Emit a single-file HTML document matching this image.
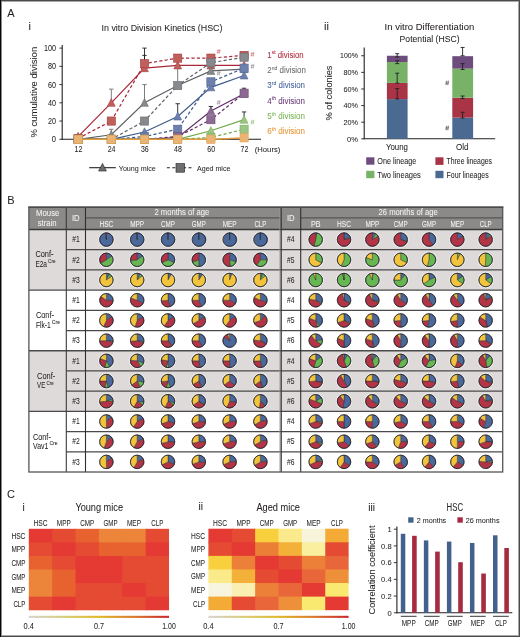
<!DOCTYPE html>
<html><head><meta charset="utf-8"><style>
html,body{margin:0;padding:0;background:#fff;overflow:hidden;width:520px;height:637px;}
svg{display:block;will-change:transform;}
text{font-family:"Liberation Sans", sans-serif;}
</style></head><body>
<svg width="520" height="637" viewBox="0 0 520 637">
<rect x="0" y="0" width="520" height="637" fill="#fff"/>
<text x="7.20" y="17.00" font-size="11" fill="#231f20" stroke="#231f20" stroke-width="0.05" >A</text>
<text x="28.60" y="29.80" font-size="11" fill="#231f20" stroke="#231f20" stroke-width="0.05" >i</text>
<text x="101.50" y="30.60" font-size="9.7" fill="#231f20" stroke="#231f20" stroke-width="0.05" textLength="121.00" lengthAdjust="spacingAndGlyphs" >In vitro Division Kinetics (HSC)</text>
<line x1="62.20" y1="45.00" x2="62.20" y2="139.80" stroke="#231f20" stroke-width="1.1" />
<line x1="61.70" y1="139.30" x2="261.00" y2="139.30" stroke="#231f20" stroke-width="1.1" />
<line x1="59.40" y1="139.30" x2="62.20" y2="139.30" stroke="#231f20" stroke-width="0.9" />
<text x="56.00" y="142.30" font-size="8.6" fill="#231f20" stroke="#231f20" stroke-width="0.05" text-anchor="end" textLength="4.20" lengthAdjust="spacingAndGlyphs" >0</text>
<line x1="59.40" y1="121.06" x2="62.20" y2="121.06" stroke="#231f20" stroke-width="0.9" />
<text x="56.00" y="124.06" font-size="8.6" fill="#231f20" stroke="#231f20" stroke-width="0.05" text-anchor="end" textLength="8.00" lengthAdjust="spacingAndGlyphs" >20</text>
<line x1="59.40" y1="102.82" x2="62.20" y2="102.82" stroke="#231f20" stroke-width="0.9" />
<text x="56.00" y="105.82" font-size="8.6" fill="#231f20" stroke="#231f20" stroke-width="0.05" text-anchor="end" textLength="8.00" lengthAdjust="spacingAndGlyphs" >40</text>
<line x1="59.40" y1="84.58" x2="62.20" y2="84.58" stroke="#231f20" stroke-width="0.9" />
<text x="56.00" y="87.58" font-size="8.6" fill="#231f20" stroke="#231f20" stroke-width="0.05" text-anchor="end" textLength="8.00" lengthAdjust="spacingAndGlyphs" >60</text>
<line x1="59.40" y1="66.34" x2="62.20" y2="66.34" stroke="#231f20" stroke-width="0.9" />
<text x="56.00" y="69.34" font-size="8.6" fill="#231f20" stroke="#231f20" stroke-width="0.05" text-anchor="end" textLength="8.00" lengthAdjust="spacingAndGlyphs" >80</text>
<line x1="59.40" y1="48.10" x2="62.20" y2="48.10" stroke="#231f20" stroke-width="0.9" />
<text x="56.00" y="51.10" font-size="8.6" fill="#231f20" stroke="#231f20" stroke-width="0.05" text-anchor="end" textLength="12.00" lengthAdjust="spacingAndGlyphs" >100</text>
<text x="78.40" y="152.40" font-size="8.6" fill="#231f20" stroke="#231f20" stroke-width="0.05" text-anchor="middle" textLength="7.80" lengthAdjust="spacingAndGlyphs" >12</text>
<text x="111.60" y="152.40" font-size="8.6" fill="#231f20" stroke="#231f20" stroke-width="0.05" text-anchor="middle" textLength="7.80" lengthAdjust="spacingAndGlyphs" >24</text>
<text x="144.80" y="152.40" font-size="8.6" fill="#231f20" stroke="#231f20" stroke-width="0.05" text-anchor="middle" textLength="7.80" lengthAdjust="spacingAndGlyphs" >36</text>
<text x="178.00" y="152.40" font-size="8.6" fill="#231f20" stroke="#231f20" stroke-width="0.05" text-anchor="middle" textLength="7.80" lengthAdjust="spacingAndGlyphs" >48</text>
<text x="211.20" y="152.40" font-size="8.6" fill="#231f20" stroke="#231f20" stroke-width="0.05" text-anchor="middle" textLength="7.80" lengthAdjust="spacingAndGlyphs" >60</text>
<text x="244.40" y="152.40" font-size="8.6" fill="#231f20" stroke="#231f20" stroke-width="0.05" text-anchor="middle" textLength="7.80" lengthAdjust="spacingAndGlyphs" >72</text>
<text x="254.80" y="152.00" font-size="8" fill="#231f20" stroke="#231f20" stroke-width="0.05" textLength="25.50" lengthAdjust="spacingAndGlyphs" >(Hours)</text>
<text x="37.50" y="92.20" font-size="8.6" fill="#231f20" stroke="#231f20" stroke-width="0.05" text-anchor="middle" textLength="90.70" lengthAdjust="spacingAndGlyphs" transform="rotate(-90 37.50 92.20)" >% cumulative division</text>
<line x1="111.30" y1="89.14" x2="111.30" y2="102.82" stroke="#6d6e71" stroke-width="0.9" />
<line x1="109.10" y1="89.14" x2="113.50" y2="89.14" stroke="#6d6e71" stroke-width="0.9" />
<line x1="111.30" y1="129.27" x2="111.30" y2="134.74" stroke="#6d6e71" stroke-width="0.9" />
<line x1="109.10" y1="129.27" x2="113.50" y2="129.27" stroke="#6d6e71" stroke-width="0.9" />
<line x1="144.50" y1="48.10" x2="144.50" y2="63.60" stroke="#231f20" stroke-width="0.9" />
<line x1="142.30" y1="48.10" x2="146.70" y2="48.10" stroke="#231f20" stroke-width="0.9" />
<line x1="144.50" y1="84.58" x2="144.50" y2="102.82" stroke="#6d6e71" stroke-width="0.9" />
<line x1="142.30" y1="84.58" x2="146.70" y2="84.58" stroke="#6d6e71" stroke-width="0.9" />
<line x1="144.50" y1="55.40" x2="144.50" y2="63.60" stroke="#231f20" stroke-width="0.9" />
<line x1="142.30" y1="55.40" x2="146.70" y2="55.40" stroke="#231f20" stroke-width="0.9" />
<line x1="177.70" y1="55.85" x2="177.70" y2="58.13" stroke="#231f20" stroke-width="0.9" />
<line x1="175.50" y1="55.85" x2="179.90" y2="55.85" stroke="#231f20" stroke-width="0.9" />
<line x1="177.70" y1="103.73" x2="177.70" y2="116.50" stroke="#231f20" stroke-width="0.9" />
<line x1="175.50" y1="103.73" x2="179.90" y2="103.73" stroke="#231f20" stroke-width="0.9" />
<line x1="177.70" y1="65.43" x2="177.70" y2="85.49" stroke="#6d6e71" stroke-width="0.9" />
<line x1="175.50" y1="65.43" x2="179.90" y2="65.43" stroke="#6d6e71" stroke-width="0.9" />
<line x1="210.90" y1="106.47" x2="210.90" y2="111.03" stroke="#231f20" stroke-width="0.9" />
<line x1="208.70" y1="106.47" x2="213.10" y2="106.47" stroke="#231f20" stroke-width="0.9" />
<line x1="244.10" y1="88.23" x2="244.10" y2="93.24" stroke="#231f20" stroke-width="0.9" />
<line x1="241.90" y1="88.23" x2="246.30" y2="88.23" stroke="#231f20" stroke-width="0.9" />
<line x1="244.10" y1="111.94" x2="244.10" y2="119.69" stroke="#231f20" stroke-width="0.9" />
<line x1="241.90" y1="111.94" x2="246.30" y2="111.94" stroke="#231f20" stroke-width="0.9" />
<line x1="244.10" y1="127.90" x2="244.10" y2="129.27" stroke="#231f20" stroke-width="0.9" />
<line x1="241.90" y1="127.90" x2="246.30" y2="127.90" stroke="#231f20" stroke-width="0.9" />
<polyline points="78.10,138.39 111.30,121.06 144.50,63.60 177.70,58.13 210.90,58.13 244.10,55.40" fill="none" stroke="#a8283a" stroke-width="1.2" stroke-dasharray="3.2,2.2"/>
<polyline points="78.10,136.56 111.30,102.82 144.50,68.16 177.70,65.43 210.90,65.43 244.10,65.43" fill="none" stroke="#a8283a" stroke-width="1.2"/>
<path d="M78.10,132.36 L82.00,140.06 L74.20,140.06 Z" fill="#c0605a" stroke="#a83a40" stroke-width="0.6"/>
<path d="M111.30,98.62 L115.20,106.32 L107.40,106.32 Z" fill="#c0605a" stroke="#a83a40" stroke-width="0.6"/>
<path d="M144.50,63.96 L148.40,71.66 L140.60,71.66 Z" fill="#c0605a" stroke="#a83a40" stroke-width="0.6"/>
<path d="M177.70,61.23 L181.60,68.93 L173.80,68.93 Z" fill="#c0605a" stroke="#a83a40" stroke-width="0.6"/>
<path d="M210.90,61.23 L214.80,68.93 L207.00,68.93 Z" fill="#c0605a" stroke="#a83a40" stroke-width="0.6"/>
<path d="M244.10,61.23 L248.00,68.93 L240.20,68.93 Z" fill="#c0605a" stroke="#a83a40" stroke-width="0.6"/>
<rect x="74.00" y="134.29" width="8.2" height="8.2" fill="#c0605a" stroke="#a83a40" stroke-width="0.6"/>
<rect x="107.20" y="116.96" width="8.2" height="8.2" fill="#c0605a" stroke="#a83a40" stroke-width="0.6"/>
<rect x="140.40" y="59.50" width="8.2" height="8.2" fill="#c0605a" stroke="#a83a40" stroke-width="0.6"/>
<rect x="173.60" y="54.03" width="8.2" height="8.2" fill="#c0605a" stroke="#a83a40" stroke-width="0.6"/>
<rect x="206.80" y="54.03" width="8.2" height="8.2" fill="#c0605a" stroke="#a83a40" stroke-width="0.6"/>
<rect x="240.00" y="51.30" width="8.2" height="8.2" fill="#c0605a" stroke="#a83a40" stroke-width="0.6"/>
<polyline points="78.10,139.30 111.30,139.30 144.50,121.06 177.70,85.49 210.90,62.69 244.10,57.22" fill="none" stroke="#5f6165" stroke-width="1.2" stroke-dasharray="3.2,2.2"/>
<polyline points="78.10,139.30 111.30,134.74 144.50,102.82 177.70,85.49 210.90,70.90 244.10,69.08" fill="none" stroke="#5f6165" stroke-width="1.2"/>
<path d="M78.10,135.10 L82.00,142.80 L74.20,142.80 Z" fill="#88898d" stroke="#6a6b6f" stroke-width="0.6"/>
<path d="M111.30,130.54 L115.20,138.24 L107.40,138.24 Z" fill="#88898d" stroke="#6a6b6f" stroke-width="0.6"/>
<path d="M144.50,98.62 L148.40,106.32 L140.60,106.32 Z" fill="#88898d" stroke="#6a6b6f" stroke-width="0.6"/>
<path d="M177.70,81.29 L181.60,88.99 L173.80,88.99 Z" fill="#88898d" stroke="#6a6b6f" stroke-width="0.6"/>
<path d="M210.90,66.70 L214.80,74.40 L207.00,74.40 Z" fill="#88898d" stroke="#6a6b6f" stroke-width="0.6"/>
<path d="M244.10,64.88 L248.00,72.58 L240.20,72.58 Z" fill="#88898d" stroke="#6a6b6f" stroke-width="0.6"/>
<rect x="74.00" y="135.20" width="8.2" height="8.2" fill="#88898d" stroke="#6a6b6f" stroke-width="0.6"/>
<rect x="107.20" y="135.20" width="8.2" height="8.2" fill="#88898d" stroke="#6a6b6f" stroke-width="0.6"/>
<rect x="140.40" y="116.96" width="8.2" height="8.2" fill="#88898d" stroke="#6a6b6f" stroke-width="0.6"/>
<rect x="173.60" y="81.39" width="8.2" height="8.2" fill="#88898d" stroke="#6a6b6f" stroke-width="0.6"/>
<rect x="206.80" y="58.59" width="8.2" height="8.2" fill="#88898d" stroke="#6a6b6f" stroke-width="0.6"/>
<rect x="240.00" y="53.12" width="8.2" height="8.2" fill="#88898d" stroke="#6a6b6f" stroke-width="0.6"/>
<polyline points="78.10,139.30 111.30,139.30 144.50,136.56 177.70,129.27 210.90,81.84 244.10,68.16" fill="none" stroke="#3d5a8a" stroke-width="1.2" stroke-dasharray="3.2,2.2"/>
<polyline points="78.10,139.30 111.30,139.30 144.50,132.00 177.70,116.50 210.90,87.32 244.10,75.46" fill="none" stroke="#3d5a8a" stroke-width="1.2"/>
<path d="M78.10,135.10 L82.00,142.80 L74.20,142.80 Z" fill="#6e80ad" stroke="#4f6797" stroke-width="0.6"/>
<path d="M111.30,135.10 L115.20,142.80 L107.40,142.80 Z" fill="#6e80ad" stroke="#4f6797" stroke-width="0.6"/>
<path d="M144.50,127.80 L148.40,135.50 L140.60,135.50 Z" fill="#6e80ad" stroke="#4f6797" stroke-width="0.6"/>
<path d="M177.70,112.30 L181.60,120.00 L173.80,120.00 Z" fill="#6e80ad" stroke="#4f6797" stroke-width="0.6"/>
<path d="M210.90,83.12 L214.80,90.82 L207.00,90.82 Z" fill="#6e80ad" stroke="#4f6797" stroke-width="0.6"/>
<path d="M244.10,71.26 L248.00,78.96 L240.20,78.96 Z" fill="#6e80ad" stroke="#4f6797" stroke-width="0.6"/>
<rect x="74.00" y="135.20" width="8.2" height="8.2" fill="#6e80ad" stroke="#4f6797" stroke-width="0.6"/>
<rect x="107.20" y="135.20" width="8.2" height="8.2" fill="#6e80ad" stroke="#4f6797" stroke-width="0.6"/>
<rect x="140.40" y="132.46" width="8.2" height="8.2" fill="#6e80ad" stroke="#4f6797" stroke-width="0.6"/>
<rect x="173.60" y="125.17" width="8.2" height="8.2" fill="#6e80ad" stroke="#4f6797" stroke-width="0.6"/>
<rect x="206.80" y="77.74" width="8.2" height="8.2" fill="#6e80ad" stroke="#4f6797" stroke-width="0.6"/>
<rect x="240.00" y="64.06" width="8.2" height="8.2" fill="#6e80ad" stroke="#4f6797" stroke-width="0.6"/>
<polyline points="78.10,139.30 111.30,139.30 144.50,139.30 177.70,136.56 210.90,119.69 244.10,93.24" fill="none" stroke="#5e2f66" stroke-width="1.2" stroke-dasharray="3.2,2.2"/>
<polyline points="78.10,139.30 111.30,139.30 144.50,139.30 177.70,137.48 210.90,111.03 244.10,93.70" fill="none" stroke="#5e2f66" stroke-width="1.2"/>
<path d="M78.10,135.10 L82.00,142.80 L74.20,142.80 Z" fill="#8d6a93" stroke="#6d4a75" stroke-width="0.6"/>
<path d="M111.30,135.10 L115.20,142.80 L107.40,142.80 Z" fill="#8d6a93" stroke="#6d4a75" stroke-width="0.6"/>
<path d="M144.50,135.10 L148.40,142.80 L140.60,142.80 Z" fill="#8d6a93" stroke="#6d4a75" stroke-width="0.6"/>
<path d="M177.70,133.28 L181.60,140.98 L173.80,140.98 Z" fill="#8d6a93" stroke="#6d4a75" stroke-width="0.6"/>
<path d="M210.90,106.83 L214.80,114.53 L207.00,114.53 Z" fill="#8d6a93" stroke="#6d4a75" stroke-width="0.6"/>
<path d="M244.10,89.50 L248.00,97.20 L240.20,97.20 Z" fill="#8d6a93" stroke="#6d4a75" stroke-width="0.6"/>
<rect x="74.00" y="135.20" width="8.2" height="8.2" fill="#8d6a93" stroke="#6d4a75" stroke-width="0.6"/>
<rect x="107.20" y="135.20" width="8.2" height="8.2" fill="#8d6a93" stroke="#6d4a75" stroke-width="0.6"/>
<rect x="140.40" y="135.20" width="8.2" height="8.2" fill="#8d6a93" stroke="#6d4a75" stroke-width="0.6"/>
<rect x="173.60" y="132.46" width="8.2" height="8.2" fill="#8d6a93" stroke="#6d4a75" stroke-width="0.6"/>
<rect x="206.80" y="115.59" width="8.2" height="8.2" fill="#8d6a93" stroke="#6d4a75" stroke-width="0.6"/>
<rect x="240.00" y="89.14" width="8.2" height="8.2" fill="#8d6a93" stroke="#6d4a75" stroke-width="0.6"/>
<polyline points="78.10,139.30 111.30,139.30 144.50,139.30 177.70,139.30 210.90,137.48 244.10,129.27" fill="none" stroke="#6fa94a" stroke-width="1.2" stroke-dasharray="3.2,2.2"/>
<polyline points="78.10,139.30 111.30,139.30 144.50,139.30 177.70,139.30 210.90,130.73 244.10,119.69" fill="none" stroke="#6fa94a" stroke-width="1.2"/>
<path d="M78.10,135.10 L82.00,142.80 L74.20,142.80 Z" fill="#9cc585" stroke="#7cae5e" stroke-width="0.6"/>
<path d="M111.30,135.10 L115.20,142.80 L107.40,142.80 Z" fill="#9cc585" stroke="#7cae5e" stroke-width="0.6"/>
<path d="M144.50,135.10 L148.40,142.80 L140.60,142.80 Z" fill="#9cc585" stroke="#7cae5e" stroke-width="0.6"/>
<path d="M177.70,135.10 L181.60,142.80 L173.80,142.80 Z" fill="#9cc585" stroke="#7cae5e" stroke-width="0.6"/>
<path d="M210.90,126.53 L214.80,134.23 L207.00,134.23 Z" fill="#9cc585" stroke="#7cae5e" stroke-width="0.6"/>
<path d="M244.10,115.49 L248.00,123.19 L240.20,123.19 Z" fill="#9cc585" stroke="#7cae5e" stroke-width="0.6"/>
<rect x="74.00" y="135.20" width="8.2" height="8.2" fill="#9cc585" stroke="#7cae5e" stroke-width="0.6"/>
<rect x="107.20" y="135.20" width="8.2" height="8.2" fill="#9cc585" stroke="#7cae5e" stroke-width="0.6"/>
<rect x="140.40" y="135.20" width="8.2" height="8.2" fill="#9cc585" stroke="#7cae5e" stroke-width="0.6"/>
<rect x="173.60" y="135.20" width="8.2" height="8.2" fill="#9cc585" stroke="#7cae5e" stroke-width="0.6"/>
<rect x="206.80" y="133.38" width="8.2" height="8.2" fill="#9cc585" stroke="#7cae5e" stroke-width="0.6"/>
<rect x="240.00" y="125.17" width="8.2" height="8.2" fill="#9cc585" stroke="#7cae5e" stroke-width="0.6"/>
<polyline points="78.10,139.30 111.30,139.30 144.50,139.30 177.70,139.30 210.90,139.30 244.10,137.84" fill="none" stroke="#e59a3a" stroke-width="1.2" stroke-dasharray="3.2,2.2"/>
<polyline points="78.10,139.30 111.30,139.30 144.50,139.30 177.70,139.30 210.90,139.30 244.10,137.93" fill="none" stroke="#e59a3a" stroke-width="1.2"/>
<path d="M78.10,135.10 L82.00,142.80 L74.20,142.80 Z" fill="#ebb474" stroke="#e6a455" stroke-width="0.6"/>
<path d="M111.30,135.10 L115.20,142.80 L107.40,142.80 Z" fill="#ebb474" stroke="#e6a455" stroke-width="0.6"/>
<path d="M144.50,135.10 L148.40,142.80 L140.60,142.80 Z" fill="#ebb474" stroke="#e6a455" stroke-width="0.6"/>
<path d="M177.70,135.10 L181.60,142.80 L173.80,142.80 Z" fill="#ebb474" stroke="#e6a455" stroke-width="0.6"/>
<path d="M210.90,135.10 L214.80,142.80 L207.00,142.80 Z" fill="#ebb474" stroke="#e6a455" stroke-width="0.6"/>
<path d="M244.10,133.73 L248.00,141.43 L240.20,141.43 Z" fill="#ebb474" stroke="#e6a455" stroke-width="0.6"/>
<rect x="74.00" y="135.20" width="8.2" height="8.2" fill="#ebb474" stroke="#e6a455" stroke-width="0.6"/>
<rect x="107.20" y="135.20" width="8.2" height="8.2" fill="#ebb474" stroke="#e6a455" stroke-width="0.6"/>
<rect x="140.40" y="135.20" width="8.2" height="8.2" fill="#ebb474" stroke="#e6a455" stroke-width="0.6"/>
<rect x="173.60" y="135.20" width="8.2" height="8.2" fill="#ebb474" stroke="#e6a455" stroke-width="0.6"/>
<rect x="206.80" y="135.20" width="8.2" height="8.2" fill="#ebb474" stroke="#e6a455" stroke-width="0.6"/>
<rect x="240.00" y="133.74" width="8.2" height="8.2" fill="#ebb474" stroke="#e6a455" stroke-width="0.6"/>
<path d="M217.50,53.70 L218.30,49.10 M219.20,53.70 L220.00,49.10 M217.00,50.60 L220.50,50.60 M216.70,52.30 L220.20,52.30" stroke="#c0504d" stroke-width="0.55" fill="none" stroke-opacity="0.85"/>
<path d="M217.50,75.40 L218.30,70.80 M219.20,75.40 L220.00,70.80 M217.00,72.30 L220.50,72.30 M216.70,74.00 L220.20,74.00" stroke="#77787b" stroke-width="0.55" fill="none" stroke-opacity="0.85"/>
<path d="M217.50,104.70 L218.30,100.10 M219.20,104.70 L220.00,100.10 M217.00,101.60 L220.50,101.60 M216.70,103.30 L220.20,103.30" stroke="#8d6a93" stroke-width="0.55" fill="none" stroke-opacity="0.85"/>
<path d="M251.30,56.50 L252.10,51.90 M253.00,56.50 L253.80,51.90 M250.80,53.40 L254.30,53.40 M250.50,55.10 L254.00,55.10" stroke="#c0504d" stroke-width="0.55" fill="none" stroke-opacity="0.85"/>
<path d="M251.30,68.60 L252.10,64.00 M253.00,68.60 L253.80,64.00 M250.80,65.50 L254.30,65.50 M250.50,67.20 L254.00,67.20" stroke="#77787b" stroke-width="0.55" fill="none" stroke-opacity="0.85"/>
<path d="M251.30,124.30 L252.10,119.70 M253.00,124.30 L253.80,119.70 M250.80,121.20 L254.30,121.20 M250.50,122.90 L254.00,122.90" stroke="#7cae5e" stroke-width="0.55" fill="none" stroke-opacity="0.85"/>
<text x="267.3" y="57.80" font-size="9" fill="#b03040" stroke="#b03040" stroke-width="0.08" textLength="36.4" lengthAdjust="spacingAndGlyphs">1<tspan font-size="5.8" dy="-3.4">st</tspan><tspan dy="3.4"> division</tspan></text>
<text x="267.3" y="73.10" font-size="9" fill="#6d6e71" stroke="#6d6e71" stroke-width="0.08" textLength="38.6" lengthAdjust="spacingAndGlyphs">2<tspan font-size="5.8" dy="-3.4">nd</tspan><tspan dy="3.4"> division</tspan></text>
<text x="267.3" y="88.40" font-size="9" fill="#4a6aa0" stroke="#4a6aa0" stroke-width="0.08" textLength="37.7" lengthAdjust="spacingAndGlyphs">3<tspan font-size="5.8" dy="-3.4">rd</tspan><tspan dy="3.4"> division</tspan></text>
<text x="267.3" y="103.70" font-size="9" fill="#6b3f7a" stroke="#6b3f7a" stroke-width="0.08" textLength="37.7" lengthAdjust="spacingAndGlyphs">4<tspan font-size="5.8" dy="-3.4">th</tspan><tspan dy="3.4"> division</tspan></text>
<text x="267.3" y="119.00" font-size="9" fill="#7cb85a" stroke="#7cb85a" stroke-width="0.08" textLength="37.7" lengthAdjust="spacingAndGlyphs">5<tspan font-size="5.8" dy="-3.4">th</tspan><tspan dy="3.4"> division</tspan></text>
<text x="267.3" y="134.30" font-size="9" fill="#e8983a" stroke="#e8983a" stroke-width="0.08" textLength="37.7" lengthAdjust="spacingAndGlyphs">6<tspan font-size="5.8" dy="-3.4">th</tspan><tspan dy="3.4"> division</tspan></text>
<line x1="89.20" y1="167.70" x2="115.80" y2="167.70" stroke="#231f20" stroke-width="1.1" />
<path d="M102.5,163.4 L106.4,171 L98.6,171 Z" fill="#6d6e71" stroke="#231f20" stroke-width="0.6"/>
<text x="118.80" y="170.60" font-size="8" fill="#231f20" stroke="#231f20" stroke-width="0.05" textLength="37.00" lengthAdjust="spacingAndGlyphs" >Young mice</text>
<line x1="166.90" y1="167.70" x2="192.30" y2="167.70" stroke="#231f20" stroke-width="1.1" stroke-dasharray="3,2.4"/>
<rect x="176.00" y="163.60" width="8.60" height="8.60" fill="#6d6e71" stroke="#231f20" stroke-width="0.6"/>
<text x="197.00" y="170.60" font-size="8" fill="#231f20" stroke="#231f20" stroke-width="0.05" textLength="33.40" lengthAdjust="spacingAndGlyphs" >Aged mice</text>
<text x="324.00" y="29.60" font-size="11" fill="#231f20" stroke="#231f20" stroke-width="0.05" >ii</text>
<text x="429.40" y="30.40" font-size="9.7" fill="#231f20" stroke="#231f20" stroke-width="0.05" text-anchor="middle" textLength="89.60" lengthAdjust="spacingAndGlyphs" >In vitro Differentiation</text>
<text x="429.60" y="41.50" font-size="9.7" fill="#231f20" stroke="#231f20" stroke-width="0.05" text-anchor="middle" textLength="60.00" lengthAdjust="spacingAndGlyphs" >Potential (HSC)</text>
<line x1="364.20" y1="47.50" x2="364.20" y2="139.30" stroke="#231f20" stroke-width="1.1" />
<line x1="363.70" y1="138.80" x2="495.20" y2="138.80" stroke="#231f20" stroke-width="1.1" />
<line x1="361.20" y1="138.80" x2="364.20" y2="138.80" stroke="#231f20" stroke-width="0.9" />
<text x="358.00" y="141.50" font-size="7.6" fill="#231f20" stroke="#231f20" stroke-width="0.05" text-anchor="end" textLength="11.00" lengthAdjust="spacingAndGlyphs" >0%</text>
<line x1="361.20" y1="122.19" x2="364.20" y2="122.19" stroke="#231f20" stroke-width="0.9" />
<text x="358.00" y="124.89" font-size="7.6" fill="#231f20" stroke="#231f20" stroke-width="0.05" text-anchor="end" textLength="14.60" lengthAdjust="spacingAndGlyphs" >20%</text>
<line x1="361.20" y1="105.58" x2="364.20" y2="105.58" stroke="#231f20" stroke-width="0.9" />
<text x="358.00" y="108.28" font-size="7.6" fill="#231f20" stroke="#231f20" stroke-width="0.05" text-anchor="end" textLength="14.60" lengthAdjust="spacingAndGlyphs" >40%</text>
<line x1="361.20" y1="88.97" x2="364.20" y2="88.97" stroke="#231f20" stroke-width="0.9" />
<text x="358.00" y="91.67" font-size="7.6" fill="#231f20" stroke="#231f20" stroke-width="0.05" text-anchor="end" textLength="14.60" lengthAdjust="spacingAndGlyphs" >60%</text>
<line x1="361.20" y1="72.36" x2="364.20" y2="72.36" stroke="#231f20" stroke-width="0.9" />
<text x="358.00" y="75.06" font-size="7.6" fill="#231f20" stroke="#231f20" stroke-width="0.05" text-anchor="end" textLength="14.60" lengthAdjust="spacingAndGlyphs" >80%</text>
<line x1="361.20" y1="55.75" x2="364.20" y2="55.75" stroke="#231f20" stroke-width="0.9" />
<text x="358.00" y="58.45" font-size="7.6" fill="#231f20" stroke="#231f20" stroke-width="0.05" text-anchor="end" textLength="18.00" lengthAdjust="spacingAndGlyphs" >100%</text>
<text x="332.00" y="93.00" font-size="8.6" fill="#231f20" stroke="#231f20" stroke-width="0.05" text-anchor="middle" textLength="55.00" lengthAdjust="spacingAndGlyphs" transform="rotate(-90 332.00 93.00)" >% of colonies</text>
<rect x="386.90" y="99.10" width="20.70" height="39.70" fill="#4b6a92" />
<rect x="386.90" y="82.91" width="20.70" height="16.19" fill="#a93445" />
<rect x="386.90" y="62.06" width="20.70" height="20.85" fill="#77b266" />
<rect x="386.90" y="55.75" width="20.70" height="6.31" fill="#6e4d7e" />
<rect x="452.30" y="117.62" width="20.80" height="21.18" fill="#4b6a92" />
<rect x="452.30" y="97.69" width="20.80" height="19.93" fill="#a93445" />
<rect x="452.30" y="68.62" width="20.80" height="29.07" fill="#77b266" />
<rect x="452.30" y="56.17" width="20.80" height="12.46" fill="#6e4d7e" />
<line x1="397.20" y1="63.64" x2="397.20" y2="60.73" stroke="#231f20" stroke-width="0.9" />
<line x1="395.20" y1="63.64" x2="399.20" y2="63.64" stroke="#231f20" stroke-width="0.9" />
<line x1="395.20" y1="60.73" x2="399.20" y2="60.73" stroke="#231f20" stroke-width="0.9" />
<line x1="397.20" y1="57.00" x2="397.20" y2="53.67" stroke="#231f20" stroke-width="0.9" />
<line x1="395.20" y1="57.00" x2="399.20" y2="57.00" stroke="#231f20" stroke-width="0.9" />
<line x1="395.20" y1="53.67" x2="399.20" y2="53.67" stroke="#231f20" stroke-width="0.9" />
<line x1="397.20" y1="83.16" x2="397.20" y2="73.19" stroke="#231f20" stroke-width="0.9" />
<line x1="395.20" y1="83.16" x2="399.20" y2="83.16" stroke="#231f20" stroke-width="0.9" />
<line x1="395.20" y1="73.19" x2="399.20" y2="73.19" stroke="#231f20" stroke-width="0.9" />
<line x1="397.20" y1="98.94" x2="397.20" y2="88.55" stroke="#231f20" stroke-width="0.9" />
<line x1="395.20" y1="98.94" x2="399.20" y2="98.94" stroke="#231f20" stroke-width="0.9" />
<line x1="395.20" y1="88.55" x2="399.20" y2="88.55" stroke="#231f20" stroke-width="0.9" />
<line x1="462.60" y1="55.75" x2="462.60" y2="47.45" stroke="#231f20" stroke-width="0.9" />
<line x1="460.60" y1="55.75" x2="464.60" y2="55.75" stroke="#231f20" stroke-width="0.9" />
<line x1="460.60" y1="47.45" x2="464.60" y2="47.45" stroke="#231f20" stroke-width="0.9" />
<line x1="462.60" y1="69.45" x2="462.60" y2="63.64" stroke="#231f20" stroke-width="0.9" />
<line x1="460.60" y1="69.45" x2="464.60" y2="69.45" stroke="#231f20" stroke-width="0.9" />
<line x1="460.60" y1="63.64" x2="464.60" y2="63.64" stroke="#231f20" stroke-width="0.9" />
<line x1="462.60" y1="98.52" x2="462.60" y2="96.03" stroke="#231f20" stroke-width="0.9" />
<line x1="460.60" y1="98.52" x2="464.60" y2="98.52" stroke="#231f20" stroke-width="0.9" />
<line x1="460.60" y1="96.03" x2="464.60" y2="96.03" stroke="#231f20" stroke-width="0.9" />
<line x1="462.60" y1="118.04" x2="462.60" y2="112.22" stroke="#231f20" stroke-width="0.9" />
<line x1="460.60" y1="118.04" x2="464.60" y2="118.04" stroke="#231f20" stroke-width="0.9" />
<line x1="460.60" y1="112.22" x2="464.60" y2="112.22" stroke="#231f20" stroke-width="0.9" />
<path d="M446.00,85.20 L446.80,80.60 M447.70,85.20 L448.50,80.60 M445.50,82.10 L449.00,82.10 M445.20,83.80 L448.70,83.80" stroke="#231f20" stroke-width="0.55" fill="none" stroke-opacity="0.85"/>
<path d="M446.00,130.30 L446.80,125.70 M447.70,130.30 L448.50,125.70 M445.50,127.20 L449.00,127.20 M445.20,128.90 L448.70,128.90" stroke="#231f20" stroke-width="0.55" fill="none" stroke-opacity="0.85"/>
<text x="396.90" y="149.60" font-size="8.4" fill="#231f20" stroke="#231f20" stroke-width="0.05" text-anchor="middle" textLength="22.00" lengthAdjust="spacingAndGlyphs" >Young</text>
<text x="462.30" y="149.60" font-size="8.4" fill="#231f20" stroke="#231f20" stroke-width="0.05" text-anchor="middle" textLength="12.50" lengthAdjust="spacingAndGlyphs" >Old</text>
<rect x="366.20" y="157.30" width="8.20" height="7.40" fill="#6e4d7e" />
<text x="377.30" y="164.20" font-size="8.2" fill="#231f20" stroke="#231f20" stroke-width="0.05" textLength="39.00" lengthAdjust="spacingAndGlyphs" >One lineage</text>
<rect x="366.20" y="170.80" width="8.20" height="7.40" fill="#77b266" />
<text x="377.30" y="177.50" font-size="8.2" fill="#231f20" stroke="#231f20" stroke-width="0.05" textLength="43.50" lengthAdjust="spacingAndGlyphs" >Two lineages</text>
<rect x="435.40" y="157.30" width="8.10" height="7.60" fill="#a93445" />
<text x="446.50" y="164.20" font-size="8.2" fill="#231f20" stroke="#231f20" stroke-width="0.05" textLength="45.50" lengthAdjust="spacingAndGlyphs" >Three lineages</text>
<rect x="435.40" y="170.80" width="8.10" height="7.40" fill="#4b6a92" />
<text x="446.50" y="177.50" font-size="8.2" fill="#231f20" stroke="#231f20" stroke-width="0.05" textLength="42.20" lengthAdjust="spacingAndGlyphs" >Four lineages</text>
<text x="7.30" y="204.00" font-size="11" fill="#231f20" stroke="#231f20" stroke-width="0.05" >B</text>
<rect x="28.90" y="207.00" width="473.80" height="22.50" fill="#8b8a88" />
<rect x="28.90" y="229.50" width="473.80" height="60.62" fill="#dddad9" />
<rect x="28.90" y="290.12" width="473.80" height="60.62" fill="#ffffff" />
<rect x="28.90" y="350.75" width="473.80" height="60.62" fill="#dddad9" />
<rect x="28.90" y="411.38" width="473.80" height="60.62" fill="#ffffff" />
<line x1="85.50" y1="217.80" x2="279.90" y2="217.80" stroke="#555555" stroke-width="1.2" />
<line x1="300.70" y1="217.80" x2="502.70" y2="217.80" stroke="#555555" stroke-width="1.2" />
<line x1="66.30" y1="249.71" x2="502.70" y2="249.71" stroke="#4a4a4a" stroke-width="1.2" />
<line x1="66.30" y1="269.92" x2="502.70" y2="269.92" stroke="#4a4a4a" stroke-width="1.2" />
<line x1="28.90" y1="290.12" x2="502.70" y2="290.12" stroke="#4a4a4a" stroke-width="1.4" />
<line x1="66.30" y1="310.33" x2="502.70" y2="310.33" stroke="#4a4a4a" stroke-width="1.2" />
<line x1="66.30" y1="330.54" x2="502.70" y2="330.54" stroke="#4a4a4a" stroke-width="1.2" />
<line x1="28.90" y1="350.75" x2="502.70" y2="350.75" stroke="#4a4a4a" stroke-width="1.4" />
<line x1="66.30" y1="370.96" x2="502.70" y2="370.96" stroke="#4a4a4a" stroke-width="1.2" />
<line x1="66.30" y1="391.17" x2="502.70" y2="391.17" stroke="#4a4a4a" stroke-width="1.2" />
<line x1="28.90" y1="411.38" x2="502.70" y2="411.38" stroke="#4a4a4a" stroke-width="1.4" />
<line x1="66.30" y1="431.58" x2="502.70" y2="431.58" stroke="#4a4a4a" stroke-width="1.2" />
<line x1="66.30" y1="451.79" x2="502.70" y2="451.79" stroke="#4a4a4a" stroke-width="1.2" />
<line x1="28.90" y1="229.50" x2="502.70" y2="229.50" stroke="#3a3a3a" stroke-width="1.4" />
<line x1="66.30" y1="207.00" x2="66.30" y2="472.00" stroke="#3a3a3a" stroke-width="1.1" />
<line x1="85.50" y1="207.00" x2="85.50" y2="472.00" stroke="#2f2f2f" stroke-width="1.1" />
<line x1="279.90" y1="207.00" x2="279.90" y2="472.00" stroke="#9a9a9a" stroke-width="0.8" />
<line x1="281.20" y1="207.00" x2="281.20" y2="472.00" stroke="#3a3a3a" stroke-width="1.3" />
<line x1="300.70" y1="207.00" x2="300.70" y2="472.00" stroke="#2f2f2f" stroke-width="1.1" />
<rect x="28.90" y="207.00" width="473.80" height="265.00" fill="none" stroke="#555" stroke-width="1.3"/>
<line x1="28.30" y1="207.40" x2="503.30" y2="207.40" stroke="#4c4c4c" stroke-width="1.1" />
<text x="47.70" y="216.20" font-size="8.8" fill="#f4f4f4" stroke="#f4f4f4" stroke-width="0.05" text-anchor="middle" textLength="23.40" lengthAdjust="spacingAndGlyphs" >Mouse</text>
<text x="47.10" y="225.90" font-size="8.8" fill="#f4f4f4" stroke="#f4f4f4" stroke-width="0.05" text-anchor="middle" textLength="18.80" lengthAdjust="spacingAndGlyphs" >strain</text>
<text x="75.80" y="221.20" font-size="8.6" fill="#f4f4f4" stroke="#f4f4f4" stroke-width="0.05" text-anchor="middle" textLength="7.70" lengthAdjust="spacingAndGlyphs" >ID</text>
<text x="290.80" y="221.20" font-size="8.6" fill="#f4f4f4" stroke="#f4f4f4" stroke-width="0.05" text-anchor="middle" textLength="7.70" lengthAdjust="spacingAndGlyphs" >ID</text>
<text x="181.80" y="215.30" font-size="8.6" fill="#f4f4f4" stroke="#f4f4f4" stroke-width="0.05" text-anchor="middle" textLength="54.80" lengthAdjust="spacingAndGlyphs" >2 months of age</text>
<text x="408.10" y="215.30" font-size="8.6" fill="#f4f4f4" stroke="#f4f4f4" stroke-width="0.05" text-anchor="middle" textLength="59.20" lengthAdjust="spacingAndGlyphs" >26 months of age</text>
<text x="106.40" y="226.80" font-size="8.6" fill="#f4f4f4" stroke="#f4f4f4" stroke-width="0.05" text-anchor="middle" textLength="13.90" lengthAdjust="spacingAndGlyphs" >HSC</text>
<text x="137.20" y="226.80" font-size="8.6" fill="#f4f4f4" stroke="#f4f4f4" stroke-width="0.05" text-anchor="middle" textLength="13.90" lengthAdjust="spacingAndGlyphs" >MPP</text>
<text x="168.00" y="226.80" font-size="8.6" fill="#f4f4f4" stroke="#f4f4f4" stroke-width="0.05" text-anchor="middle" textLength="13.90" lengthAdjust="spacingAndGlyphs" >CMP</text>
<text x="198.80" y="226.80" font-size="8.6" fill="#f4f4f4" stroke="#f4f4f4" stroke-width="0.05" text-anchor="middle" textLength="13.90" lengthAdjust="spacingAndGlyphs" >GMP</text>
<text x="229.60" y="226.80" font-size="8.6" fill="#f4f4f4" stroke="#f4f4f4" stroke-width="0.05" text-anchor="middle" textLength="13.90" lengthAdjust="spacingAndGlyphs" >MEP</text>
<text x="260.40" y="226.80" font-size="8.6" fill="#f4f4f4" stroke="#f4f4f4" stroke-width="0.05" text-anchor="middle" textLength="12.00" lengthAdjust="spacingAndGlyphs" >CLP</text>
<text x="315.70" y="226.80" font-size="8.6" fill="#f4f4f4" stroke="#f4f4f4" stroke-width="0.05" text-anchor="middle" textLength="9.50" lengthAdjust="spacingAndGlyphs" >PB</text>
<text x="344.03" y="226.80" font-size="8.6" fill="#f4f4f4" stroke="#f4f4f4" stroke-width="0.05" text-anchor="middle" textLength="13.90" lengthAdjust="spacingAndGlyphs" >HSC</text>
<text x="372.36" y="226.80" font-size="8.6" fill="#f4f4f4" stroke="#f4f4f4" stroke-width="0.05" text-anchor="middle" textLength="13.90" lengthAdjust="spacingAndGlyphs" >MPP</text>
<text x="400.69" y="226.80" font-size="8.6" fill="#f4f4f4" stroke="#f4f4f4" stroke-width="0.05" text-anchor="middle" textLength="13.90" lengthAdjust="spacingAndGlyphs" >CMP</text>
<text x="429.02" y="226.80" font-size="8.6" fill="#f4f4f4" stroke="#f4f4f4" stroke-width="0.05" text-anchor="middle" textLength="13.90" lengthAdjust="spacingAndGlyphs" >GMP</text>
<text x="457.35" y="226.80" font-size="8.6" fill="#f4f4f4" stroke="#f4f4f4" stroke-width="0.05" text-anchor="middle" textLength="13.90" lengthAdjust="spacingAndGlyphs" >MEP</text>
<text x="485.68" y="226.80" font-size="8.6" fill="#f4f4f4" stroke="#f4f4f4" stroke-width="0.05" text-anchor="middle" textLength="12.00" lengthAdjust="spacingAndGlyphs" >CLP</text>
<text x="35.40" y="256.81" font-size="8.6" fill="#231f20" stroke="#231f20" stroke-width="0.05" textLength="18.10" lengthAdjust="spacingAndGlyphs" >Conf-</text>
<text x="35.40" y="266.51" font-size="8.6" fill="#231f20" stroke="#231f20" stroke-width="0.05" textLength="11.60" lengthAdjust="spacingAndGlyphs" >E2a</text>
<text x="48.10" y="262.81" font-size="5.9" fill="#231f20" stroke="#231f20" stroke-width="0.05" textLength="7.50" lengthAdjust="spacingAndGlyphs" >Cre</text>
<text x="35.90" y="318.24" font-size="8.6" fill="#231f20" stroke="#231f20" stroke-width="0.05" textLength="18.00" lengthAdjust="spacingAndGlyphs" >Conf-</text>
<text x="35.90" y="327.54" font-size="8.6" fill="#231f20" stroke="#231f20" stroke-width="0.05" textLength="14.90" lengthAdjust="spacingAndGlyphs" >Flk-1</text>
<text x="51.80" y="323.84" font-size="5.9" fill="#231f20" stroke="#231f20" stroke-width="0.05" textLength="8.30" lengthAdjust="spacingAndGlyphs" >Cre</text>
<text x="37.10" y="379.06" font-size="8.6" fill="#231f20" stroke="#231f20" stroke-width="0.05" textLength="18.20" lengthAdjust="spacingAndGlyphs" >Conf-</text>
<text x="37.10" y="388.36" font-size="8.6" fill="#231f20" stroke="#231f20" stroke-width="0.05" textLength="8.20" lengthAdjust="spacingAndGlyphs" >VE</text>
<text x="46.50" y="384.66" font-size="5.9" fill="#231f20" stroke="#231f20" stroke-width="0.05" textLength="7.30" lengthAdjust="spacingAndGlyphs" >Cre</text>
<text x="33.10" y="439.79" font-size="8.6" fill="#231f20" stroke="#231f20" stroke-width="0.05" textLength="17.70" lengthAdjust="spacingAndGlyphs" >Conf-</text>
<text x="33.10" y="449.19" font-size="8.6" fill="#231f20" stroke="#231f20" stroke-width="0.05" textLength="15.30" lengthAdjust="spacingAndGlyphs" >Vav1</text>
<text x="49.40" y="445.49" font-size="5.9" fill="#231f20" stroke="#231f20" stroke-width="0.05" textLength="8.30" lengthAdjust="spacingAndGlyphs" >Cre</text>
<text x="75.90" y="242.30" font-size="8.8" fill="#231f20" stroke="#231f20" stroke-width="0.05" text-anchor="middle" textLength="7.50" lengthAdjust="spacingAndGlyphs" >#1</text>
<text x="290.80" y="242.30" font-size="8.8" fill="#231f20" stroke="#231f20" stroke-width="0.05" text-anchor="middle" textLength="7.50" lengthAdjust="spacingAndGlyphs" >#4</text>
<circle cx="106.40" cy="239.60" r="7.75" fill="none" stroke="#ffffff" stroke-width="0.9" stroke-opacity="0.55"/>
<path d="M106.40,239.60 L106.40,232.85 A6.75,6.75 0 1 1 105.46,232.92 Z" fill="#4b689b" stroke="#2a2a33" stroke-width="0.45" stroke-linejoin="round"/>
<path d="M106.40,239.60 L105.46,232.92 A6.75,6.75 0 0 1 106.40,232.85 Z" fill="#b33545" stroke="#2a2a33" stroke-width="0.45" stroke-linejoin="round"/>
<circle cx="106.40" cy="239.60" r="6.75" fill="none" stroke="#222228" stroke-width="0.8"/>
<circle cx="137.20" cy="239.60" r="7.75" fill="none" stroke="#ffffff" stroke-width="0.9" stroke-opacity="0.55"/>
<path d="M137.20,239.60 L137.20,232.85 A6.75,6.75 0 1 1 136.85,232.86 Z" fill="#4b689b" stroke="#2a2a33" stroke-width="0.45" stroke-linejoin="round"/>
<path d="M137.20,239.60 L136.85,232.86 A6.75,6.75 0 0 1 137.20,232.85 Z" fill="#b33545" stroke="#2a2a33" stroke-width="0.45" stroke-linejoin="round"/>
<circle cx="137.20" cy="239.60" r="6.75" fill="none" stroke="#222228" stroke-width="0.8"/>
<circle cx="168.00" cy="239.60" r="7.75" fill="none" stroke="#ffffff" stroke-width="0.9" stroke-opacity="0.55"/>
<path d="M168.00,239.60 L168.00,232.85 A6.75,6.75 0 1 1 167.76,232.86 Z" fill="#4b689b" stroke="#2a2a33" stroke-width="0.45" stroke-linejoin="round"/>
<path d="M168.00,239.60 L167.76,232.86 A6.75,6.75 0 0 1 168.00,232.85 Z" fill="#b33545" stroke="#2a2a33" stroke-width="0.45" stroke-linejoin="round"/>
<circle cx="168.00" cy="239.60" r="6.75" fill="none" stroke="#222228" stroke-width="0.8"/>
<circle cx="198.80" cy="239.60" r="7.75" fill="none" stroke="#ffffff" stroke-width="0.9" stroke-opacity="0.55"/>
<path d="M198.80,239.60 L198.80,232.85 A6.75,6.75 0 1 1 198.68,232.86 Z" fill="#4b689b" stroke="#2a2a33" stroke-width="0.45" stroke-linejoin="round"/>
<path d="M198.80,239.60 L198.68,232.86 A6.75,6.75 0 0 1 198.80,232.85 Z" fill="#b33545" stroke="#2a2a33" stroke-width="0.45" stroke-linejoin="round"/>
<circle cx="198.80" cy="239.60" r="6.75" fill="none" stroke="#222228" stroke-width="0.8"/>
<circle cx="229.60" cy="239.60" r="7.75" fill="none" stroke="#ffffff" stroke-width="0.9" stroke-opacity="0.55"/>
<path d="M229.60,239.60 L229.60,232.85 A6.75,6.75 0 1 1 229.48,232.86 Z" fill="#4b689b" stroke="#2a2a33" stroke-width="0.45" stroke-linejoin="round"/>
<path d="M229.60,239.60 L229.48,232.86 A6.75,6.75 0 0 1 229.60,232.85 Z" fill="#b33545" stroke="#2a2a33" stroke-width="0.45" stroke-linejoin="round"/>
<circle cx="229.60" cy="239.60" r="6.75" fill="none" stroke="#222228" stroke-width="0.8"/>
<circle cx="260.40" cy="239.60" r="7.75" fill="none" stroke="#ffffff" stroke-width="0.9" stroke-opacity="0.55"/>
<path d="M260.40,239.60 L260.40,232.85 A6.75,6.75 0 1 1 260.28,232.86 Z" fill="#4b689b" stroke="#2a2a33" stroke-width="0.45" stroke-linejoin="round"/>
<path d="M260.40,239.60 L260.28,232.86 A6.75,6.75 0 0 1 260.40,232.85 Z" fill="#b33545" stroke="#2a2a33" stroke-width="0.45" stroke-linejoin="round"/>
<circle cx="260.40" cy="239.60" r="6.75" fill="none" stroke="#222228" stroke-width="0.8"/>
<circle cx="315.70" cy="239.60" r="7.75" fill="none" stroke="#ffffff" stroke-width="0.9" stroke-opacity="0.55"/>
<path d="M315.70,239.60 L315.70,232.85 A6.75,6.75 0 0 1 316.87,232.96 Z" fill="#4b689b" stroke="#2a2a33" stroke-width="0.45" stroke-linejoin="round"/>
<path d="M315.70,239.60 L316.87,232.96 A6.75,6.75 0 1 1 313.95,246.12 Z" fill="#66b752" stroke="#2a2a33" stroke-width="0.45" stroke-linejoin="round"/>
<path d="M315.70,239.60 L313.95,246.12 A6.75,6.75 0 0 1 315.70,232.85 Z" fill="#b33545" stroke="#2a2a33" stroke-width="0.45" stroke-linejoin="round"/>
<circle cx="315.70" cy="239.60" r="6.75" fill="none" stroke="#222228" stroke-width="0.8"/>
<circle cx="344.03" cy="239.60" r="7.75" fill="none" stroke="#ffffff" stroke-width="0.9" stroke-opacity="0.55"/>
<path d="M344.03,239.60 L344.03,232.85 A6.75,6.75 0 0 1 350.29,237.08 Z" fill="#4b689b" stroke="#2a2a33" stroke-width="0.45" stroke-linejoin="round"/>
<path d="M344.03,239.60 L350.29,237.08 A6.75,6.75 0 0 1 350.63,238.20 Z" fill="#66b752" stroke="#2a2a33" stroke-width="0.45" stroke-linejoin="round"/>
<path d="M344.03,239.60 L350.63,238.20 A6.75,6.75 0 1 1 344.03,232.85 Z" fill="#b33545" stroke="#2a2a33" stroke-width="0.45" stroke-linejoin="round"/>
<circle cx="344.03" cy="239.60" r="6.75" fill="none" stroke="#222228" stroke-width="0.8"/>
<circle cx="372.36" cy="239.60" r="7.75" fill="none" stroke="#ffffff" stroke-width="0.9" stroke-opacity="0.55"/>
<path d="M372.36,239.60 L372.36,232.85 A6.75,6.75 0 0 1 375.74,233.76 Z" fill="#4b689b" stroke="#2a2a33" stroke-width="0.45" stroke-linejoin="round"/>
<path d="M372.36,239.60 L375.74,233.76 A6.75,6.75 0 0 1 378.21,236.23 Z" fill="#66b752" stroke="#2a2a33" stroke-width="0.45" stroke-linejoin="round"/>
<path d="M372.36,239.60 L378.21,236.23 A6.75,6.75 0 1 1 372.36,232.85 Z" fill="#b33545" stroke="#2a2a33" stroke-width="0.45" stroke-linejoin="round"/>
<circle cx="372.36" cy="239.60" r="6.75" fill="none" stroke="#222228" stroke-width="0.8"/>
<circle cx="400.69" cy="239.60" r="7.75" fill="none" stroke="#ffffff" stroke-width="0.9" stroke-opacity="0.55"/>
<path d="M400.69,239.60 L400.69,232.85 A6.75,6.75 0 0 1 407.21,241.35 Z" fill="#4b689b" stroke="#2a2a33" stroke-width="0.45" stroke-linejoin="round"/>
<path d="M400.69,239.60 L407.21,241.35 A6.75,6.75 0 0 1 407.03,241.91 Z" fill="#66b752" stroke="#2a2a33" stroke-width="0.45" stroke-linejoin="round"/>
<path d="M400.69,239.60 L407.03,241.91 A6.75,6.75 0 1 1 400.69,232.85 Z" fill="#b33545" stroke="#2a2a33" stroke-width="0.45" stroke-linejoin="round"/>
<circle cx="400.69" cy="239.60" r="6.75" fill="none" stroke="#222228" stroke-width="0.8"/>
<circle cx="429.02" cy="239.60" r="7.75" fill="none" stroke="#ffffff" stroke-width="0.9" stroke-opacity="0.55"/>
<path d="M429.02,239.60 L429.02,232.85 A6.75,6.75 0 0 1 432.89,245.13 Z" fill="#4b689b" stroke="#2a2a33" stroke-width="0.45" stroke-linejoin="round"/>
<path d="M429.02,239.60 L432.89,245.13 A6.75,6.75 0 1 1 429.02,232.85 Z" fill="#b33545" stroke="#2a2a33" stroke-width="0.45" stroke-linejoin="round"/>
<circle cx="429.02" cy="239.60" r="6.75" fill="none" stroke="#222228" stroke-width="0.8"/>
<circle cx="457.35" cy="239.60" r="7.75" fill="none" stroke="#ffffff" stroke-width="0.9" stroke-opacity="0.55"/>
<path d="M457.35,239.60 L457.35,232.85 A6.75,6.75 0 0 1 463.20,236.23 Z" fill="#4b689b" stroke="#2a2a33" stroke-width="0.45" stroke-linejoin="round"/>
<path d="M457.35,239.60 L463.20,236.23 A6.75,6.75 0 1 1 457.35,232.85 Z" fill="#b33545" stroke="#2a2a33" stroke-width="0.45" stroke-linejoin="round"/>
<circle cx="457.35" cy="239.60" r="6.75" fill="none" stroke="#222228" stroke-width="0.8"/>
<circle cx="485.68" cy="239.60" r="7.75" fill="none" stroke="#ffffff" stroke-width="0.9" stroke-opacity="0.55"/>
<path d="M485.68,239.60 L485.68,232.85 A6.75,6.75 0 0 1 490.02,234.43 Z" fill="#4b689b" stroke="#2a2a33" stroke-width="0.45" stroke-linejoin="round"/>
<path d="M485.68,239.60 L490.02,234.43 A6.75,6.75 0 0 1 491.21,235.73 Z" fill="#66b752" stroke="#2a2a33" stroke-width="0.45" stroke-linejoin="round"/>
<path d="M485.68,239.60 L491.21,235.73 A6.75,6.75 0 1 1 485.68,232.85 Z" fill="#b33545" stroke="#2a2a33" stroke-width="0.45" stroke-linejoin="round"/>
<circle cx="485.68" cy="239.60" r="6.75" fill="none" stroke="#222228" stroke-width="0.8"/>
<text x="75.90" y="262.51" font-size="8.8" fill="#231f20" stroke="#231f20" stroke-width="0.05" text-anchor="middle" textLength="7.50" lengthAdjust="spacingAndGlyphs" >#2</text>
<text x="290.80" y="262.51" font-size="8.8" fill="#231f20" stroke="#231f20" stroke-width="0.05" text-anchor="middle" textLength="7.50" lengthAdjust="spacingAndGlyphs" >#5</text>
<circle cx="106.40" cy="259.81" r="7.75" fill="none" stroke="#ffffff" stroke-width="0.9" stroke-opacity="0.55"/>
<path d="M106.40,259.81 L106.40,253.06 A6.75,6.75 0 0 1 111.93,255.94 Z" fill="#4b689b" stroke="#2a2a33" stroke-width="0.45" stroke-linejoin="round"/>
<path d="M106.40,259.81 L111.93,255.94 A6.75,6.75 0 1 1 100.55,263.19 Z" fill="#66b752" stroke="#2a2a33" stroke-width="0.45" stroke-linejoin="round"/>
<path d="M106.40,259.81 L100.55,263.19 A6.75,6.75 0 0 1 106.40,253.06 Z" fill="#b33545" stroke="#2a2a33" stroke-width="0.45" stroke-linejoin="round"/>
<circle cx="106.40" cy="259.81" r="6.75" fill="none" stroke="#222228" stroke-width="0.8"/>
<circle cx="137.20" cy="259.81" r="7.75" fill="none" stroke="#ffffff" stroke-width="0.9" stroke-opacity="0.55"/>
<path d="M137.20,259.81 L137.20,253.06 A6.75,6.75 0 0 1 142.73,255.94 Z" fill="#4b689b" stroke="#2a2a33" stroke-width="0.45" stroke-linejoin="round"/>
<path d="M137.20,259.81 L142.73,255.94 A6.75,6.75 0 1 1 130.48,260.40 Z" fill="#66b752" stroke="#2a2a33" stroke-width="0.45" stroke-linejoin="round"/>
<path d="M137.20,259.81 L130.48,260.40 A6.75,6.75 0 0 1 137.20,253.06 Z" fill="#b33545" stroke="#2a2a33" stroke-width="0.45" stroke-linejoin="round"/>
<circle cx="137.20" cy="259.81" r="6.75" fill="none" stroke="#222228" stroke-width="0.8"/>
<circle cx="168.00" cy="259.81" r="7.75" fill="none" stroke="#ffffff" stroke-width="0.9" stroke-opacity="0.55"/>
<path d="M168.00,259.81 L168.00,253.06 A6.75,6.75 0 0 1 174.12,262.67 Z" fill="#4b689b" stroke="#2a2a33" stroke-width="0.45" stroke-linejoin="round"/>
<path d="M168.00,259.81 L174.12,262.67 A6.75,6.75 0 0 1 161.88,262.67 Z" fill="#66b752" stroke="#2a2a33" stroke-width="0.45" stroke-linejoin="round"/>
<path d="M168.00,259.81 L161.88,262.67 A6.75,6.75 0 0 1 168.00,253.06 Z" fill="#b33545" stroke="#2a2a33" stroke-width="0.45" stroke-linejoin="round"/>
<circle cx="168.00" cy="259.81" r="6.75" fill="none" stroke="#222228" stroke-width="0.8"/>
<circle cx="198.80" cy="259.81" r="7.75" fill="none" stroke="#ffffff" stroke-width="0.9" stroke-opacity="0.55"/>
<path d="M198.80,259.81 L198.80,253.06 A6.75,6.75 0 0 1 198.80,266.56 Z" fill="#4b689b" stroke="#2a2a33" stroke-width="0.45" stroke-linejoin="round"/>
<path d="M198.80,259.81 L198.80,266.56 A6.75,6.75 0 0 1 192.46,262.12 Z" fill="#66b752" stroke="#2a2a33" stroke-width="0.45" stroke-linejoin="round"/>
<path d="M198.80,259.81 L192.46,262.12 A6.75,6.75 0 0 1 198.80,253.06 Z" fill="#b33545" stroke="#2a2a33" stroke-width="0.45" stroke-linejoin="round"/>
<circle cx="198.80" cy="259.81" r="6.75" fill="none" stroke="#222228" stroke-width="0.8"/>
<circle cx="229.60" cy="259.81" r="7.75" fill="none" stroke="#ffffff" stroke-width="0.9" stroke-opacity="0.55"/>
<path d="M229.60,259.81 L229.60,253.06 A6.75,6.75 0 0 1 235.94,262.12 Z" fill="#4b689b" stroke="#2a2a33" stroke-width="0.45" stroke-linejoin="round"/>
<path d="M229.60,259.81 L235.94,262.12 A6.75,6.75 0 0 1 230.19,266.54 Z" fill="#66b752" stroke="#2a2a33" stroke-width="0.45" stroke-linejoin="round"/>
<path d="M229.60,259.81 L230.19,266.54 A6.75,6.75 0 1 1 229.60,253.06 Z" fill="#b33545" stroke="#2a2a33" stroke-width="0.45" stroke-linejoin="round"/>
<circle cx="229.60" cy="259.81" r="6.75" fill="none" stroke="#222228" stroke-width="0.8"/>
<circle cx="260.40" cy="259.81" r="7.75" fill="none" stroke="#ffffff" stroke-width="0.9" stroke-opacity="0.55"/>
<path d="M260.40,259.81 L260.40,253.06 A6.75,6.75 0 0 1 267.15,259.81 Z" fill="#4b689b" stroke="#2a2a33" stroke-width="0.45" stroke-linejoin="round"/>
<path d="M260.40,259.81 L267.15,259.81 A6.75,6.75 0 0 1 256.53,265.34 Z" fill="#66b752" stroke="#2a2a33" stroke-width="0.45" stroke-linejoin="round"/>
<path d="M260.40,259.81 L256.53,265.34 A6.75,6.75 0 0 1 260.40,253.06 Z" fill="#b33545" stroke="#2a2a33" stroke-width="0.45" stroke-linejoin="round"/>
<circle cx="260.40" cy="259.81" r="6.75" fill="none" stroke="#222228" stroke-width="0.8"/>
<circle cx="315.70" cy="259.81" r="7.75" fill="none" stroke="#ffffff" stroke-width="0.9" stroke-opacity="0.55"/>
<path d="M315.70,259.81 L315.70,253.06 A6.75,6.75 0 0 1 321.55,263.19 Z" fill="#66b752" stroke="#2a2a33" stroke-width="0.45" stroke-linejoin="round"/>
<path d="M315.70,259.81 L321.55,263.19 A6.75,6.75 0 1 1 315.70,253.06 Z" fill="#f2c43c" stroke="#2a2a33" stroke-width="0.45" stroke-linejoin="round"/>
<circle cx="315.70" cy="259.81" r="6.75" fill="none" stroke="#222228" stroke-width="0.8"/>
<circle cx="344.03" cy="259.81" r="7.75" fill="none" stroke="#ffffff" stroke-width="0.9" stroke-opacity="0.55"/>
<path d="M344.03,259.81 L344.03,253.06 A6.75,6.75 0 1 1 341.18,265.93 Z" fill="#66b752" stroke="#2a2a33" stroke-width="0.45" stroke-linejoin="round"/>
<path d="M344.03,259.81 L341.18,265.93 A6.75,6.75 0 0 1 344.03,253.06 Z" fill="#f2c43c" stroke="#2a2a33" stroke-width="0.45" stroke-linejoin="round"/>
<circle cx="344.03" cy="259.81" r="6.75" fill="none" stroke="#222228" stroke-width="0.8"/>
<circle cx="372.36" cy="259.81" r="7.75" fill="none" stroke="#ffffff" stroke-width="0.9" stroke-opacity="0.55"/>
<path d="M372.36,259.81 L372.36,253.06 A6.75,6.75 0 1 1 366.02,257.50 Z" fill="#66b752" stroke="#2a2a33" stroke-width="0.45" stroke-linejoin="round"/>
<path d="M372.36,259.81 L366.02,257.50 A6.75,6.75 0 0 1 372.36,253.06 Z" fill="#f2c43c" stroke="#2a2a33" stroke-width="0.45" stroke-linejoin="round"/>
<circle cx="372.36" cy="259.81" r="6.75" fill="none" stroke="#222228" stroke-width="0.8"/>
<circle cx="400.69" cy="259.81" r="7.75" fill="none" stroke="#ffffff" stroke-width="0.9" stroke-opacity="0.55"/>
<path d="M400.69,259.81 L400.69,253.06 A6.75,6.75 0 0 1 406.81,262.67 Z" fill="#66b752" stroke="#2a2a33" stroke-width="0.45" stroke-linejoin="round"/>
<path d="M400.69,259.81 L406.81,262.67 A6.75,6.75 0 1 1 400.69,253.06 Z" fill="#f2c43c" stroke="#2a2a33" stroke-width="0.45" stroke-linejoin="round"/>
<circle cx="400.69" cy="259.81" r="6.75" fill="none" stroke="#222228" stroke-width="0.8"/>
<circle cx="429.02" cy="259.81" r="7.75" fill="none" stroke="#ffffff" stroke-width="0.9" stroke-opacity="0.55"/>
<path d="M429.02,259.81 L429.02,253.06 A6.75,6.75 0 1 1 427.27,266.33 Z" fill="#66b752" stroke="#2a2a33" stroke-width="0.45" stroke-linejoin="round"/>
<path d="M429.02,259.81 L427.27,266.33 A6.75,6.75 0 0 1 429.02,253.06 Z" fill="#f2c43c" stroke="#2a2a33" stroke-width="0.45" stroke-linejoin="round"/>
<circle cx="429.02" cy="259.81" r="6.75" fill="none" stroke="#222228" stroke-width="0.8"/>
<circle cx="457.35" cy="259.81" r="7.75" fill="none" stroke="#ffffff" stroke-width="0.9" stroke-opacity="0.55"/>
<path d="M457.35,259.81 L457.35,253.06 A6.75,6.75 0 0 1 460.20,253.69 Z" fill="#66b752" stroke="#2a2a33" stroke-width="0.45" stroke-linejoin="round"/>
<path d="M457.35,259.81 L460.20,253.69 A6.75,6.75 0 1 1 457.35,253.06 Z" fill="#f2c43c" stroke="#2a2a33" stroke-width="0.45" stroke-linejoin="round"/>
<circle cx="457.35" cy="259.81" r="6.75" fill="none" stroke="#222228" stroke-width="0.8"/>
<circle cx="485.68" cy="259.81" r="7.75" fill="none" stroke="#ffffff" stroke-width="0.9" stroke-opacity="0.55"/>
<path d="M485.68,259.81 L485.68,253.06 A6.75,6.75 0 1 1 485.09,266.54 Z" fill="#66b752" stroke="#2a2a33" stroke-width="0.45" stroke-linejoin="round"/>
<path d="M485.68,259.81 L485.09,266.54 A6.75,6.75 0 0 1 485.68,253.06 Z" fill="#f2c43c" stroke="#2a2a33" stroke-width="0.45" stroke-linejoin="round"/>
<circle cx="485.68" cy="259.81" r="6.75" fill="none" stroke="#222228" stroke-width="0.8"/>
<text x="75.90" y="282.72" font-size="8.8" fill="#231f20" stroke="#231f20" stroke-width="0.05" text-anchor="middle" textLength="7.50" lengthAdjust="spacingAndGlyphs" >#3</text>
<text x="290.80" y="282.72" font-size="8.8" fill="#231f20" stroke="#231f20" stroke-width="0.05" text-anchor="middle" textLength="7.50" lengthAdjust="spacingAndGlyphs" >#6</text>
<circle cx="106.40" cy="280.02" r="7.75" fill="none" stroke="#ffffff" stroke-width="0.9" stroke-opacity="0.55"/>
<path d="M106.40,280.02 L106.40,273.27 A6.75,6.75 0 0 1 109.25,273.90 Z" fill="#4b689b" stroke="#2a2a33" stroke-width="0.45" stroke-linejoin="round"/>
<path d="M106.40,280.02 L109.25,273.90 A6.75,6.75 0 0 1 111.93,276.15 Z" fill="#66b752" stroke="#2a2a33" stroke-width="0.45" stroke-linejoin="round"/>
<path d="M106.40,280.02 L111.93,276.15 A6.75,6.75 0 1 1 106.40,273.27 Z" fill="#f2c43c" stroke="#2a2a33" stroke-width="0.45" stroke-linejoin="round"/>
<circle cx="106.40" cy="280.02" r="6.75" fill="none" stroke="#222228" stroke-width="0.8"/>
<circle cx="137.20" cy="280.02" r="7.75" fill="none" stroke="#ffffff" stroke-width="0.9" stroke-opacity="0.55"/>
<path d="M137.20,280.02 L137.20,273.27 A6.75,6.75 0 0 1 140.05,273.90 Z" fill="#4b689b" stroke="#2a2a33" stroke-width="0.45" stroke-linejoin="round"/>
<path d="M137.20,280.02 L140.05,273.90 A6.75,6.75 0 0 1 142.37,275.68 Z" fill="#66b752" stroke="#2a2a33" stroke-width="0.45" stroke-linejoin="round"/>
<path d="M137.20,280.02 L142.37,275.68 A6.75,6.75 0 1 1 137.20,273.27 Z" fill="#f2c43c" stroke="#2a2a33" stroke-width="0.45" stroke-linejoin="round"/>
<circle cx="137.20" cy="280.02" r="6.75" fill="none" stroke="#222228" stroke-width="0.8"/>
<circle cx="168.00" cy="280.02" r="7.75" fill="none" stroke="#ffffff" stroke-width="0.9" stroke-opacity="0.55"/>
<path d="M168.00,280.02 L168.00,273.27 A6.75,6.75 0 0 1 171.38,274.18 Z" fill="#4b689b" stroke="#2a2a33" stroke-width="0.45" stroke-linejoin="round"/>
<path d="M168.00,280.02 L171.38,274.18 A6.75,6.75 0 1 1 168.00,273.27 Z" fill="#f2c43c" stroke="#2a2a33" stroke-width="0.45" stroke-linejoin="round"/>
<circle cx="168.00" cy="280.02" r="6.75" fill="none" stroke="#222228" stroke-width="0.8"/>
<circle cx="198.80" cy="280.02" r="7.75" fill="none" stroke="#ffffff" stroke-width="0.9" stroke-opacity="0.55"/>
<path d="M198.80,280.02 L198.80,273.27 A6.75,6.75 0 0 1 202.67,274.49 Z" fill="#4b689b" stroke="#2a2a33" stroke-width="0.45" stroke-linejoin="round"/>
<path d="M198.80,280.02 L202.67,274.49 A6.75,6.75 0 1 1 198.80,273.27 Z" fill="#f2c43c" stroke="#2a2a33" stroke-width="0.45" stroke-linejoin="round"/>
<circle cx="198.80" cy="280.02" r="6.75" fill="none" stroke="#222228" stroke-width="0.8"/>
<circle cx="229.60" cy="280.02" r="7.75" fill="none" stroke="#ffffff" stroke-width="0.9" stroke-opacity="0.55"/>
<path d="M229.60,280.02 L229.60,273.27 A6.75,6.75 0 0 1 231.91,273.68 Z" fill="#4b689b" stroke="#2a2a33" stroke-width="0.45" stroke-linejoin="round"/>
<path d="M229.60,280.02 L231.91,273.68 A6.75,6.75 0 1 1 229.60,273.27 Z" fill="#f2c43c" stroke="#2a2a33" stroke-width="0.45" stroke-linejoin="round"/>
<circle cx="229.60" cy="280.02" r="6.75" fill="none" stroke="#222228" stroke-width="0.8"/>
<circle cx="260.40" cy="280.02" r="7.75" fill="none" stroke="#ffffff" stroke-width="0.9" stroke-opacity="0.55"/>
<path d="M260.40,280.02 L260.40,273.27 A6.75,6.75 0 0 1 262.71,273.68 Z" fill="#4b689b" stroke="#2a2a33" stroke-width="0.45" stroke-linejoin="round"/>
<path d="M260.40,280.02 L262.71,273.68 A6.75,6.75 0 0 1 265.57,275.68 Z" fill="#66b752" stroke="#2a2a33" stroke-width="0.45" stroke-linejoin="round"/>
<path d="M260.40,280.02 L265.57,275.68 A6.75,6.75 0 1 1 260.40,273.27 Z" fill="#f2c43c" stroke="#2a2a33" stroke-width="0.45" stroke-linejoin="round"/>
<circle cx="260.40" cy="280.02" r="6.75" fill="none" stroke="#222228" stroke-width="0.8"/>
<circle cx="315.70" cy="280.02" r="7.75" fill="none" stroke="#ffffff" stroke-width="0.9" stroke-opacity="0.55"/>
<path d="M315.70,280.02 L315.70,273.27 A6.75,6.75 0 1 1 313.39,273.68 Z" fill="#66b752" stroke="#2a2a33" stroke-width="0.45" stroke-linejoin="round"/>
<path d="M315.70,280.02 L313.39,273.68 A6.75,6.75 0 0 1 315.70,273.27 Z" fill="#f2c43c" stroke="#2a2a33" stroke-width="0.45" stroke-linejoin="round"/>
<circle cx="315.70" cy="280.02" r="6.75" fill="none" stroke="#222228" stroke-width="0.8"/>
<circle cx="344.03" cy="280.02" r="7.75" fill="none" stroke="#ffffff" stroke-width="0.9" stroke-opacity="0.55"/>
<path d="M344.03,280.02 L344.03,273.27 A6.75,6.75 0 1 1 342.63,273.42 Z" fill="#66b752" stroke="#2a2a33" stroke-width="0.45" stroke-linejoin="round"/>
<path d="M344.03,280.02 L342.63,273.42 A6.75,6.75 0 0 1 343.09,273.34 Z" fill="#b33545" stroke="#2a2a33" stroke-width="0.45" stroke-linejoin="round"/>
<path d="M344.03,280.02 L343.09,273.34 A6.75,6.75 0 0 1 344.03,273.27 Z" fill="#f2c43c" stroke="#2a2a33" stroke-width="0.45" stroke-linejoin="round"/>
<circle cx="344.03" cy="280.02" r="6.75" fill="none" stroke="#222228" stroke-width="0.8"/>
<circle cx="372.36" cy="280.02" r="7.75" fill="none" stroke="#ffffff" stroke-width="0.9" stroke-opacity="0.55"/>
<path d="M372.36,280.02 L372.36,273.27 A6.75,6.75 0 0 1 373.30,273.34 Z" fill="#4b689b" stroke="#2a2a33" stroke-width="0.45" stroke-linejoin="round"/>
<path d="M372.36,280.02 L373.30,273.34 A6.75,6.75 0 1 1 369.51,273.90 Z" fill="#66b752" stroke="#2a2a33" stroke-width="0.45" stroke-linejoin="round"/>
<path d="M372.36,280.02 L369.51,273.90 A6.75,6.75 0 0 1 372.36,273.27 Z" fill="#f2c43c" stroke="#2a2a33" stroke-width="0.45" stroke-linejoin="round"/>
<circle cx="372.36" cy="280.02" r="6.75" fill="none" stroke="#222228" stroke-width="0.8"/>
<circle cx="400.69" cy="280.02" r="7.75" fill="none" stroke="#ffffff" stroke-width="0.9" stroke-opacity="0.55"/>
<path d="M400.69,280.02 L400.69,273.27 A6.75,6.75 0 0 1 405.03,274.85 Z" fill="#4b689b" stroke="#2a2a33" stroke-width="0.45" stroke-linejoin="round"/>
<path d="M400.69,280.02 L405.03,274.85 A6.75,6.75 0 1 1 393.94,280.02 Z" fill="#66b752" stroke="#2a2a33" stroke-width="0.45" stroke-linejoin="round"/>
<path d="M400.69,280.02 L393.94,280.02 A6.75,6.75 0 0 1 400.69,273.27 Z" fill="#f2c43c" stroke="#2a2a33" stroke-width="0.45" stroke-linejoin="round"/>
<circle cx="400.69" cy="280.02" r="6.75" fill="none" stroke="#222228" stroke-width="0.8"/>
<circle cx="429.02" cy="280.02" r="7.75" fill="none" stroke="#ffffff" stroke-width="0.9" stroke-opacity="0.55"/>
<path d="M429.02,280.02 L429.02,273.27 A6.75,6.75 0 0 1 435.14,277.17 Z" fill="#4b689b" stroke="#2a2a33" stroke-width="0.45" stroke-linejoin="round"/>
<path d="M429.02,280.02 L435.14,277.17 A6.75,6.75 0 0 1 423.49,283.89 Z" fill="#66b752" stroke="#2a2a33" stroke-width="0.45" stroke-linejoin="round"/>
<path d="M429.02,280.02 L423.49,283.89 A6.75,6.75 0 0 1 429.02,273.27 Z" fill="#f2c43c" stroke="#2a2a33" stroke-width="0.45" stroke-linejoin="round"/>
<circle cx="429.02" cy="280.02" r="6.75" fill="none" stroke="#222228" stroke-width="0.8"/>
<circle cx="457.35" cy="280.02" r="7.75" fill="none" stroke="#ffffff" stroke-width="0.9" stroke-opacity="0.55"/>
<path d="M457.35,280.02 L457.35,273.27 A6.75,6.75 0 0 1 462.88,276.15 Z" fill="#4b689b" stroke="#2a2a33" stroke-width="0.45" stroke-linejoin="round"/>
<path d="M457.35,280.02 L462.88,276.15 A6.75,6.75 0 0 1 462.88,283.89 Z" fill="#66b752" stroke="#2a2a33" stroke-width="0.45" stroke-linejoin="round"/>
<path d="M457.35,280.02 L462.88,283.89 A6.75,6.75 0 1 1 457.35,273.27 Z" fill="#f2c43c" stroke="#2a2a33" stroke-width="0.45" stroke-linejoin="round"/>
<circle cx="457.35" cy="280.02" r="6.75" fill="none" stroke="#222228" stroke-width="0.8"/>
<circle cx="485.68" cy="280.02" r="7.75" fill="none" stroke="#ffffff" stroke-width="0.9" stroke-opacity="0.55"/>
<path d="M485.68,280.02 L485.68,273.27 A6.75,6.75 0 0 1 491.53,276.65 Z" fill="#4b689b" stroke="#2a2a33" stroke-width="0.45" stroke-linejoin="round"/>
<path d="M485.68,280.02 L491.53,276.65 A6.75,6.75 0 0 1 491.21,283.89 Z" fill="#66b752" stroke="#2a2a33" stroke-width="0.45" stroke-linejoin="round"/>
<path d="M485.68,280.02 L491.21,283.89 A6.75,6.75 0 1 1 485.68,273.27 Z" fill="#f2c43c" stroke="#2a2a33" stroke-width="0.45" stroke-linejoin="round"/>
<circle cx="485.68" cy="280.02" r="6.75" fill="none" stroke="#222228" stroke-width="0.8"/>
<text x="75.90" y="302.93" font-size="8.8" fill="#231f20" stroke="#231f20" stroke-width="0.05" text-anchor="middle" textLength="7.50" lengthAdjust="spacingAndGlyphs" >#1</text>
<text x="290.80" y="302.93" font-size="8.8" fill="#231f20" stroke="#231f20" stroke-width="0.05" text-anchor="middle" textLength="7.50" lengthAdjust="spacingAndGlyphs" >#4</text>
<circle cx="106.40" cy="300.23" r="7.75" fill="none" stroke="#ffffff" stroke-width="0.9" stroke-opacity="0.55"/>
<path d="M106.40,300.23 L106.40,293.48 A6.75,6.75 0 0 1 113.12,300.82 Z" fill="#4b689b" stroke="#2a2a33" stroke-width="0.45" stroke-linejoin="round"/>
<path d="M106.40,300.23 L113.12,300.82 A6.75,6.75 0 1 1 100.87,296.36 Z" fill="#b33545" stroke="#2a2a33" stroke-width="0.45" stroke-linejoin="round"/>
<path d="M106.40,300.23 L100.87,296.36 A6.75,6.75 0 0 1 106.40,293.48 Z" fill="#f2c43c" stroke="#2a2a33" stroke-width="0.45" stroke-linejoin="round"/>
<circle cx="106.40" cy="300.23" r="6.75" fill="none" stroke="#222228" stroke-width="0.8"/>
<circle cx="137.20" cy="300.23" r="7.75" fill="none" stroke="#ffffff" stroke-width="0.9" stroke-opacity="0.55"/>
<path d="M137.20,300.23 L137.20,293.48 A6.75,6.75 0 0 1 143.05,303.60 Z" fill="#4b689b" stroke="#2a2a33" stroke-width="0.45" stroke-linejoin="round"/>
<path d="M137.20,300.23 L143.05,303.60 A6.75,6.75 0 0 1 130.86,297.92 Z" fill="#b33545" stroke="#2a2a33" stroke-width="0.45" stroke-linejoin="round"/>
<path d="M137.20,300.23 L130.86,297.92 A6.75,6.75 0 0 1 137.20,293.48 Z" fill="#f2c43c" stroke="#2a2a33" stroke-width="0.45" stroke-linejoin="round"/>
<circle cx="137.20" cy="300.23" r="6.75" fill="none" stroke="#222228" stroke-width="0.8"/>
<circle cx="168.00" cy="300.23" r="7.75" fill="none" stroke="#ffffff" stroke-width="0.9" stroke-opacity="0.55"/>
<path d="M168.00,300.23 L168.00,293.48 A6.75,6.75 0 0 1 170.31,306.57 Z" fill="#4b689b" stroke="#2a2a33" stroke-width="0.45" stroke-linejoin="round"/>
<path d="M168.00,300.23 L170.31,306.57 A6.75,6.75 0 0 1 161.28,300.82 Z" fill="#b33545" stroke="#2a2a33" stroke-width="0.45" stroke-linejoin="round"/>
<path d="M168.00,300.23 L161.28,300.82 A6.75,6.75 0 0 1 168.00,293.48 Z" fill="#f2c43c" stroke="#2a2a33" stroke-width="0.45" stroke-linejoin="round"/>
<circle cx="168.00" cy="300.23" r="6.75" fill="none" stroke="#222228" stroke-width="0.8"/>
<circle cx="198.80" cy="300.23" r="7.75" fill="none" stroke="#ffffff" stroke-width="0.9" stroke-opacity="0.55"/>
<path d="M198.80,300.23 L198.80,293.48 A6.75,6.75 0 0 1 201.11,306.57 Z" fill="#4b689b" stroke="#2a2a33" stroke-width="0.45" stroke-linejoin="round"/>
<path d="M198.80,300.23 L201.11,306.57 A6.75,6.75 0 0 1 192.05,300.23 Z" fill="#b33545" stroke="#2a2a33" stroke-width="0.45" stroke-linejoin="round"/>
<path d="M198.80,300.23 L192.05,300.23 A6.75,6.75 0 0 1 198.80,293.48 Z" fill="#f2c43c" stroke="#2a2a33" stroke-width="0.45" stroke-linejoin="round"/>
<circle cx="198.80" cy="300.23" r="6.75" fill="none" stroke="#222228" stroke-width="0.8"/>
<circle cx="229.60" cy="300.23" r="7.75" fill="none" stroke="#ffffff" stroke-width="0.9" stroke-opacity="0.55"/>
<path d="M229.60,300.23 L229.60,293.48 A6.75,6.75 0 0 1 235.45,303.60 Z" fill="#4b689b" stroke="#2a2a33" stroke-width="0.45" stroke-linejoin="round"/>
<path d="M229.60,300.23 L235.45,303.60 A6.75,6.75 0 0 1 222.85,300.23 Z" fill="#b33545" stroke="#2a2a33" stroke-width="0.45" stroke-linejoin="round"/>
<path d="M229.60,300.23 L222.85,300.23 A6.75,6.75 0 0 1 229.60,293.48 Z" fill="#f2c43c" stroke="#2a2a33" stroke-width="0.45" stroke-linejoin="round"/>
<circle cx="229.60" cy="300.23" r="6.75" fill="none" stroke="#222228" stroke-width="0.8"/>
<circle cx="260.40" cy="300.23" r="7.75" fill="none" stroke="#ffffff" stroke-width="0.9" stroke-opacity="0.55"/>
<path d="M260.40,300.23 L260.40,293.48 A6.75,6.75 0 0 1 266.74,302.54 Z" fill="#4b689b" stroke="#2a2a33" stroke-width="0.45" stroke-linejoin="round"/>
<path d="M260.40,300.23 L266.74,302.54 A6.75,6.75 0 1 1 254.28,297.38 Z" fill="#b33545" stroke="#2a2a33" stroke-width="0.45" stroke-linejoin="round"/>
<path d="M260.40,300.23 L254.28,297.38 A6.75,6.75 0 0 1 260.40,293.48 Z" fill="#f2c43c" stroke="#2a2a33" stroke-width="0.45" stroke-linejoin="round"/>
<circle cx="260.40" cy="300.23" r="6.75" fill="none" stroke="#222228" stroke-width="0.8"/>
<circle cx="315.70" cy="300.23" r="7.75" fill="none" stroke="#ffffff" stroke-width="0.9" stroke-opacity="0.55"/>
<path d="M315.70,300.23 L315.70,293.48 A6.75,6.75 0 0 1 321.82,303.08 Z" fill="#4b689b" stroke="#2a2a33" stroke-width="0.45" stroke-linejoin="round"/>
<path d="M315.70,300.23 L321.82,303.08 A6.75,6.75 0 0 1 321.23,304.10 Z" fill="#66b752" stroke="#2a2a33" stroke-width="0.45" stroke-linejoin="round"/>
<path d="M315.70,300.23 L321.23,304.10 A6.75,6.75 0 0 1 309.05,299.06 Z" fill="#b33545" stroke="#2a2a33" stroke-width="0.45" stroke-linejoin="round"/>
<path d="M315.70,300.23 L309.05,299.06 A6.75,6.75 0 0 1 315.70,293.48 Z" fill="#f2c43c" stroke="#2a2a33" stroke-width="0.45" stroke-linejoin="round"/>
<circle cx="315.70" cy="300.23" r="6.75" fill="none" stroke="#222228" stroke-width="0.8"/>
<circle cx="344.03" cy="300.23" r="7.75" fill="none" stroke="#ffffff" stroke-width="0.9" stroke-opacity="0.55"/>
<path d="M344.03,300.23 L344.03,293.48 A6.75,6.75 0 0 1 350.15,303.08 Z" fill="#4b689b" stroke="#2a2a33" stroke-width="0.45" stroke-linejoin="round"/>
<path d="M344.03,300.23 L350.15,303.08 A6.75,6.75 0 0 1 349.88,303.60 Z" fill="#66b752" stroke="#2a2a33" stroke-width="0.45" stroke-linejoin="round"/>
<path d="M344.03,300.23 L349.88,303.60 A6.75,6.75 0 1 1 342.28,293.71 Z" fill="#b33545" stroke="#2a2a33" stroke-width="0.45" stroke-linejoin="round"/>
<path d="M344.03,300.23 L342.28,293.71 A6.75,6.75 0 0 1 344.03,293.48 Z" fill="#f2c43c" stroke="#2a2a33" stroke-width="0.45" stroke-linejoin="round"/>
<circle cx="344.03" cy="300.23" r="6.75" fill="none" stroke="#222228" stroke-width="0.8"/>
<circle cx="372.36" cy="300.23" r="7.75" fill="none" stroke="#ffffff" stroke-width="0.9" stroke-opacity="0.55"/>
<path d="M372.36,300.23 L372.36,293.48 A6.75,6.75 0 0 1 379.01,301.40 Z" fill="#4b689b" stroke="#2a2a33" stroke-width="0.45" stroke-linejoin="round"/>
<path d="M372.36,300.23 L379.01,301.40 A6.75,6.75 0 0 1 378.70,302.54 Z" fill="#66b752" stroke="#2a2a33" stroke-width="0.45" stroke-linejoin="round"/>
<path d="M372.36,300.23 L378.70,302.54 A6.75,6.75 0 1 1 369.51,294.11 Z" fill="#b33545" stroke="#2a2a33" stroke-width="0.45" stroke-linejoin="round"/>
<path d="M372.36,300.23 L369.51,294.11 A6.75,6.75 0 0 1 372.36,293.48 Z" fill="#f2c43c" stroke="#2a2a33" stroke-width="0.45" stroke-linejoin="round"/>
<circle cx="372.36" cy="300.23" r="6.75" fill="none" stroke="#222228" stroke-width="0.8"/>
<circle cx="400.69" cy="300.23" r="7.75" fill="none" stroke="#ffffff" stroke-width="0.9" stroke-opacity="0.55"/>
<path d="M400.69,300.23 L400.69,293.48 A6.75,6.75 0 0 1 406.54,303.60 Z" fill="#4b689b" stroke="#2a2a33" stroke-width="0.45" stroke-linejoin="round"/>
<path d="M400.69,300.23 L406.54,303.60 A6.75,6.75 0 1 1 397.31,294.38 Z" fill="#b33545" stroke="#2a2a33" stroke-width="0.45" stroke-linejoin="round"/>
<path d="M400.69,300.23 L397.31,294.38 A6.75,6.75 0 0 1 400.69,293.48 Z" fill="#f2c43c" stroke="#2a2a33" stroke-width="0.45" stroke-linejoin="round"/>
<circle cx="400.69" cy="300.23" r="6.75" fill="none" stroke="#222228" stroke-width="0.8"/>
<circle cx="429.02" cy="300.23" r="7.75" fill="none" stroke="#ffffff" stroke-width="0.9" stroke-opacity="0.55"/>
<path d="M429.02,300.23 L429.02,293.48 A6.75,6.75 0 0 1 432.89,305.76 Z" fill="#4b689b" stroke="#2a2a33" stroke-width="0.45" stroke-linejoin="round"/>
<path d="M429.02,300.23 L432.89,305.76 A6.75,6.75 0 1 1 425.64,294.38 Z" fill="#b33545" stroke="#2a2a33" stroke-width="0.45" stroke-linejoin="round"/>
<path d="M429.02,300.23 L425.64,294.38 A6.75,6.75 0 0 1 429.02,293.48 Z" fill="#f2c43c" stroke="#2a2a33" stroke-width="0.45" stroke-linejoin="round"/>
<circle cx="429.02" cy="300.23" r="6.75" fill="none" stroke="#222228" stroke-width="0.8"/>
<circle cx="457.35" cy="300.23" r="7.75" fill="none" stroke="#ffffff" stroke-width="0.9" stroke-opacity="0.55"/>
<path d="M457.35,300.23 L457.35,293.48 A6.75,6.75 0 0 1 461.69,305.40 Z" fill="#4b689b" stroke="#2a2a33" stroke-width="0.45" stroke-linejoin="round"/>
<path d="M457.35,300.23 L461.69,305.40 A6.75,6.75 0 1 1 453.48,294.70 Z" fill="#b33545" stroke="#2a2a33" stroke-width="0.45" stroke-linejoin="round"/>
<path d="M457.35,300.23 L453.48,294.70 A6.75,6.75 0 0 1 457.35,293.48 Z" fill="#f2c43c" stroke="#2a2a33" stroke-width="0.45" stroke-linejoin="round"/>
<circle cx="457.35" cy="300.23" r="6.75" fill="none" stroke="#222228" stroke-width="0.8"/>
<circle cx="485.68" cy="300.23" r="7.75" fill="none" stroke="#ffffff" stroke-width="0.9" stroke-opacity="0.55"/>
<path d="M485.68,300.23 L485.68,293.48 A6.75,6.75 0 0 1 491.53,296.85 Z" fill="#4b689b" stroke="#2a2a33" stroke-width="0.45" stroke-linejoin="round"/>
<path d="M485.68,300.23 L491.53,296.85 A6.75,6.75 0 0 1 491.80,297.38 Z" fill="#66b752" stroke="#2a2a33" stroke-width="0.45" stroke-linejoin="round"/>
<path d="M485.68,300.23 L491.80,297.38 A6.75,6.75 0 1 1 483.93,293.71 Z" fill="#b33545" stroke="#2a2a33" stroke-width="0.45" stroke-linejoin="round"/>
<path d="M485.68,300.23 L483.93,293.71 A6.75,6.75 0 0 1 485.68,293.48 Z" fill="#f2c43c" stroke="#2a2a33" stroke-width="0.45" stroke-linejoin="round"/>
<circle cx="485.68" cy="300.23" r="6.75" fill="none" stroke="#222228" stroke-width="0.8"/>
<text x="75.90" y="323.14" font-size="8.8" fill="#231f20" stroke="#231f20" stroke-width="0.05" text-anchor="middle" textLength="7.50" lengthAdjust="spacingAndGlyphs" >#2</text>
<text x="290.80" y="323.14" font-size="8.8" fill="#231f20" stroke="#231f20" stroke-width="0.05" text-anchor="middle" textLength="7.50" lengthAdjust="spacingAndGlyphs" >#5</text>
<circle cx="106.40" cy="320.44" r="7.75" fill="none" stroke="#ffffff" stroke-width="0.9" stroke-opacity="0.55"/>
<path d="M106.40,320.44 L106.40,313.69 A6.75,6.75 0 0 1 111.93,316.57 Z" fill="#4b689b" stroke="#2a2a33" stroke-width="0.45" stroke-linejoin="round"/>
<path d="M106.40,320.44 L111.93,316.57 A6.75,6.75 0 0 1 103.55,326.56 Z" fill="#b33545" stroke="#2a2a33" stroke-width="0.45" stroke-linejoin="round"/>
<path d="M106.40,320.44 L103.55,326.56 A6.75,6.75 0 0 1 106.40,313.69 Z" fill="#f2c43c" stroke="#2a2a33" stroke-width="0.45" stroke-linejoin="round"/>
<circle cx="106.40" cy="320.44" r="6.75" fill="none" stroke="#222228" stroke-width="0.8"/>
<circle cx="137.20" cy="320.44" r="7.75" fill="none" stroke="#ffffff" stroke-width="0.9" stroke-opacity="0.55"/>
<path d="M137.20,320.44 L137.20,313.69 A6.75,6.75 0 0 1 143.05,317.06 Z" fill="#4b689b" stroke="#2a2a33" stroke-width="0.45" stroke-linejoin="round"/>
<path d="M137.20,320.44 L143.05,317.06 A6.75,6.75 0 0 1 134.89,326.78 Z" fill="#b33545" stroke="#2a2a33" stroke-width="0.45" stroke-linejoin="round"/>
<path d="M137.20,320.44 L134.89,326.78 A6.75,6.75 0 0 1 137.20,313.69 Z" fill="#f2c43c" stroke="#2a2a33" stroke-width="0.45" stroke-linejoin="round"/>
<circle cx="137.20" cy="320.44" r="6.75" fill="none" stroke="#222228" stroke-width="0.8"/>
<circle cx="168.00" cy="320.44" r="7.75" fill="none" stroke="#ffffff" stroke-width="0.9" stroke-opacity="0.55"/>
<path d="M168.00,320.44 L168.00,313.69 A6.75,6.75 0 0 1 173.85,317.06 Z" fill="#4b689b" stroke="#2a2a33" stroke-width="0.45" stroke-linejoin="round"/>
<path d="M168.00,320.44 L173.85,317.06 A6.75,6.75 0 0 1 164.13,325.97 Z" fill="#b33545" stroke="#2a2a33" stroke-width="0.45" stroke-linejoin="round"/>
<path d="M168.00,320.44 L164.13,325.97 A6.75,6.75 0 0 1 168.00,313.69 Z" fill="#f2c43c" stroke="#2a2a33" stroke-width="0.45" stroke-linejoin="round"/>
<circle cx="168.00" cy="320.44" r="6.75" fill="none" stroke="#222228" stroke-width="0.8"/>
<circle cx="198.80" cy="320.44" r="7.75" fill="none" stroke="#ffffff" stroke-width="0.9" stroke-opacity="0.55"/>
<path d="M198.80,320.44 L198.80,313.69 A6.75,6.75 0 0 1 204.65,317.06 Z" fill="#4b689b" stroke="#2a2a33" stroke-width="0.45" stroke-linejoin="round"/>
<path d="M198.80,320.44 L204.65,317.06 A6.75,6.75 0 0 1 192.95,323.81 Z" fill="#b33545" stroke="#2a2a33" stroke-width="0.45" stroke-linejoin="round"/>
<path d="M198.80,320.44 L192.95,323.81 A6.75,6.75 0 0 1 198.80,313.69 Z" fill="#f2c43c" stroke="#2a2a33" stroke-width="0.45" stroke-linejoin="round"/>
<circle cx="198.80" cy="320.44" r="6.75" fill="none" stroke="#222228" stroke-width="0.8"/>
<circle cx="229.60" cy="320.44" r="7.75" fill="none" stroke="#ffffff" stroke-width="0.9" stroke-opacity="0.55"/>
<path d="M229.60,320.44 L229.60,313.69 A6.75,6.75 0 0 1 235.13,316.57 Z" fill="#4b689b" stroke="#2a2a33" stroke-width="0.45" stroke-linejoin="round"/>
<path d="M229.60,320.44 L235.13,316.57 A6.75,6.75 0 0 1 225.73,325.97 Z" fill="#b33545" stroke="#2a2a33" stroke-width="0.45" stroke-linejoin="round"/>
<path d="M229.60,320.44 L225.73,325.97 A6.75,6.75 0 0 1 229.60,313.69 Z" fill="#f2c43c" stroke="#2a2a33" stroke-width="0.45" stroke-linejoin="round"/>
<circle cx="229.60" cy="320.44" r="6.75" fill="none" stroke="#222228" stroke-width="0.8"/>
<circle cx="260.40" cy="320.44" r="7.75" fill="none" stroke="#ffffff" stroke-width="0.9" stroke-opacity="0.55"/>
<path d="M260.40,320.44 L260.40,313.69 A6.75,6.75 0 0 1 265.17,315.66 Z" fill="#4b689b" stroke="#2a2a33" stroke-width="0.45" stroke-linejoin="round"/>
<path d="M260.40,320.44 L265.17,315.66 A6.75,6.75 0 1 1 254.06,322.75 Z" fill="#b33545" stroke="#2a2a33" stroke-width="0.45" stroke-linejoin="round"/>
<path d="M260.40,320.44 L254.06,322.75 A6.75,6.75 0 0 1 260.40,313.69 Z" fill="#f2c43c" stroke="#2a2a33" stroke-width="0.45" stroke-linejoin="round"/>
<circle cx="260.40" cy="320.44" r="6.75" fill="none" stroke="#222228" stroke-width="0.8"/>
<circle cx="315.70" cy="320.44" r="7.75" fill="none" stroke="#ffffff" stroke-width="0.9" stroke-opacity="0.55"/>
<path d="M315.70,320.44 L315.70,313.69 A6.75,6.75 0 0 1 319.57,325.97 Z" fill="#4b689b" stroke="#2a2a33" stroke-width="0.45" stroke-linejoin="round"/>
<path d="M315.70,320.44 L319.57,325.97 A6.75,6.75 0 0 1 317.45,326.96 Z" fill="#66b752" stroke="#2a2a33" stroke-width="0.45" stroke-linejoin="round"/>
<path d="M315.70,320.44 L317.45,326.96 A6.75,6.75 0 0 1 309.36,318.13 Z" fill="#b33545" stroke="#2a2a33" stroke-width="0.45" stroke-linejoin="round"/>
<path d="M315.70,320.44 L309.36,318.13 A6.75,6.75 0 0 1 315.70,313.69 Z" fill="#f2c43c" stroke="#2a2a33" stroke-width="0.45" stroke-linejoin="round"/>
<circle cx="315.70" cy="320.44" r="6.75" fill="none" stroke="#222228" stroke-width="0.8"/>
<circle cx="344.03" cy="320.44" r="7.75" fill="none" stroke="#ffffff" stroke-width="0.9" stroke-opacity="0.55"/>
<path d="M344.03,320.44 L344.03,313.69 A6.75,6.75 0 0 1 350.37,322.75 Z" fill="#4b689b" stroke="#2a2a33" stroke-width="0.45" stroke-linejoin="round"/>
<path d="M344.03,320.44 L350.37,322.75 A6.75,6.75 0 0 1 349.88,323.81 Z" fill="#66b752" stroke="#2a2a33" stroke-width="0.45" stroke-linejoin="round"/>
<path d="M344.03,320.44 L349.88,323.81 A6.75,6.75 0 0 1 337.69,322.75 Z" fill="#b33545" stroke="#2a2a33" stroke-width="0.45" stroke-linejoin="round"/>
<path d="M344.03,320.44 L337.69,322.75 A6.75,6.75 0 0 1 344.03,313.69 Z" fill="#f2c43c" stroke="#2a2a33" stroke-width="0.45" stroke-linejoin="round"/>
<circle cx="344.03" cy="320.44" r="6.75" fill="none" stroke="#222228" stroke-width="0.8"/>
<circle cx="372.36" cy="320.44" r="7.75" fill="none" stroke="#ffffff" stroke-width="0.9" stroke-opacity="0.55"/>
<path d="M372.36,320.44 L372.36,313.69 A6.75,6.75 0 0 1 375.21,326.56 Z" fill="#4b689b" stroke="#2a2a33" stroke-width="0.45" stroke-linejoin="round"/>
<path d="M372.36,320.44 L375.21,326.56 A6.75,6.75 0 0 1 374.11,326.96 Z" fill="#66b752" stroke="#2a2a33" stroke-width="0.45" stroke-linejoin="round"/>
<path d="M372.36,320.44 L374.11,326.96 A6.75,6.75 0 0 1 365.84,318.69 Z" fill="#b33545" stroke="#2a2a33" stroke-width="0.45" stroke-linejoin="round"/>
<path d="M372.36,320.44 L365.84,318.69 A6.75,6.75 0 0 1 372.36,313.69 Z" fill="#f2c43c" stroke="#2a2a33" stroke-width="0.45" stroke-linejoin="round"/>
<circle cx="372.36" cy="320.44" r="6.75" fill="none" stroke="#222228" stroke-width="0.8"/>
<circle cx="400.69" cy="320.44" r="7.75" fill="none" stroke="#ffffff" stroke-width="0.9" stroke-opacity="0.55"/>
<path d="M400.69,320.44 L400.69,313.69 A6.75,6.75 0 0 1 400.69,327.19 Z" fill="#4b689b" stroke="#2a2a33" stroke-width="0.45" stroke-linejoin="round"/>
<path d="M400.69,320.44 L400.69,327.19 A6.75,6.75 0 0 1 393.97,321.03 Z" fill="#b33545" stroke="#2a2a33" stroke-width="0.45" stroke-linejoin="round"/>
<path d="M400.69,320.44 L393.97,321.03 A6.75,6.75 0 0 1 400.69,313.69 Z" fill="#f2c43c" stroke="#2a2a33" stroke-width="0.45" stroke-linejoin="round"/>
<circle cx="400.69" cy="320.44" r="6.75" fill="none" stroke="#222228" stroke-width="0.8"/>
<circle cx="429.02" cy="320.44" r="7.75" fill="none" stroke="#ffffff" stroke-width="0.9" stroke-opacity="0.55"/>
<path d="M429.02,320.44 L429.02,313.69 A6.75,6.75 0 1 1 427.27,326.96 Z" fill="#4b689b" stroke="#2a2a33" stroke-width="0.45" stroke-linejoin="round"/>
<path d="M429.02,320.44 L427.27,326.96 A6.75,6.75 0 0 1 422.30,321.03 Z" fill="#b33545" stroke="#2a2a33" stroke-width="0.45" stroke-linejoin="round"/>
<path d="M429.02,320.44 L422.30,321.03 A6.75,6.75 0 0 1 429.02,313.69 Z" fill="#f2c43c" stroke="#2a2a33" stroke-width="0.45" stroke-linejoin="round"/>
<circle cx="429.02" cy="320.44" r="6.75" fill="none" stroke="#222228" stroke-width="0.8"/>
<circle cx="457.35" cy="320.44" r="7.75" fill="none" stroke="#ffffff" stroke-width="0.9" stroke-opacity="0.55"/>
<path d="M457.35,320.44 L457.35,313.69 A6.75,6.75 0 0 1 457.35,327.19 Z" fill="#4b689b" stroke="#2a2a33" stroke-width="0.45" stroke-linejoin="round"/>
<path d="M457.35,320.44 L457.35,327.19 A6.75,6.75 0 0 1 450.70,321.61 Z" fill="#b33545" stroke="#2a2a33" stroke-width="0.45" stroke-linejoin="round"/>
<path d="M457.35,320.44 L450.70,321.61 A6.75,6.75 0 0 1 457.35,313.69 Z" fill="#f2c43c" stroke="#2a2a33" stroke-width="0.45" stroke-linejoin="round"/>
<circle cx="457.35" cy="320.44" r="6.75" fill="none" stroke="#222228" stroke-width="0.8"/>
<circle cx="485.68" cy="320.44" r="7.75" fill="none" stroke="#ffffff" stroke-width="0.9" stroke-opacity="0.55"/>
<path d="M485.68,320.44 L485.68,313.69 A6.75,6.75 0 0 1 487.43,326.96 Z" fill="#4b689b" stroke="#2a2a33" stroke-width="0.45" stroke-linejoin="round"/>
<path d="M485.68,320.44 L487.43,326.96 A6.75,6.75 0 0 1 487.08,327.04 Z" fill="#66b752" stroke="#2a2a33" stroke-width="0.45" stroke-linejoin="round"/>
<path d="M485.68,320.44 L487.08,327.04 A6.75,6.75 0 0 1 479.83,317.06 Z" fill="#b33545" stroke="#2a2a33" stroke-width="0.45" stroke-linejoin="round"/>
<path d="M485.68,320.44 L479.83,317.06 A6.75,6.75 0 0 1 485.68,313.69 Z" fill="#f2c43c" stroke="#2a2a33" stroke-width="0.45" stroke-linejoin="round"/>
<circle cx="485.68" cy="320.44" r="6.75" fill="none" stroke="#222228" stroke-width="0.8"/>
<text x="75.90" y="343.35" font-size="8.8" fill="#231f20" stroke="#231f20" stroke-width="0.05" text-anchor="middle" textLength="7.50" lengthAdjust="spacingAndGlyphs" >#3</text>
<text x="290.80" y="343.35" font-size="8.8" fill="#231f20" stroke="#231f20" stroke-width="0.05" text-anchor="middle" textLength="7.50" lengthAdjust="spacingAndGlyphs" >#6</text>
<circle cx="106.40" cy="340.65" r="7.75" fill="none" stroke="#ffffff" stroke-width="0.9" stroke-opacity="0.55"/>
<path d="M106.40,340.65 L106.40,333.90 A6.75,6.75 0 0 1 113.12,341.23 Z" fill="#4b689b" stroke="#2a2a33" stroke-width="0.45" stroke-linejoin="round"/>
<path d="M106.40,340.65 L113.12,341.23 A6.75,6.75 0 0 1 112.92,342.39 Z" fill="#66b752" stroke="#2a2a33" stroke-width="0.45" stroke-linejoin="round"/>
<path d="M106.40,340.65 L112.92,342.39 A6.75,6.75 0 0 1 99.65,340.65 Z" fill="#b33545" stroke="#2a2a33" stroke-width="0.45" stroke-linejoin="round"/>
<path d="M106.40,340.65 L99.65,340.65 A6.75,6.75 0 0 1 106.40,333.90 Z" fill="#f2c43c" stroke="#2a2a33" stroke-width="0.45" stroke-linejoin="round"/>
<circle cx="106.40" cy="340.65" r="6.75" fill="none" stroke="#222228" stroke-width="0.8"/>
<circle cx="137.20" cy="340.65" r="7.75" fill="none" stroke="#ffffff" stroke-width="0.9" stroke-opacity="0.55"/>
<path d="M137.20,340.65 L137.20,333.90 A6.75,6.75 0 0 1 143.85,341.82 Z" fill="#4b689b" stroke="#2a2a33" stroke-width="0.45" stroke-linejoin="round"/>
<path d="M137.20,340.65 L143.85,341.82 A6.75,6.75 0 0 1 143.54,342.95 Z" fill="#66b752" stroke="#2a2a33" stroke-width="0.45" stroke-linejoin="round"/>
<path d="M137.20,340.65 L143.54,342.95 A6.75,6.75 0 0 1 130.48,341.23 Z" fill="#b33545" stroke="#2a2a33" stroke-width="0.45" stroke-linejoin="round"/>
<path d="M137.20,340.65 L130.48,341.23 A6.75,6.75 0 0 1 137.20,333.90 Z" fill="#f2c43c" stroke="#2a2a33" stroke-width="0.45" stroke-linejoin="round"/>
<circle cx="137.20" cy="340.65" r="6.75" fill="none" stroke="#222228" stroke-width="0.8"/>
<circle cx="168.00" cy="340.65" r="7.75" fill="none" stroke="#ffffff" stroke-width="0.9" stroke-opacity="0.55"/>
<path d="M168.00,340.65 L168.00,333.90 A6.75,6.75 0 0 1 172.34,345.82 Z" fill="#4b689b" stroke="#2a2a33" stroke-width="0.45" stroke-linejoin="round"/>
<path d="M168.00,340.65 L172.34,345.82 A6.75,6.75 0 0 1 171.87,346.18 Z" fill="#66b752" stroke="#2a2a33" stroke-width="0.45" stroke-linejoin="round"/>
<path d="M168.00,340.65 L171.87,346.18 A6.75,6.75 0 0 1 161.25,340.65 Z" fill="#b33545" stroke="#2a2a33" stroke-width="0.45" stroke-linejoin="round"/>
<path d="M168.00,340.65 L161.25,340.65 A6.75,6.75 0 0 1 168.00,333.90 Z" fill="#f2c43c" stroke="#2a2a33" stroke-width="0.45" stroke-linejoin="round"/>
<circle cx="168.00" cy="340.65" r="6.75" fill="none" stroke="#222228" stroke-width="0.8"/>
<circle cx="198.80" cy="340.65" r="7.75" fill="none" stroke="#ffffff" stroke-width="0.9" stroke-opacity="0.55"/>
<path d="M198.80,340.65 L198.80,333.90 A6.75,6.75 0 0 1 202.18,346.49 Z" fill="#4b689b" stroke="#2a2a33" stroke-width="0.45" stroke-linejoin="round"/>
<path d="M198.80,340.65 L202.18,346.49 A6.75,6.75 0 0 1 192.05,340.65 Z" fill="#b33545" stroke="#2a2a33" stroke-width="0.45" stroke-linejoin="round"/>
<path d="M198.80,340.65 L192.05,340.65 A6.75,6.75 0 0 1 198.80,333.90 Z" fill="#f2c43c" stroke="#2a2a33" stroke-width="0.45" stroke-linejoin="round"/>
<circle cx="198.80" cy="340.65" r="6.75" fill="none" stroke="#222228" stroke-width="0.8"/>
<circle cx="229.60" cy="340.65" r="7.75" fill="none" stroke="#ffffff" stroke-width="0.9" stroke-opacity="0.55"/>
<path d="M229.60,340.65 L229.60,333.90 A6.75,6.75 0 1 1 223.75,337.27 Z" fill="#4b689b" stroke="#2a2a33" stroke-width="0.45" stroke-linejoin="round"/>
<path d="M229.60,340.65 L223.75,337.27 A6.75,6.75 0 0 1 227.85,334.13 Z" fill="#b33545" stroke="#2a2a33" stroke-width="0.45" stroke-linejoin="round"/>
<path d="M229.60,340.65 L227.85,334.13 A6.75,6.75 0 0 1 229.60,333.90 Z" fill="#f2c43c" stroke="#2a2a33" stroke-width="0.45" stroke-linejoin="round"/>
<circle cx="229.60" cy="340.65" r="6.75" fill="none" stroke="#222228" stroke-width="0.8"/>
<circle cx="260.40" cy="340.65" r="7.75" fill="none" stroke="#ffffff" stroke-width="0.9" stroke-opacity="0.55"/>
<path d="M260.40,340.65 L260.40,333.90 A6.75,6.75 0 0 1 266.25,344.02 Z" fill="#4b689b" stroke="#2a2a33" stroke-width="0.45" stroke-linejoin="round"/>
<path d="M260.40,340.65 L266.25,344.02 A6.75,6.75 0 0 1 266.12,344.22 Z" fill="#66b752" stroke="#2a2a33" stroke-width="0.45" stroke-linejoin="round"/>
<path d="M260.40,340.65 L266.12,344.22 A6.75,6.75 0 0 1 253.68,340.06 Z" fill="#b33545" stroke="#2a2a33" stroke-width="0.45" stroke-linejoin="round"/>
<path d="M260.40,340.65 L253.68,340.06 A6.75,6.75 0 0 1 260.40,333.90 Z" fill="#f2c43c" stroke="#2a2a33" stroke-width="0.45" stroke-linejoin="round"/>
<circle cx="260.40" cy="340.65" r="6.75" fill="none" stroke="#222228" stroke-width="0.8"/>
<circle cx="315.70" cy="340.65" r="7.75" fill="none" stroke="#ffffff" stroke-width="0.9" stroke-opacity="0.55"/>
<path d="M315.70,340.65 L315.70,333.90 A6.75,6.75 0 0 1 322.42,340.06 Z" fill="#4b689b" stroke="#2a2a33" stroke-width="0.45" stroke-linejoin="round"/>
<path d="M315.70,340.65 L322.42,340.06 A6.75,6.75 0 0 1 321.23,344.52 Z" fill="#66b752" stroke="#2a2a33" stroke-width="0.45" stroke-linejoin="round"/>
<path d="M315.70,340.65 L321.23,344.52 A6.75,6.75 0 1 1 311.36,335.48 Z" fill="#b33545" stroke="#2a2a33" stroke-width="0.45" stroke-linejoin="round"/>
<path d="M315.70,340.65 L311.36,335.48 A6.75,6.75 0 0 1 315.70,333.90 Z" fill="#f2c43c" stroke="#2a2a33" stroke-width="0.45" stroke-linejoin="round"/>
<circle cx="315.70" cy="340.65" r="6.75" fill="none" stroke="#222228" stroke-width="0.8"/>
<circle cx="344.03" cy="340.65" r="7.75" fill="none" stroke="#ffffff" stroke-width="0.9" stroke-opacity="0.55"/>
<path d="M344.03,340.65 L344.03,333.90 A6.75,6.75 0 0 1 344.03,347.40 Z" fill="#4b689b" stroke="#2a2a33" stroke-width="0.45" stroke-linejoin="round"/>
<path d="M344.03,340.65 L344.03,347.40 A6.75,6.75 0 0 1 337.69,338.34 Z" fill="#b33545" stroke="#2a2a33" stroke-width="0.45" stroke-linejoin="round"/>
<path d="M344.03,340.65 L337.69,338.34 A6.75,6.75 0 0 1 344.03,333.90 Z" fill="#f2c43c" stroke="#2a2a33" stroke-width="0.45" stroke-linejoin="round"/>
<circle cx="344.03" cy="340.65" r="6.75" fill="none" stroke="#222228" stroke-width="0.8"/>
<circle cx="372.36" cy="340.65" r="7.75" fill="none" stroke="#ffffff" stroke-width="0.9" stroke-opacity="0.55"/>
<path d="M372.36,340.65 L372.36,333.90 A6.75,6.75 0 0 1 373.76,347.25 Z" fill="#4b689b" stroke="#2a2a33" stroke-width="0.45" stroke-linejoin="round"/>
<path d="M372.36,340.65 L373.76,347.25 A6.75,6.75 0 0 1 372.95,347.37 Z" fill="#66b752" stroke="#2a2a33" stroke-width="0.45" stroke-linejoin="round"/>
<path d="M372.36,340.65 L372.95,347.37 A6.75,6.75 0 0 1 365.84,338.90 Z" fill="#b33545" stroke="#2a2a33" stroke-width="0.45" stroke-linejoin="round"/>
<path d="M372.36,340.65 L365.84,338.90 A6.75,6.75 0 0 1 372.36,333.90 Z" fill="#f2c43c" stroke="#2a2a33" stroke-width="0.45" stroke-linejoin="round"/>
<circle cx="372.36" cy="340.65" r="6.75" fill="none" stroke="#222228" stroke-width="0.8"/>
<circle cx="400.69" cy="340.65" r="7.75" fill="none" stroke="#ffffff" stroke-width="0.9" stroke-opacity="0.55"/>
<path d="M400.69,340.65 L400.69,333.90 A6.75,6.75 0 0 1 400.69,347.40 Z" fill="#4b689b" stroke="#2a2a33" stroke-width="0.45" stroke-linejoin="round"/>
<path d="M400.69,340.65 L400.69,347.40 A6.75,6.75 0 0 1 397.31,334.80 Z" fill="#b33545" stroke="#2a2a33" stroke-width="0.45" stroke-linejoin="round"/>
<path d="M400.69,340.65 L397.31,334.80 A6.75,6.75 0 0 1 400.69,333.90 Z" fill="#f2c43c" stroke="#2a2a33" stroke-width="0.45" stroke-linejoin="round"/>
<circle cx="400.69" cy="340.65" r="6.75" fill="none" stroke="#222228" stroke-width="0.8"/>
<circle cx="429.02" cy="340.65" r="7.75" fill="none" stroke="#ffffff" stroke-width="0.9" stroke-opacity="0.55"/>
<path d="M429.02,340.65 L429.02,333.90 A6.75,6.75 0 0 1 429.02,347.40 Z" fill="#4b689b" stroke="#2a2a33" stroke-width="0.45" stroke-linejoin="round"/>
<path d="M429.02,340.65 L429.02,347.40 A6.75,6.75 0 0 1 424.68,335.48 Z" fill="#b33545" stroke="#2a2a33" stroke-width="0.45" stroke-linejoin="round"/>
<path d="M429.02,340.65 L424.68,335.48 A6.75,6.75 0 0 1 429.02,333.90 Z" fill="#f2c43c" stroke="#2a2a33" stroke-width="0.45" stroke-linejoin="round"/>
<circle cx="429.02" cy="340.65" r="6.75" fill="none" stroke="#222228" stroke-width="0.8"/>
<circle cx="457.35" cy="340.65" r="7.75" fill="none" stroke="#ffffff" stroke-width="0.9" stroke-opacity="0.55"/>
<path d="M457.35,340.65 L457.35,333.90 A6.75,6.75 0 0 1 457.35,347.40 Z" fill="#4b689b" stroke="#2a2a33" stroke-width="0.45" stroke-linejoin="round"/>
<path d="M457.35,340.65 L457.35,347.40 A6.75,6.75 0 0 1 453.97,334.80 Z" fill="#b33545" stroke="#2a2a33" stroke-width="0.45" stroke-linejoin="round"/>
<path d="M457.35,340.65 L453.97,334.80 A6.75,6.75 0 0 1 457.35,333.90 Z" fill="#f2c43c" stroke="#2a2a33" stroke-width="0.45" stroke-linejoin="round"/>
<circle cx="457.35" cy="340.65" r="6.75" fill="none" stroke="#222228" stroke-width="0.8"/>
<circle cx="485.68" cy="340.65" r="7.75" fill="none" stroke="#ffffff" stroke-width="0.9" stroke-opacity="0.55"/>
<path d="M485.68,340.65 L485.68,333.90 A6.75,6.75 0 0 1 491.53,344.02 Z" fill="#4b689b" stroke="#2a2a33" stroke-width="0.45" stroke-linejoin="round"/>
<path d="M485.68,340.65 L491.53,344.02 A6.75,6.75 0 0 1 491.21,344.52 Z" fill="#66b752" stroke="#2a2a33" stroke-width="0.45" stroke-linejoin="round"/>
<path d="M485.68,340.65 L491.21,344.52 A6.75,6.75 0 0 1 478.93,340.65 Z" fill="#b33545" stroke="#2a2a33" stroke-width="0.45" stroke-linejoin="round"/>
<path d="M485.68,340.65 L478.93,340.65 A6.75,6.75 0 0 1 485.68,333.90 Z" fill="#f2c43c" stroke="#2a2a33" stroke-width="0.45" stroke-linejoin="round"/>
<circle cx="485.68" cy="340.65" r="6.75" fill="none" stroke="#222228" stroke-width="0.8"/>
<text x="75.90" y="363.55" font-size="8.8" fill="#231f20" stroke="#231f20" stroke-width="0.05" text-anchor="middle" textLength="7.50" lengthAdjust="spacingAndGlyphs" >#1</text>
<text x="290.80" y="363.55" font-size="8.8" fill="#231f20" stroke="#231f20" stroke-width="0.05" text-anchor="middle" textLength="7.50" lengthAdjust="spacingAndGlyphs" >#4</text>
<circle cx="106.40" cy="360.85" r="7.75" fill="none" stroke="#ffffff" stroke-width="0.9" stroke-opacity="0.55"/>
<path d="M106.40,360.85 L106.40,354.10 A6.75,6.75 0 0 1 109.78,366.70 Z" fill="#4b689b" stroke="#2a2a33" stroke-width="0.45" stroke-linejoin="round"/>
<path d="M106.40,360.85 L109.78,366.70 A6.75,6.75 0 0 1 104.65,367.37 Z" fill="#66b752" stroke="#2a2a33" stroke-width="0.45" stroke-linejoin="round"/>
<path d="M106.40,360.85 L104.65,367.37 A6.75,6.75 0 0 1 100.06,358.55 Z" fill="#b33545" stroke="#2a2a33" stroke-width="0.45" stroke-linejoin="round"/>
<path d="M106.40,360.85 L100.06,358.55 A6.75,6.75 0 0 1 106.40,354.10 Z" fill="#f2c43c" stroke="#2a2a33" stroke-width="0.45" stroke-linejoin="round"/>
<circle cx="106.40" cy="360.85" r="6.75" fill="none" stroke="#222228" stroke-width="0.8"/>
<circle cx="137.20" cy="360.85" r="7.75" fill="none" stroke="#ffffff" stroke-width="0.9" stroke-opacity="0.55"/>
<path d="M137.20,360.85 L137.20,354.10 A6.75,6.75 0 0 1 143.54,363.16 Z" fill="#4b689b" stroke="#2a2a33" stroke-width="0.45" stroke-linejoin="round"/>
<path d="M137.20,360.85 L143.54,363.16 A6.75,6.75 0 0 1 140.58,366.70 Z" fill="#66b752" stroke="#2a2a33" stroke-width="0.45" stroke-linejoin="round"/>
<path d="M137.20,360.85 L140.58,366.70 A6.75,6.75 0 0 1 130.48,360.27 Z" fill="#b33545" stroke="#2a2a33" stroke-width="0.45" stroke-linejoin="round"/>
<path d="M137.20,360.85 L130.48,360.27 A6.75,6.75 0 0 1 137.20,354.10 Z" fill="#f2c43c" stroke="#2a2a33" stroke-width="0.45" stroke-linejoin="round"/>
<circle cx="137.20" cy="360.85" r="6.75" fill="none" stroke="#222228" stroke-width="0.8"/>
<circle cx="168.00" cy="360.85" r="7.75" fill="none" stroke="#ffffff" stroke-width="0.9" stroke-opacity="0.55"/>
<path d="M168.00,360.85 L168.00,354.10 A6.75,6.75 0 0 1 168.59,367.58 Z" fill="#4b689b" stroke="#2a2a33" stroke-width="0.45" stroke-linejoin="round"/>
<path d="M168.00,360.85 L168.59,367.58 A6.75,6.75 0 0 1 166.25,367.37 Z" fill="#66b752" stroke="#2a2a33" stroke-width="0.45" stroke-linejoin="round"/>
<path d="M168.00,360.85 L166.25,367.37 A6.75,6.75 0 0 1 161.35,359.68 Z" fill="#b33545" stroke="#2a2a33" stroke-width="0.45" stroke-linejoin="round"/>
<path d="M168.00,360.85 L161.35,359.68 A6.75,6.75 0 0 1 168.00,354.10 Z" fill="#f2c43c" stroke="#2a2a33" stroke-width="0.45" stroke-linejoin="round"/>
<circle cx="168.00" cy="360.85" r="6.75" fill="none" stroke="#222228" stroke-width="0.8"/>
<circle cx="198.80" cy="360.85" r="7.75" fill="none" stroke="#ffffff" stroke-width="0.9" stroke-opacity="0.55"/>
<path d="M198.80,360.85 L198.80,354.10 A6.75,6.75 0 0 1 199.97,367.50 Z" fill="#4b689b" stroke="#2a2a33" stroke-width="0.45" stroke-linejoin="round"/>
<path d="M198.80,360.85 L199.97,367.50 A6.75,6.75 0 0 1 192.05,360.85 Z" fill="#b33545" stroke="#2a2a33" stroke-width="0.45" stroke-linejoin="round"/>
<path d="M198.80,360.85 L192.05,360.85 A6.75,6.75 0 0 1 198.80,354.10 Z" fill="#f2c43c" stroke="#2a2a33" stroke-width="0.45" stroke-linejoin="round"/>
<circle cx="198.80" cy="360.85" r="6.75" fill="none" stroke="#222228" stroke-width="0.8"/>
<circle cx="229.60" cy="360.85" r="7.75" fill="none" stroke="#ffffff" stroke-width="0.9" stroke-opacity="0.55"/>
<path d="M229.60,360.85 L229.60,354.10 A6.75,6.75 0 0 1 229.60,367.60 Z" fill="#4b689b" stroke="#2a2a33" stroke-width="0.45" stroke-linejoin="round"/>
<path d="M229.60,360.85 L229.60,367.60 A6.75,6.75 0 0 1 222.85,360.85 Z" fill="#b33545" stroke="#2a2a33" stroke-width="0.45" stroke-linejoin="round"/>
<path d="M229.60,360.85 L222.85,360.85 A6.75,6.75 0 0 1 229.60,354.10 Z" fill="#f2c43c" stroke="#2a2a33" stroke-width="0.45" stroke-linejoin="round"/>
<circle cx="229.60" cy="360.85" r="6.75" fill="none" stroke="#222228" stroke-width="0.8"/>
<circle cx="260.40" cy="360.85" r="7.75" fill="none" stroke="#ffffff" stroke-width="0.9" stroke-opacity="0.55"/>
<path d="M260.40,360.85 L260.40,354.10 A6.75,6.75 0 0 1 261.57,367.50 Z" fill="#4b689b" stroke="#2a2a33" stroke-width="0.45" stroke-linejoin="round"/>
<path d="M260.40,360.85 L261.57,367.50 A6.75,6.75 0 0 1 253.65,361.09 Z" fill="#b33545" stroke="#2a2a33" stroke-width="0.45" stroke-linejoin="round"/>
<path d="M260.40,360.85 L253.65,361.09 A6.75,6.75 0 0 1 260.40,354.10 Z" fill="#f2c43c" stroke="#2a2a33" stroke-width="0.45" stroke-linejoin="round"/>
<circle cx="260.40" cy="360.85" r="6.75" fill="none" stroke="#222228" stroke-width="0.8"/>
<circle cx="315.70" cy="360.85" r="7.75" fill="none" stroke="#ffffff" stroke-width="0.9" stroke-opacity="0.55"/>
<path d="M315.70,360.85 L315.70,354.10 A6.75,6.75 0 0 1 321.23,356.98 Z" fill="#4b689b" stroke="#2a2a33" stroke-width="0.45" stroke-linejoin="round"/>
<path d="M315.70,360.85 L321.23,356.98 A6.75,6.75 0 0 1 313.95,367.37 Z" fill="#66b752" stroke="#2a2a33" stroke-width="0.45" stroke-linejoin="round"/>
<path d="M315.70,360.85 L313.95,367.37 A6.75,6.75 0 0 1 309.36,358.55 Z" fill="#b33545" stroke="#2a2a33" stroke-width="0.45" stroke-linejoin="round"/>
<path d="M315.70,360.85 L309.36,358.55 A6.75,6.75 0 0 1 315.70,354.10 Z" fill="#f2c43c" stroke="#2a2a33" stroke-width="0.45" stroke-linejoin="round"/>
<circle cx="315.70" cy="360.85" r="6.75" fill="none" stroke="#222228" stroke-width="0.8"/>
<circle cx="344.03" cy="360.85" r="7.75" fill="none" stroke="#ffffff" stroke-width="0.9" stroke-opacity="0.55"/>
<path d="M344.03,360.85 L344.03,354.10 A6.75,6.75 0 0 1 347.40,355.01 Z" fill="#4b689b" stroke="#2a2a33" stroke-width="0.45" stroke-linejoin="round"/>
<path d="M344.03,360.85 L347.40,355.01 A6.75,6.75 0 0 1 346.34,367.20 Z" fill="#66b752" stroke="#2a2a33" stroke-width="0.45" stroke-linejoin="round"/>
<path d="M344.03,360.85 L346.34,367.20 A6.75,6.75 0 1 1 342.86,354.21 Z" fill="#b33545" stroke="#2a2a33" stroke-width="0.45" stroke-linejoin="round"/>
<path d="M344.03,360.85 L342.86,354.21 A6.75,6.75 0 0 1 344.03,354.10 Z" fill="#f2c43c" stroke="#2a2a33" stroke-width="0.45" stroke-linejoin="round"/>
<circle cx="344.03" cy="360.85" r="6.75" fill="none" stroke="#222228" stroke-width="0.8"/>
<circle cx="372.36" cy="360.85" r="7.75" fill="none" stroke="#ffffff" stroke-width="0.9" stroke-opacity="0.55"/>
<path d="M372.36,360.85 L372.36,354.10 A6.75,6.75 0 0 1 376.70,355.68 Z" fill="#4b689b" stroke="#2a2a33" stroke-width="0.45" stroke-linejoin="round"/>
<path d="M372.36,360.85 L376.70,355.68 A6.75,6.75 0 0 1 374.11,367.37 Z" fill="#66b752" stroke="#2a2a33" stroke-width="0.45" stroke-linejoin="round"/>
<path d="M372.36,360.85 L374.11,367.37 A6.75,6.75 0 1 1 371.19,354.21 Z" fill="#b33545" stroke="#2a2a33" stroke-width="0.45" stroke-linejoin="round"/>
<path d="M372.36,360.85 L371.19,354.21 A6.75,6.75 0 0 1 372.36,354.10 Z" fill="#f2c43c" stroke="#2a2a33" stroke-width="0.45" stroke-linejoin="round"/>
<circle cx="372.36" cy="360.85" r="6.75" fill="none" stroke="#222228" stroke-width="0.8"/>
<circle cx="400.69" cy="360.85" r="7.75" fill="none" stroke="#ffffff" stroke-width="0.9" stroke-opacity="0.55"/>
<path d="M400.69,360.85 L400.69,354.10 A6.75,6.75 0 0 1 406.81,358.00 Z" fill="#4b689b" stroke="#2a2a33" stroke-width="0.45" stroke-linejoin="round"/>
<path d="M400.69,360.85 L406.81,358.00 A6.75,6.75 0 0 1 397.84,366.97 Z" fill="#66b752" stroke="#2a2a33" stroke-width="0.45" stroke-linejoin="round"/>
<path d="M400.69,360.85 L397.84,366.97 A6.75,6.75 0 0 1 396.82,355.32 Z" fill="#b33545" stroke="#2a2a33" stroke-width="0.45" stroke-linejoin="round"/>
<path d="M400.69,360.85 L396.82,355.32 A6.75,6.75 0 0 1 400.69,354.10 Z" fill="#f2c43c" stroke="#2a2a33" stroke-width="0.45" stroke-linejoin="round"/>
<circle cx="400.69" cy="360.85" r="6.75" fill="none" stroke="#222228" stroke-width="0.8"/>
<circle cx="429.02" cy="360.85" r="7.75" fill="none" stroke="#ffffff" stroke-width="0.9" stroke-opacity="0.55"/>
<path d="M429.02,360.85 L429.02,354.10 A6.75,6.75 0 0 1 435.67,359.68 Z" fill="#4b689b" stroke="#2a2a33" stroke-width="0.45" stroke-linejoin="round"/>
<path d="M429.02,360.85 L435.67,359.68 A6.75,6.75 0 0 1 425.64,366.70 Z" fill="#66b752" stroke="#2a2a33" stroke-width="0.45" stroke-linejoin="round"/>
<path d="M429.02,360.85 L425.64,366.70 A6.75,6.75 0 0 1 424.68,355.68 Z" fill="#b33545" stroke="#2a2a33" stroke-width="0.45" stroke-linejoin="round"/>
<path d="M429.02,360.85 L424.68,355.68 A6.75,6.75 0 0 1 429.02,354.10 Z" fill="#f2c43c" stroke="#2a2a33" stroke-width="0.45" stroke-linejoin="round"/>
<circle cx="429.02" cy="360.85" r="6.75" fill="none" stroke="#222228" stroke-width="0.8"/>
<circle cx="457.35" cy="360.85" r="7.75" fill="none" stroke="#ffffff" stroke-width="0.9" stroke-opacity="0.55"/>
<path d="M457.35,360.85 L457.35,354.10 A6.75,6.75 0 0 1 462.52,365.19 Z" fill="#4b689b" stroke="#2a2a33" stroke-width="0.45" stroke-linejoin="round"/>
<path d="M457.35,360.85 L462.52,365.19 A6.75,6.75 0 0 1 455.04,367.20 Z" fill="#b33545" stroke="#2a2a33" stroke-width="0.45" stroke-linejoin="round"/>
<path d="M457.35,360.85 L455.04,367.20 A6.75,6.75 0 0 1 457.35,354.10 Z" fill="#f2c43c" stroke="#2a2a33" stroke-width="0.45" stroke-linejoin="round"/>
<circle cx="457.35" cy="360.85" r="6.75" fill="none" stroke="#222228" stroke-width="0.8"/>
<circle cx="485.68" cy="360.85" r="7.75" fill="none" stroke="#ffffff" stroke-width="0.9" stroke-opacity="0.55"/>
<path d="M485.68,360.85 L485.68,354.10 A6.75,6.75 0 0 1 490.02,355.68 Z" fill="#4b689b" stroke="#2a2a33" stroke-width="0.45" stroke-linejoin="round"/>
<path d="M485.68,360.85 L490.02,355.68 A6.75,6.75 0 0 1 486.85,367.50 Z" fill="#66b752" stroke="#2a2a33" stroke-width="0.45" stroke-linejoin="round"/>
<path d="M485.68,360.85 L486.85,367.50 A6.75,6.75 0 0 1 482.83,354.74 Z" fill="#b33545" stroke="#2a2a33" stroke-width="0.45" stroke-linejoin="round"/>
<path d="M485.68,360.85 L482.83,354.74 A6.75,6.75 0 0 1 485.68,354.10 Z" fill="#f2c43c" stroke="#2a2a33" stroke-width="0.45" stroke-linejoin="round"/>
<circle cx="485.68" cy="360.85" r="6.75" fill="none" stroke="#222228" stroke-width="0.8"/>
<text x="75.90" y="383.76" font-size="8.8" fill="#231f20" stroke="#231f20" stroke-width="0.05" text-anchor="middle" textLength="7.50" lengthAdjust="spacingAndGlyphs" >#2</text>
<text x="290.80" y="383.76" font-size="8.8" fill="#231f20" stroke="#231f20" stroke-width="0.05" text-anchor="middle" textLength="7.50" lengthAdjust="spacingAndGlyphs" >#5</text>
<circle cx="106.40" cy="381.06" r="7.75" fill="none" stroke="#ffffff" stroke-width="0.9" stroke-opacity="0.55"/>
<path d="M106.40,381.06 L106.40,374.31 A6.75,6.75 0 0 1 108.15,387.58 Z" fill="#4b689b" stroke="#2a2a33" stroke-width="0.45" stroke-linejoin="round"/>
<path d="M106.40,381.06 L108.15,387.58 A6.75,6.75 0 0 1 104.65,387.58 Z" fill="#66b752" stroke="#2a2a33" stroke-width="0.45" stroke-linejoin="round"/>
<path d="M106.40,381.06 L104.65,387.58 A6.75,6.75 0 0 1 99.65,381.06 Z" fill="#b33545" stroke="#2a2a33" stroke-width="0.45" stroke-linejoin="round"/>
<path d="M106.40,381.06 L99.65,381.06 A6.75,6.75 0 0 1 106.40,374.31 Z" fill="#f2c43c" stroke="#2a2a33" stroke-width="0.45" stroke-linejoin="round"/>
<circle cx="106.40" cy="381.06" r="6.75" fill="none" stroke="#222228" stroke-width="0.8"/>
<circle cx="137.20" cy="381.06" r="7.75" fill="none" stroke="#ffffff" stroke-width="0.9" stroke-opacity="0.55"/>
<path d="M137.20,381.06 L137.20,374.31 A6.75,6.75 0 0 1 143.85,382.23 Z" fill="#4b689b" stroke="#2a2a33" stroke-width="0.45" stroke-linejoin="round"/>
<path d="M137.20,381.06 L143.85,382.23 A6.75,6.75 0 0 1 140.05,387.18 Z" fill="#66b752" stroke="#2a2a33" stroke-width="0.45" stroke-linejoin="round"/>
<path d="M137.20,381.06 L140.05,387.18 A6.75,6.75 0 0 1 131.67,384.93 Z" fill="#b33545" stroke="#2a2a33" stroke-width="0.45" stroke-linejoin="round"/>
<path d="M137.20,381.06 L131.67,384.93 A6.75,6.75 0 0 1 137.20,374.31 Z" fill="#f2c43c" stroke="#2a2a33" stroke-width="0.45" stroke-linejoin="round"/>
<circle cx="137.20" cy="381.06" r="6.75" fill="none" stroke="#222228" stroke-width="0.8"/>
<circle cx="168.00" cy="381.06" r="7.75" fill="none" stroke="#ffffff" stroke-width="0.9" stroke-opacity="0.55"/>
<path d="M168.00,381.06 L168.00,374.31 A6.75,6.75 0 0 1 170.31,387.41 Z" fill="#4b689b" stroke="#2a2a33" stroke-width="0.45" stroke-linejoin="round"/>
<path d="M168.00,381.06 L170.31,387.41 A6.75,6.75 0 0 1 166.25,387.58 Z" fill="#66b752" stroke="#2a2a33" stroke-width="0.45" stroke-linejoin="round"/>
<path d="M168.00,381.06 L166.25,387.58 A6.75,6.75 0 0 1 161.28,381.65 Z" fill="#b33545" stroke="#2a2a33" stroke-width="0.45" stroke-linejoin="round"/>
<path d="M168.00,381.06 L161.28,381.65 A6.75,6.75 0 0 1 168.00,374.31 Z" fill="#f2c43c" stroke="#2a2a33" stroke-width="0.45" stroke-linejoin="round"/>
<circle cx="168.00" cy="381.06" r="6.75" fill="none" stroke="#222228" stroke-width="0.8"/>
<circle cx="198.80" cy="381.06" r="7.75" fill="none" stroke="#ffffff" stroke-width="0.9" stroke-opacity="0.55"/>
<path d="M198.80,381.06 L198.80,374.31 A6.75,6.75 0 0 1 202.18,386.91 Z" fill="#4b689b" stroke="#2a2a33" stroke-width="0.45" stroke-linejoin="round"/>
<path d="M198.80,381.06 L202.18,386.91 A6.75,6.75 0 0 1 201.11,387.41 Z" fill="#66b752" stroke="#2a2a33" stroke-width="0.45" stroke-linejoin="round"/>
<path d="M198.80,381.06 L201.11,387.41 A6.75,6.75 0 0 1 192.95,384.44 Z" fill="#b33545" stroke="#2a2a33" stroke-width="0.45" stroke-linejoin="round"/>
<path d="M198.80,381.06 L192.95,384.44 A6.75,6.75 0 0 1 198.80,374.31 Z" fill="#f2c43c" stroke="#2a2a33" stroke-width="0.45" stroke-linejoin="round"/>
<circle cx="198.80" cy="381.06" r="6.75" fill="none" stroke="#222228" stroke-width="0.8"/>
<circle cx="229.60" cy="381.06" r="7.75" fill="none" stroke="#ffffff" stroke-width="0.9" stroke-opacity="0.55"/>
<path d="M229.60,381.06 L229.60,374.31 A6.75,6.75 0 0 1 234.77,385.40 Z" fill="#4b689b" stroke="#2a2a33" stroke-width="0.45" stroke-linejoin="round"/>
<path d="M229.60,381.06 L234.77,385.40 A6.75,6.75 0 0 1 224.07,384.93 Z" fill="#b33545" stroke="#2a2a33" stroke-width="0.45" stroke-linejoin="round"/>
<path d="M229.60,381.06 L224.07,384.93 A6.75,6.75 0 0 1 229.60,374.31 Z" fill="#f2c43c" stroke="#2a2a33" stroke-width="0.45" stroke-linejoin="round"/>
<circle cx="229.60" cy="381.06" r="6.75" fill="none" stroke="#222228" stroke-width="0.8"/>
<circle cx="260.40" cy="381.06" r="7.75" fill="none" stroke="#ffffff" stroke-width="0.9" stroke-opacity="0.55"/>
<path d="M260.40,381.06 L260.40,374.31 A6.75,6.75 0 0 1 262.71,387.41 Z" fill="#4b689b" stroke="#2a2a33" stroke-width="0.45" stroke-linejoin="round"/>
<path d="M260.40,381.06 L262.71,387.41 A6.75,6.75 0 0 1 261.57,387.71 Z" fill="#66b752" stroke="#2a2a33" stroke-width="0.45" stroke-linejoin="round"/>
<path d="M260.40,381.06 L261.57,387.71 A6.75,6.75 0 0 1 254.87,384.93 Z" fill="#b33545" stroke="#2a2a33" stroke-width="0.45" stroke-linejoin="round"/>
<path d="M260.40,381.06 L254.87,384.93 A6.75,6.75 0 0 1 260.40,374.31 Z" fill="#f2c43c" stroke="#2a2a33" stroke-width="0.45" stroke-linejoin="round"/>
<circle cx="260.40" cy="381.06" r="6.75" fill="none" stroke="#222228" stroke-width="0.8"/>
<circle cx="315.70" cy="381.06" r="7.75" fill="none" stroke="#ffffff" stroke-width="0.9" stroke-opacity="0.55"/>
<path d="M315.70,381.06 L315.70,374.31 A6.75,6.75 0 0 1 322.35,382.23 Z" fill="#4b689b" stroke="#2a2a33" stroke-width="0.45" stroke-linejoin="round"/>
<path d="M315.70,381.06 L322.35,382.23 A6.75,6.75 0 0 1 322.22,382.81 Z" fill="#66b752" stroke="#2a2a33" stroke-width="0.45" stroke-linejoin="round"/>
<path d="M315.70,381.06 L322.22,382.81 A6.75,6.75 0 0 1 308.98,381.65 Z" fill="#b33545" stroke="#2a2a33" stroke-width="0.45" stroke-linejoin="round"/>
<path d="M315.70,381.06 L308.98,381.65 A6.75,6.75 0 0 1 315.70,374.31 Z" fill="#f2c43c" stroke="#2a2a33" stroke-width="0.45" stroke-linejoin="round"/>
<circle cx="315.70" cy="381.06" r="6.75" fill="none" stroke="#222228" stroke-width="0.8"/>
<circle cx="344.03" cy="381.06" r="7.75" fill="none" stroke="#ffffff" stroke-width="0.9" stroke-opacity="0.55"/>
<path d="M344.03,381.06 L344.03,374.31 A6.75,6.75 0 0 1 347.40,386.91 Z" fill="#4b689b" stroke="#2a2a33" stroke-width="0.45" stroke-linejoin="round"/>
<path d="M344.03,381.06 L347.40,386.91 A6.75,6.75 0 0 1 340.65,375.22 Z" fill="#b33545" stroke="#2a2a33" stroke-width="0.45" stroke-linejoin="round"/>
<path d="M344.03,381.06 L340.65,375.22 A6.75,6.75 0 0 1 344.03,374.31 Z" fill="#f2c43c" stroke="#2a2a33" stroke-width="0.45" stroke-linejoin="round"/>
<circle cx="344.03" cy="381.06" r="6.75" fill="none" stroke="#222228" stroke-width="0.8"/>
<circle cx="372.36" cy="381.06" r="7.75" fill="none" stroke="#ffffff" stroke-width="0.9" stroke-opacity="0.55"/>
<path d="M372.36,381.06 L372.36,374.31 A6.75,6.75 0 0 1 379.08,381.65 Z" fill="#4b689b" stroke="#2a2a33" stroke-width="0.45" stroke-linejoin="round"/>
<path d="M372.36,381.06 L379.08,381.65 A6.75,6.75 0 0 1 379.01,382.23 Z" fill="#66b752" stroke="#2a2a33" stroke-width="0.45" stroke-linejoin="round"/>
<path d="M372.36,381.06 L379.01,382.23 A6.75,6.75 0 0 1 365.61,381.06 Z" fill="#b33545" stroke="#2a2a33" stroke-width="0.45" stroke-linejoin="round"/>
<path d="M372.36,381.06 L365.61,381.06 A6.75,6.75 0 0 1 372.36,374.31 Z" fill="#f2c43c" stroke="#2a2a33" stroke-width="0.45" stroke-linejoin="round"/>
<circle cx="372.36" cy="381.06" r="6.75" fill="none" stroke="#222228" stroke-width="0.8"/>
<circle cx="400.69" cy="381.06" r="7.75" fill="none" stroke="#ffffff" stroke-width="0.9" stroke-opacity="0.55"/>
<path d="M400.69,381.06 L400.69,374.31 A6.75,6.75 0 0 1 407.03,383.37 Z" fill="#4b689b" stroke="#2a2a33" stroke-width="0.45" stroke-linejoin="round"/>
<path d="M400.69,381.06 L407.03,383.37 A6.75,6.75 0 0 1 394.17,379.32 Z" fill="#b33545" stroke="#2a2a33" stroke-width="0.45" stroke-linejoin="round"/>
<path d="M400.69,381.06 L394.17,379.32 A6.75,6.75 0 0 1 400.69,374.31 Z" fill="#f2c43c" stroke="#2a2a33" stroke-width="0.45" stroke-linejoin="round"/>
<circle cx="400.69" cy="381.06" r="6.75" fill="none" stroke="#222228" stroke-width="0.8"/>
<circle cx="429.02" cy="381.06" r="7.75" fill="none" stroke="#ffffff" stroke-width="0.9" stroke-opacity="0.55"/>
<path d="M429.02,381.06 L429.02,374.31 A6.75,6.75 0 0 1 435.54,382.81 Z" fill="#4b689b" stroke="#2a2a33" stroke-width="0.45" stroke-linejoin="round"/>
<path d="M429.02,381.06 L435.54,382.81 A6.75,6.75 0 0 1 422.27,381.06 Z" fill="#b33545" stroke="#2a2a33" stroke-width="0.45" stroke-linejoin="round"/>
<path d="M429.02,381.06 L422.27,381.06 A6.75,6.75 0 0 1 429.02,374.31 Z" fill="#f2c43c" stroke="#2a2a33" stroke-width="0.45" stroke-linejoin="round"/>
<circle cx="429.02" cy="381.06" r="6.75" fill="none" stroke="#222228" stroke-width="0.8"/>
<circle cx="457.35" cy="381.06" r="7.75" fill="none" stroke="#ffffff" stroke-width="0.9" stroke-opacity="0.55"/>
<path d="M457.35,381.06 L457.35,374.31 A6.75,6.75 0 0 1 458.52,387.71 Z" fill="#4b689b" stroke="#2a2a33" stroke-width="0.45" stroke-linejoin="round"/>
<path d="M457.35,381.06 L458.52,387.71 A6.75,6.75 0 0 1 450.63,381.65 Z" fill="#b33545" stroke="#2a2a33" stroke-width="0.45" stroke-linejoin="round"/>
<path d="M457.35,381.06 L450.63,381.65 A6.75,6.75 0 0 1 457.35,374.31 Z" fill="#f2c43c" stroke="#2a2a33" stroke-width="0.45" stroke-linejoin="round"/>
<circle cx="457.35" cy="381.06" r="6.75" fill="none" stroke="#222228" stroke-width="0.8"/>
<circle cx="485.68" cy="381.06" r="7.75" fill="none" stroke="#ffffff" stroke-width="0.9" stroke-opacity="0.55"/>
<path d="M485.68,381.06 L485.68,374.31 A6.75,6.75 0 0 1 492.33,382.23 Z" fill="#4b689b" stroke="#2a2a33" stroke-width="0.45" stroke-linejoin="round"/>
<path d="M485.68,381.06 L492.33,382.23 A6.75,6.75 0 0 1 492.02,383.37 Z" fill="#66b752" stroke="#2a2a33" stroke-width="0.45" stroke-linejoin="round"/>
<path d="M485.68,381.06 L492.02,383.37 A6.75,6.75 0 1 1 480.51,376.72 Z" fill="#b33545" stroke="#2a2a33" stroke-width="0.45" stroke-linejoin="round"/>
<path d="M485.68,381.06 L480.51,376.72 A6.75,6.75 0 0 1 485.68,374.31 Z" fill="#f2c43c" stroke="#2a2a33" stroke-width="0.45" stroke-linejoin="round"/>
<circle cx="485.68" cy="381.06" r="6.75" fill="none" stroke="#222228" stroke-width="0.8"/>
<text x="75.90" y="403.97" font-size="8.8" fill="#231f20" stroke="#231f20" stroke-width="0.05" text-anchor="middle" textLength="7.50" lengthAdjust="spacingAndGlyphs" >#3</text>
<text x="290.80" y="403.97" font-size="8.8" fill="#231f20" stroke="#231f20" stroke-width="0.05" text-anchor="middle" textLength="7.50" lengthAdjust="spacingAndGlyphs" >#6</text>
<circle cx="106.40" cy="401.27" r="7.75" fill="none" stroke="#ffffff" stroke-width="0.9" stroke-opacity="0.55"/>
<path d="M106.40,401.27 L106.40,394.52 A6.75,6.75 0 0 1 112.74,398.96 Z" fill="#4b689b" stroke="#2a2a33" stroke-width="0.45" stroke-linejoin="round"/>
<path d="M106.40,401.27 L112.74,398.96 A6.75,6.75 0 0 1 113.15,401.27 Z" fill="#66b752" stroke="#2a2a33" stroke-width="0.45" stroke-linejoin="round"/>
<path d="M106.40,401.27 L113.15,401.27 A6.75,6.75 0 0 1 99.68,401.86 Z" fill="#b33545" stroke="#2a2a33" stroke-width="0.45" stroke-linejoin="round"/>
<path d="M106.40,401.27 L99.68,401.86 A6.75,6.75 0 0 1 106.40,394.52 Z" fill="#f2c43c" stroke="#2a2a33" stroke-width="0.45" stroke-linejoin="round"/>
<circle cx="106.40" cy="401.27" r="6.75" fill="none" stroke="#222228" stroke-width="0.8"/>
<circle cx="137.20" cy="401.27" r="7.75" fill="none" stroke="#ffffff" stroke-width="0.9" stroke-opacity="0.55"/>
<path d="M137.20,401.27 L137.20,394.52 A6.75,6.75 0 0 1 143.85,402.44 Z" fill="#4b689b" stroke="#2a2a33" stroke-width="0.45" stroke-linejoin="round"/>
<path d="M137.20,401.27 L143.85,402.44 A6.75,6.75 0 0 1 142.73,405.14 Z" fill="#66b752" stroke="#2a2a33" stroke-width="0.45" stroke-linejoin="round"/>
<path d="M137.20,401.27 L142.73,405.14 A6.75,6.75 0 0 1 133.83,407.12 Z" fill="#b33545" stroke="#2a2a33" stroke-width="0.45" stroke-linejoin="round"/>
<path d="M137.20,401.27 L133.83,407.12 A6.75,6.75 0 0 1 137.20,394.52 Z" fill="#f2c43c" stroke="#2a2a33" stroke-width="0.45" stroke-linejoin="round"/>
<circle cx="137.20" cy="401.27" r="6.75" fill="none" stroke="#222228" stroke-width="0.8"/>
<circle cx="168.00" cy="401.27" r="7.75" fill="none" stroke="#ffffff" stroke-width="0.9" stroke-opacity="0.55"/>
<path d="M168.00,401.27 L168.00,394.52 A6.75,6.75 0 0 1 174.52,403.02 Z" fill="#4b689b" stroke="#2a2a33" stroke-width="0.45" stroke-linejoin="round"/>
<path d="M168.00,401.27 L174.52,403.02 A6.75,6.75 0 0 1 173.53,405.14 Z" fill="#66b752" stroke="#2a2a33" stroke-width="0.45" stroke-linejoin="round"/>
<path d="M168.00,401.27 L173.53,405.14 A6.75,6.75 0 0 1 165.15,407.39 Z" fill="#b33545" stroke="#2a2a33" stroke-width="0.45" stroke-linejoin="round"/>
<path d="M168.00,401.27 L165.15,407.39 A6.75,6.75 0 0 1 168.00,394.52 Z" fill="#f2c43c" stroke="#2a2a33" stroke-width="0.45" stroke-linejoin="round"/>
<circle cx="168.00" cy="401.27" r="6.75" fill="none" stroke="#222228" stroke-width="0.8"/>
<circle cx="198.80" cy="401.27" r="7.75" fill="none" stroke="#ffffff" stroke-width="0.9" stroke-opacity="0.55"/>
<path d="M198.80,401.27 L198.80,394.52 A6.75,6.75 0 0 1 204.65,404.65 Z" fill="#4b689b" stroke="#2a2a33" stroke-width="0.45" stroke-linejoin="round"/>
<path d="M198.80,401.27 L204.65,404.65 A6.75,6.75 0 0 1 204.33,405.14 Z" fill="#66b752" stroke="#2a2a33" stroke-width="0.45" stroke-linejoin="round"/>
<path d="M198.80,401.27 L204.33,405.14 A6.75,6.75 0 0 1 193.27,405.14 Z" fill="#b33545" stroke="#2a2a33" stroke-width="0.45" stroke-linejoin="round"/>
<path d="M198.80,401.27 L193.27,405.14 A6.75,6.75 0 0 1 198.80,394.52 Z" fill="#f2c43c" stroke="#2a2a33" stroke-width="0.45" stroke-linejoin="round"/>
<circle cx="198.80" cy="401.27" r="6.75" fill="none" stroke="#222228" stroke-width="0.8"/>
<circle cx="229.60" cy="401.27" r="7.75" fill="none" stroke="#ffffff" stroke-width="0.9" stroke-opacity="0.55"/>
<path d="M229.60,401.27 L229.60,394.52 A6.75,6.75 0 0 1 236.25,402.44 Z" fill="#4b689b" stroke="#2a2a33" stroke-width="0.45" stroke-linejoin="round"/>
<path d="M229.60,401.27 L236.25,402.44 A6.75,6.75 0 0 1 226.75,407.39 Z" fill="#b33545" stroke="#2a2a33" stroke-width="0.45" stroke-linejoin="round"/>
<path d="M229.60,401.27 L226.75,407.39 A6.75,6.75 0 0 1 229.60,394.52 Z" fill="#f2c43c" stroke="#2a2a33" stroke-width="0.45" stroke-linejoin="round"/>
<circle cx="229.60" cy="401.27" r="6.75" fill="none" stroke="#222228" stroke-width="0.8"/>
<circle cx="260.40" cy="401.27" r="7.75" fill="none" stroke="#ffffff" stroke-width="0.9" stroke-opacity="0.55"/>
<path d="M260.40,401.27 L260.40,394.52 A6.75,6.75 0 0 1 265.57,405.61 Z" fill="#4b689b" stroke="#2a2a33" stroke-width="0.45" stroke-linejoin="round"/>
<path d="M260.40,401.27 L265.57,405.61 A6.75,6.75 0 0 1 265.17,406.04 Z" fill="#66b752" stroke="#2a2a33" stroke-width="0.45" stroke-linejoin="round"/>
<path d="M260.40,401.27 L265.17,406.04 A6.75,6.75 0 0 1 259.23,407.92 Z" fill="#b33545" stroke="#2a2a33" stroke-width="0.45" stroke-linejoin="round"/>
<path d="M260.40,401.27 L259.23,407.92 A6.75,6.75 0 0 1 260.40,394.52 Z" fill="#f2c43c" stroke="#2a2a33" stroke-width="0.45" stroke-linejoin="round"/>
<circle cx="260.40" cy="401.27" r="6.75" fill="none" stroke="#222228" stroke-width="0.8"/>
<circle cx="315.70" cy="401.27" r="7.75" fill="none" stroke="#ffffff" stroke-width="0.9" stroke-opacity="0.55"/>
<path d="M315.70,401.27 L315.70,394.52 A6.75,6.75 0 0 1 321.55,397.90 Z" fill="#4b689b" stroke="#2a2a33" stroke-width="0.45" stroke-linejoin="round"/>
<path d="M315.70,401.27 L321.55,397.90 A6.75,6.75 0 0 1 321.82,404.12 Z" fill="#66b752" stroke="#2a2a33" stroke-width="0.45" stroke-linejoin="round"/>
<path d="M315.70,401.27 L321.82,404.12 A6.75,6.75 0 0 1 309.36,398.96 Z" fill="#b33545" stroke="#2a2a33" stroke-width="0.45" stroke-linejoin="round"/>
<path d="M315.70,401.27 L309.36,398.96 A6.75,6.75 0 0 1 315.70,394.52 Z" fill="#f2c43c" stroke="#2a2a33" stroke-width="0.45" stroke-linejoin="round"/>
<circle cx="315.70" cy="401.27" r="6.75" fill="none" stroke="#222228" stroke-width="0.8"/>
<circle cx="344.03" cy="401.27" r="7.75" fill="none" stroke="#ffffff" stroke-width="0.9" stroke-opacity="0.55"/>
<path d="M344.03,401.27 L344.03,394.52 A6.75,6.75 0 1 1 342.86,407.92 Z" fill="#4b689b" stroke="#2a2a33" stroke-width="0.45" stroke-linejoin="round"/>
<path d="M344.03,401.27 L342.86,407.92 A6.75,6.75 0 0 1 340.16,395.74 Z" fill="#b33545" stroke="#2a2a33" stroke-width="0.45" stroke-linejoin="round"/>
<path d="M344.03,401.27 L340.16,395.74 A6.75,6.75 0 0 1 344.03,394.52 Z" fill="#f2c43c" stroke="#2a2a33" stroke-width="0.45" stroke-linejoin="round"/>
<circle cx="344.03" cy="401.27" r="6.75" fill="none" stroke="#222228" stroke-width="0.8"/>
<circle cx="372.36" cy="401.27" r="7.75" fill="none" stroke="#ffffff" stroke-width="0.9" stroke-opacity="0.55"/>
<path d="M372.36,401.27 L372.36,394.52 A6.75,6.75 0 0 1 378.48,404.12 Z" fill="#4b689b" stroke="#2a2a33" stroke-width="0.45" stroke-linejoin="round"/>
<path d="M372.36,401.27 L378.48,404.12 A6.75,6.75 0 0 1 377.89,405.14 Z" fill="#66b752" stroke="#2a2a33" stroke-width="0.45" stroke-linejoin="round"/>
<path d="M372.36,401.27 L377.89,405.14 A6.75,6.75 0 1 1 368.02,396.10 Z" fill="#b33545" stroke="#2a2a33" stroke-width="0.45" stroke-linejoin="round"/>
<path d="M372.36,401.27 L368.02,396.10 A6.75,6.75 0 0 1 372.36,394.52 Z" fill="#f2c43c" stroke="#2a2a33" stroke-width="0.45" stroke-linejoin="round"/>
<circle cx="372.36" cy="401.27" r="6.75" fill="none" stroke="#222228" stroke-width="0.8"/>
<circle cx="400.69" cy="401.27" r="7.75" fill="none" stroke="#ffffff" stroke-width="0.9" stroke-opacity="0.55"/>
<path d="M400.69,401.27 L400.69,394.52 A6.75,6.75 0 0 1 406.81,404.12 Z" fill="#4b689b" stroke="#2a2a33" stroke-width="0.45" stroke-linejoin="round"/>
<path d="M400.69,401.27 L406.81,404.12 A6.75,6.75 0 1 1 395.92,396.50 Z" fill="#b33545" stroke="#2a2a33" stroke-width="0.45" stroke-linejoin="round"/>
<path d="M400.69,401.27 L395.92,396.50 A6.75,6.75 0 0 1 400.69,394.52 Z" fill="#f2c43c" stroke="#2a2a33" stroke-width="0.45" stroke-linejoin="round"/>
<circle cx="400.69" cy="401.27" r="6.75" fill="none" stroke="#222228" stroke-width="0.8"/>
<circle cx="429.02" cy="401.27" r="7.75" fill="none" stroke="#ffffff" stroke-width="0.9" stroke-opacity="0.55"/>
<path d="M429.02,401.27 L429.02,394.52 A6.75,6.75 0 0 1 434.87,404.65 Z" fill="#4b689b" stroke="#2a2a33" stroke-width="0.45" stroke-linejoin="round"/>
<path d="M429.02,401.27 L434.87,404.65 A6.75,6.75 0 1 1 423.85,396.93 Z" fill="#b33545" stroke="#2a2a33" stroke-width="0.45" stroke-linejoin="round"/>
<path d="M429.02,401.27 L423.85,396.93 A6.75,6.75 0 0 1 429.02,394.52 Z" fill="#f2c43c" stroke="#2a2a33" stroke-width="0.45" stroke-linejoin="round"/>
<circle cx="429.02" cy="401.27" r="6.75" fill="none" stroke="#222228" stroke-width="0.8"/>
<circle cx="457.35" cy="401.27" r="7.75" fill="none" stroke="#ffffff" stroke-width="0.9" stroke-opacity="0.55"/>
<path d="M457.35,401.27 L457.35,394.52 A6.75,6.75 0 0 1 463.47,404.12 Z" fill="#4b689b" stroke="#2a2a33" stroke-width="0.45" stroke-linejoin="round"/>
<path d="M457.35,401.27 L463.47,404.12 A6.75,6.75 0 1 1 451.82,397.40 Z" fill="#b33545" stroke="#2a2a33" stroke-width="0.45" stroke-linejoin="round"/>
<path d="M457.35,401.27 L451.82,397.40 A6.75,6.75 0 0 1 457.35,394.52 Z" fill="#f2c43c" stroke="#2a2a33" stroke-width="0.45" stroke-linejoin="round"/>
<circle cx="457.35" cy="401.27" r="6.75" fill="none" stroke="#222228" stroke-width="0.8"/>
<circle cx="485.68" cy="401.27" r="7.75" fill="none" stroke="#ffffff" stroke-width="0.9" stroke-opacity="0.55"/>
<path d="M485.68,401.27 L485.68,394.52 A6.75,6.75 0 0 1 492.20,399.52 Z" fill="#4b689b" stroke="#2a2a33" stroke-width="0.45" stroke-linejoin="round"/>
<path d="M485.68,401.27 L492.20,399.52 A6.75,6.75 0 0 1 492.40,400.68 Z" fill="#66b752" stroke="#2a2a33" stroke-width="0.45" stroke-linejoin="round"/>
<path d="M485.68,401.27 L492.40,400.68 A6.75,6.75 0 1 1 482.30,395.43 Z" fill="#b33545" stroke="#2a2a33" stroke-width="0.45" stroke-linejoin="round"/>
<path d="M485.68,401.27 L482.30,395.43 A6.75,6.75 0 0 1 485.68,394.52 Z" fill="#f2c43c" stroke="#2a2a33" stroke-width="0.45" stroke-linejoin="round"/>
<circle cx="485.68" cy="401.27" r="6.75" fill="none" stroke="#222228" stroke-width="0.8"/>
<text x="75.90" y="424.18" font-size="8.8" fill="#231f20" stroke="#231f20" stroke-width="0.05" text-anchor="middle" textLength="7.50" lengthAdjust="spacingAndGlyphs" >#1</text>
<text x="290.80" y="424.18" font-size="8.8" fill="#231f20" stroke="#231f20" stroke-width="0.05" text-anchor="middle" textLength="7.50" lengthAdjust="spacingAndGlyphs" >#4</text>
<circle cx="106.40" cy="421.48" r="7.75" fill="none" stroke="#ffffff" stroke-width="0.9" stroke-opacity="0.55"/>
<path d="M106.40,421.48 L106.40,414.73 A6.75,6.75 0 0 1 111.57,417.14 Z" fill="#4b689b" stroke="#2a2a33" stroke-width="0.45" stroke-linejoin="round"/>
<path d="M106.40,421.48 L111.57,417.14 A6.75,6.75 0 0 1 106.40,428.23 Z" fill="#b33545" stroke="#2a2a33" stroke-width="0.45" stroke-linejoin="round"/>
<path d="M106.40,421.48 L106.40,428.23 A6.75,6.75 0 0 1 106.40,414.73 Z" fill="#f2c43c" stroke="#2a2a33" stroke-width="0.45" stroke-linejoin="round"/>
<circle cx="106.40" cy="421.48" r="6.75" fill="none" stroke="#222228" stroke-width="0.8"/>
<circle cx="137.20" cy="421.48" r="7.75" fill="none" stroke="#ffffff" stroke-width="0.9" stroke-opacity="0.55"/>
<path d="M137.20,421.48 L137.20,414.73 A6.75,6.75 0 0 1 143.32,418.63 Z" fill="#4b689b" stroke="#2a2a33" stroke-width="0.45" stroke-linejoin="round"/>
<path d="M137.20,421.48 L143.32,418.63 A6.75,6.75 0 0 1 133.33,427.01 Z" fill="#b33545" stroke="#2a2a33" stroke-width="0.45" stroke-linejoin="round"/>
<path d="M137.20,421.48 L133.33,427.01 A6.75,6.75 0 0 1 137.20,414.73 Z" fill="#f2c43c" stroke="#2a2a33" stroke-width="0.45" stroke-linejoin="round"/>
<circle cx="137.20" cy="421.48" r="6.75" fill="none" stroke="#222228" stroke-width="0.8"/>
<circle cx="168.00" cy="421.48" r="7.75" fill="none" stroke="#ffffff" stroke-width="0.9" stroke-opacity="0.55"/>
<path d="M168.00,421.48 L168.00,414.73 A6.75,6.75 0 0 1 174.52,423.23 Z" fill="#4b689b" stroke="#2a2a33" stroke-width="0.45" stroke-linejoin="round"/>
<path d="M168.00,421.48 L174.52,423.23 A6.75,6.75 0 0 1 161.66,423.79 Z" fill="#b33545" stroke="#2a2a33" stroke-width="0.45" stroke-linejoin="round"/>
<path d="M168.00,421.48 L161.66,423.79 A6.75,6.75 0 0 1 168.00,414.73 Z" fill="#f2c43c" stroke="#2a2a33" stroke-width="0.45" stroke-linejoin="round"/>
<circle cx="168.00" cy="421.48" r="6.75" fill="none" stroke="#222228" stroke-width="0.8"/>
<circle cx="198.80" cy="421.48" r="7.75" fill="none" stroke="#ffffff" stroke-width="0.9" stroke-opacity="0.55"/>
<path d="M198.80,421.48 L198.80,414.73 A6.75,6.75 0 0 1 205.52,422.07 Z" fill="#4b689b" stroke="#2a2a33" stroke-width="0.45" stroke-linejoin="round"/>
<path d="M198.80,421.48 L205.52,422.07 A6.75,6.75 0 0 1 192.46,423.79 Z" fill="#b33545" stroke="#2a2a33" stroke-width="0.45" stroke-linejoin="round"/>
<path d="M198.80,421.48 L192.46,423.79 A6.75,6.75 0 0 1 198.80,414.73 Z" fill="#f2c43c" stroke="#2a2a33" stroke-width="0.45" stroke-linejoin="round"/>
<circle cx="198.80" cy="421.48" r="6.75" fill="none" stroke="#222228" stroke-width="0.8"/>
<circle cx="229.60" cy="421.48" r="7.75" fill="none" stroke="#ffffff" stroke-width="0.9" stroke-opacity="0.55"/>
<path d="M229.60,421.48 L229.60,414.73 A6.75,6.75 0 0 1 236.35,421.48 Z" fill="#4b689b" stroke="#2a2a33" stroke-width="0.45" stroke-linejoin="round"/>
<path d="M229.60,421.48 L236.35,421.48 A6.75,6.75 0 0 1 223.48,424.33 Z" fill="#b33545" stroke="#2a2a33" stroke-width="0.45" stroke-linejoin="round"/>
<path d="M229.60,421.48 L223.48,424.33 A6.75,6.75 0 0 1 229.60,414.73 Z" fill="#f2c43c" stroke="#2a2a33" stroke-width="0.45" stroke-linejoin="round"/>
<circle cx="229.60" cy="421.48" r="6.75" fill="none" stroke="#222228" stroke-width="0.8"/>
<circle cx="260.40" cy="421.48" r="7.75" fill="none" stroke="#ffffff" stroke-width="0.9" stroke-opacity="0.55"/>
<path d="M260.40,421.48 L260.40,414.73 A6.75,6.75 0 0 1 267.05,420.31 Z" fill="#4b689b" stroke="#2a2a33" stroke-width="0.45" stroke-linejoin="round"/>
<path d="M260.40,421.48 L267.05,420.31 A6.75,6.75 0 0 1 254.55,424.85 Z" fill="#b33545" stroke="#2a2a33" stroke-width="0.45" stroke-linejoin="round"/>
<path d="M260.40,421.48 L254.55,424.85 A6.75,6.75 0 0 1 260.40,414.73 Z" fill="#f2c43c" stroke="#2a2a33" stroke-width="0.45" stroke-linejoin="round"/>
<circle cx="260.40" cy="421.48" r="6.75" fill="none" stroke="#222228" stroke-width="0.8"/>
<circle cx="315.70" cy="421.48" r="7.75" fill="none" stroke="#ffffff" stroke-width="0.9" stroke-opacity="0.55"/>
<path d="M315.70,421.48 L315.70,414.73 A6.75,6.75 0 0 1 322.42,422.07 Z" fill="#4b689b" stroke="#2a2a33" stroke-width="0.45" stroke-linejoin="round"/>
<path d="M315.70,421.48 L322.42,422.07 A6.75,6.75 0 0 1 322.22,423.23 Z" fill="#66b752" stroke="#2a2a33" stroke-width="0.45" stroke-linejoin="round"/>
<path d="M315.70,421.48 L322.22,423.23 A6.75,6.75 0 0 1 309.36,423.79 Z" fill="#b33545" stroke="#2a2a33" stroke-width="0.45" stroke-linejoin="round"/>
<path d="M315.70,421.48 L309.36,423.79 A6.75,6.75 0 0 1 315.70,414.73 Z" fill="#f2c43c" stroke="#2a2a33" stroke-width="0.45" stroke-linejoin="round"/>
<circle cx="315.70" cy="421.48" r="6.75" fill="none" stroke="#222228" stroke-width="0.8"/>
<circle cx="344.03" cy="421.48" r="7.75" fill="none" stroke="#ffffff" stroke-width="0.9" stroke-opacity="0.55"/>
<path d="M344.03,421.48 L344.03,414.73 A6.75,6.75 0 0 1 344.03,428.23 Z" fill="#4b689b" stroke="#2a2a33" stroke-width="0.45" stroke-linejoin="round"/>
<path d="M344.03,421.48 L344.03,428.23 A6.75,6.75 0 0 1 337.28,421.48 Z" fill="#b33545" stroke="#2a2a33" stroke-width="0.45" stroke-linejoin="round"/>
<path d="M344.03,421.48 L337.28,421.48 A6.75,6.75 0 0 1 344.03,414.73 Z" fill="#f2c43c" stroke="#2a2a33" stroke-width="0.45" stroke-linejoin="round"/>
<circle cx="344.03" cy="421.48" r="6.75" fill="none" stroke="#222228" stroke-width="0.8"/>
<circle cx="372.36" cy="421.48" r="7.75" fill="none" stroke="#ffffff" stroke-width="0.9" stroke-opacity="0.55"/>
<path d="M372.36,421.48 L372.36,414.73 A6.75,6.75 0 0 1 372.36,428.23 Z" fill="#4b689b" stroke="#2a2a33" stroke-width="0.45" stroke-linejoin="round"/>
<path d="M372.36,421.48 L372.36,428.23 A6.75,6.75 0 0 1 365.61,421.48 Z" fill="#b33545" stroke="#2a2a33" stroke-width="0.45" stroke-linejoin="round"/>
<path d="M372.36,421.48 L365.61,421.48 A6.75,6.75 0 0 1 372.36,414.73 Z" fill="#f2c43c" stroke="#2a2a33" stroke-width="0.45" stroke-linejoin="round"/>
<circle cx="372.36" cy="421.48" r="6.75" fill="none" stroke="#222228" stroke-width="0.8"/>
<circle cx="400.69" cy="421.48" r="7.75" fill="none" stroke="#ffffff" stroke-width="0.9" stroke-opacity="0.55"/>
<path d="M400.69,421.48 L400.69,414.73 A6.75,6.75 0 0 1 406.54,424.85 Z" fill="#4b689b" stroke="#2a2a33" stroke-width="0.45" stroke-linejoin="round"/>
<path d="M400.69,421.48 L406.54,424.85 A6.75,6.75 0 0 1 394.04,422.65 Z" fill="#b33545" stroke="#2a2a33" stroke-width="0.45" stroke-linejoin="round"/>
<path d="M400.69,421.48 L394.04,422.65 A6.75,6.75 0 0 1 400.69,414.73 Z" fill="#f2c43c" stroke="#2a2a33" stroke-width="0.45" stroke-linejoin="round"/>
<circle cx="400.69" cy="421.48" r="6.75" fill="none" stroke="#222228" stroke-width="0.8"/>
<circle cx="429.02" cy="421.48" r="7.75" fill="none" stroke="#ffffff" stroke-width="0.9" stroke-opacity="0.55"/>
<path d="M429.02,421.48 L429.02,414.73 A6.75,6.75 0 0 1 432.39,427.32 Z" fill="#4b689b" stroke="#2a2a33" stroke-width="0.45" stroke-linejoin="round"/>
<path d="M429.02,421.48 L432.39,427.32 A6.75,6.75 0 0 1 422.27,421.48 Z" fill="#b33545" stroke="#2a2a33" stroke-width="0.45" stroke-linejoin="round"/>
<path d="M429.02,421.48 L422.27,421.48 A6.75,6.75 0 0 1 429.02,414.73 Z" fill="#f2c43c" stroke="#2a2a33" stroke-width="0.45" stroke-linejoin="round"/>
<circle cx="429.02" cy="421.48" r="6.75" fill="none" stroke="#222228" stroke-width="0.8"/>
<circle cx="457.35" cy="421.48" r="7.75" fill="none" stroke="#ffffff" stroke-width="0.9" stroke-opacity="0.55"/>
<path d="M457.35,421.48 L457.35,414.73 A6.75,6.75 0 0 1 463.47,424.33 Z" fill="#4b689b" stroke="#2a2a33" stroke-width="0.45" stroke-linejoin="round"/>
<path d="M457.35,421.48 L463.47,424.33 A6.75,6.75 0 0 1 450.60,421.48 Z" fill="#b33545" stroke="#2a2a33" stroke-width="0.45" stroke-linejoin="round"/>
<path d="M457.35,421.48 L450.60,421.48 A6.75,6.75 0 0 1 457.35,414.73 Z" fill="#f2c43c" stroke="#2a2a33" stroke-width="0.45" stroke-linejoin="round"/>
<circle cx="457.35" cy="421.48" r="6.75" fill="none" stroke="#222228" stroke-width="0.8"/>
<circle cx="485.68" cy="421.48" r="7.75" fill="none" stroke="#ffffff" stroke-width="0.9" stroke-opacity="0.55"/>
<path d="M485.68,421.48 L485.68,414.73 A6.75,6.75 0 1 1 483.37,427.82 Z" fill="#4b689b" stroke="#2a2a33" stroke-width="0.45" stroke-linejoin="round"/>
<path d="M485.68,421.48 L483.37,427.82 A6.75,6.75 0 0 1 479.83,418.10 Z" fill="#b33545" stroke="#2a2a33" stroke-width="0.45" stroke-linejoin="round"/>
<path d="M485.68,421.48 L479.83,418.10 A6.75,6.75 0 0 1 485.68,414.73 Z" fill="#f2c43c" stroke="#2a2a33" stroke-width="0.45" stroke-linejoin="round"/>
<circle cx="485.68" cy="421.48" r="6.75" fill="none" stroke="#222228" stroke-width="0.8"/>
<text x="75.90" y="444.39" font-size="8.8" fill="#231f20" stroke="#231f20" stroke-width="0.05" text-anchor="middle" textLength="7.50" lengthAdjust="spacingAndGlyphs" >#2</text>
<text x="290.80" y="444.39" font-size="8.8" fill="#231f20" stroke="#231f20" stroke-width="0.05" text-anchor="middle" textLength="7.50" lengthAdjust="spacingAndGlyphs" >#5</text>
<circle cx="106.40" cy="441.69" r="7.75" fill="none" stroke="#ffffff" stroke-width="0.9" stroke-opacity="0.55"/>
<path d="M106.40,441.69 L106.40,434.94 A6.75,6.75 0 0 1 111.57,437.35 Z" fill="#4b689b" stroke="#2a2a33" stroke-width="0.45" stroke-linejoin="round"/>
<path d="M106.40,441.69 L111.57,437.35 A6.75,6.75 0 0 1 104.09,448.03 Z" fill="#b33545" stroke="#2a2a33" stroke-width="0.45" stroke-linejoin="round"/>
<path d="M106.40,441.69 L104.09,448.03 A6.75,6.75 0 0 1 106.40,434.94 Z" fill="#f2c43c" stroke="#2a2a33" stroke-width="0.45" stroke-linejoin="round"/>
<circle cx="106.40" cy="441.69" r="6.75" fill="none" stroke="#222228" stroke-width="0.8"/>
<circle cx="137.20" cy="441.69" r="7.75" fill="none" stroke="#ffffff" stroke-width="0.9" stroke-opacity="0.55"/>
<path d="M137.20,441.69 L137.20,434.94 A6.75,6.75 0 0 1 143.32,438.83 Z" fill="#4b689b" stroke="#2a2a33" stroke-width="0.45" stroke-linejoin="round"/>
<path d="M137.20,441.69 L143.32,438.83 A6.75,6.75 0 0 1 133.83,447.53 Z" fill="#b33545" stroke="#2a2a33" stroke-width="0.45" stroke-linejoin="round"/>
<path d="M137.20,441.69 L133.83,447.53 A6.75,6.75 0 0 1 137.20,434.94 Z" fill="#f2c43c" stroke="#2a2a33" stroke-width="0.45" stroke-linejoin="round"/>
<circle cx="137.20" cy="441.69" r="6.75" fill="none" stroke="#222228" stroke-width="0.8"/>
<circle cx="168.00" cy="441.69" r="7.75" fill="none" stroke="#ffffff" stroke-width="0.9" stroke-opacity="0.55"/>
<path d="M168.00,441.69 L168.00,434.94 A6.75,6.75 0 0 1 174.72,442.28 Z" fill="#4b689b" stroke="#2a2a33" stroke-width="0.45" stroke-linejoin="round"/>
<path d="M168.00,441.69 L174.72,442.28 A6.75,6.75 0 0 1 161.48,443.43 Z" fill="#b33545" stroke="#2a2a33" stroke-width="0.45" stroke-linejoin="round"/>
<path d="M168.00,441.69 L161.48,443.43 A6.75,6.75 0 0 1 168.00,434.94 Z" fill="#f2c43c" stroke="#2a2a33" stroke-width="0.45" stroke-linejoin="round"/>
<circle cx="168.00" cy="441.69" r="6.75" fill="none" stroke="#222228" stroke-width="0.8"/>
<circle cx="198.80" cy="441.69" r="7.75" fill="none" stroke="#ffffff" stroke-width="0.9" stroke-opacity="0.55"/>
<path d="M198.80,441.69 L198.80,434.94 A6.75,6.75 0 0 1 205.55,441.69 Z" fill="#4b689b" stroke="#2a2a33" stroke-width="0.45" stroke-linejoin="round"/>
<path d="M198.80,441.69 L205.55,441.69 A6.75,6.75 0 0 1 192.28,443.43 Z" fill="#b33545" stroke="#2a2a33" stroke-width="0.45" stroke-linejoin="round"/>
<path d="M198.80,441.69 L192.28,443.43 A6.75,6.75 0 0 1 198.80,434.94 Z" fill="#f2c43c" stroke="#2a2a33" stroke-width="0.45" stroke-linejoin="round"/>
<circle cx="198.80" cy="441.69" r="6.75" fill="none" stroke="#222228" stroke-width="0.8"/>
<circle cx="229.60" cy="441.69" r="7.75" fill="none" stroke="#ffffff" stroke-width="0.9" stroke-opacity="0.55"/>
<path d="M229.60,441.69 L229.60,434.94 A6.75,6.75 0 0 1 236.32,441.10 Z" fill="#4b689b" stroke="#2a2a33" stroke-width="0.45" stroke-linejoin="round"/>
<path d="M229.60,441.69 L236.32,441.10 A6.75,6.75 0 0 1 223.26,444.00 Z" fill="#b33545" stroke="#2a2a33" stroke-width="0.45" stroke-linejoin="round"/>
<path d="M229.60,441.69 L223.26,444.00 A6.75,6.75 0 0 1 229.60,434.94 Z" fill="#f2c43c" stroke="#2a2a33" stroke-width="0.45" stroke-linejoin="round"/>
<circle cx="229.60" cy="441.69" r="6.75" fill="none" stroke="#222228" stroke-width="0.8"/>
<circle cx="260.40" cy="441.69" r="7.75" fill="none" stroke="#ffffff" stroke-width="0.9" stroke-opacity="0.55"/>
<path d="M260.40,441.69 L260.40,434.94 A6.75,6.75 0 0 1 266.92,439.94 Z" fill="#4b689b" stroke="#2a2a33" stroke-width="0.45" stroke-linejoin="round"/>
<path d="M260.40,441.69 L266.92,439.94 A6.75,6.75 0 0 1 254.55,445.06 Z" fill="#b33545" stroke="#2a2a33" stroke-width="0.45" stroke-linejoin="round"/>
<path d="M260.40,441.69 L254.55,445.06 A6.75,6.75 0 0 1 260.40,434.94 Z" fill="#f2c43c" stroke="#2a2a33" stroke-width="0.45" stroke-linejoin="round"/>
<circle cx="260.40" cy="441.69" r="6.75" fill="none" stroke="#222228" stroke-width="0.8"/>
<circle cx="315.70" cy="441.69" r="7.75" fill="none" stroke="#ffffff" stroke-width="0.9" stroke-opacity="0.55"/>
<path d="M315.70,441.69 L315.70,434.94 A6.75,6.75 0 0 1 322.22,443.43 Z" fill="#4b689b" stroke="#2a2a33" stroke-width="0.45" stroke-linejoin="round"/>
<path d="M315.70,441.69 L322.22,443.43 A6.75,6.75 0 0 1 321.55,445.06 Z" fill="#66b752" stroke="#2a2a33" stroke-width="0.45" stroke-linejoin="round"/>
<path d="M315.70,441.69 L321.55,445.06 A6.75,6.75 0 0 1 309.36,444.00 Z" fill="#b33545" stroke="#2a2a33" stroke-width="0.45" stroke-linejoin="round"/>
<path d="M315.70,441.69 L309.36,444.00 A6.75,6.75 0 0 1 315.70,434.94 Z" fill="#f2c43c" stroke="#2a2a33" stroke-width="0.45" stroke-linejoin="round"/>
<circle cx="315.70" cy="441.69" r="6.75" fill="none" stroke="#222228" stroke-width="0.8"/>
<circle cx="344.03" cy="441.69" r="7.75" fill="none" stroke="#ffffff" stroke-width="0.9" stroke-opacity="0.55"/>
<path d="M344.03,441.69 L344.03,434.94 A6.75,6.75 0 0 1 349.20,446.03 Z" fill="#4b689b" stroke="#2a2a33" stroke-width="0.45" stroke-linejoin="round"/>
<path d="M344.03,441.69 L349.20,446.03 A6.75,6.75 0 0 1 337.35,442.63 Z" fill="#b33545" stroke="#2a2a33" stroke-width="0.45" stroke-linejoin="round"/>
<path d="M344.03,441.69 L337.35,442.63 A6.75,6.75 0 0 1 344.03,434.94 Z" fill="#f2c43c" stroke="#2a2a33" stroke-width="0.45" stroke-linejoin="round"/>
<circle cx="344.03" cy="441.69" r="6.75" fill="none" stroke="#222228" stroke-width="0.8"/>
<circle cx="372.36" cy="441.69" r="7.75" fill="none" stroke="#ffffff" stroke-width="0.9" stroke-opacity="0.55"/>
<path d="M372.36,441.69 L372.36,434.94 A6.75,6.75 0 0 1 377.53,446.03 Z" fill="#4b689b" stroke="#2a2a33" stroke-width="0.45" stroke-linejoin="round"/>
<path d="M372.36,441.69 L377.53,446.03 A6.75,6.75 0 0 1 376.70,446.86 Z" fill="#66b752" stroke="#2a2a33" stroke-width="0.45" stroke-linejoin="round"/>
<path d="M372.36,441.69 L376.70,446.86 A6.75,6.75 0 0 1 366.02,444.00 Z" fill="#b33545" stroke="#2a2a33" stroke-width="0.45" stroke-linejoin="round"/>
<path d="M372.36,441.69 L366.02,444.00 A6.75,6.75 0 0 1 372.36,434.94 Z" fill="#f2c43c" stroke="#2a2a33" stroke-width="0.45" stroke-linejoin="round"/>
<circle cx="372.36" cy="441.69" r="6.75" fill="none" stroke="#222228" stroke-width="0.8"/>
<circle cx="400.69" cy="441.69" r="7.75" fill="none" stroke="#ffffff" stroke-width="0.9" stroke-opacity="0.55"/>
<path d="M400.69,441.69 L400.69,434.94 A6.75,6.75 0 0 1 407.44,441.69 Z" fill="#4b689b" stroke="#2a2a33" stroke-width="0.45" stroke-linejoin="round"/>
<path d="M400.69,441.69 L407.44,441.69 A6.75,6.75 0 0 1 398.38,448.03 Z" fill="#b33545" stroke="#2a2a33" stroke-width="0.45" stroke-linejoin="round"/>
<path d="M400.69,441.69 L398.38,448.03 A6.75,6.75 0 0 1 400.69,434.94 Z" fill="#f2c43c" stroke="#2a2a33" stroke-width="0.45" stroke-linejoin="round"/>
<circle cx="400.69" cy="441.69" r="6.75" fill="none" stroke="#222228" stroke-width="0.8"/>
<circle cx="429.02" cy="441.69" r="7.75" fill="none" stroke="#ffffff" stroke-width="0.9" stroke-opacity="0.55"/>
<path d="M429.02,441.69 L429.02,434.94 A6.75,6.75 0 0 1 435.36,444.00 Z" fill="#4b689b" stroke="#2a2a33" stroke-width="0.45" stroke-linejoin="round"/>
<path d="M429.02,441.69 L435.36,444.00 A6.75,6.75 0 0 1 424.68,446.86 Z" fill="#b33545" stroke="#2a2a33" stroke-width="0.45" stroke-linejoin="round"/>
<path d="M429.02,441.69 L424.68,446.86 A6.75,6.75 0 0 1 429.02,434.94 Z" fill="#f2c43c" stroke="#2a2a33" stroke-width="0.45" stroke-linejoin="round"/>
<circle cx="429.02" cy="441.69" r="6.75" fill="none" stroke="#222228" stroke-width="0.8"/>
<circle cx="457.35" cy="441.69" r="7.75" fill="none" stroke="#ffffff" stroke-width="0.9" stroke-opacity="0.55"/>
<path d="M457.35,441.69 L457.35,434.94 A6.75,6.75 0 0 1 464.10,441.69 Z" fill="#4b689b" stroke="#2a2a33" stroke-width="0.45" stroke-linejoin="round"/>
<path d="M457.35,441.69 L464.10,441.69 A6.75,6.75 0 0 1 457.35,448.44 Z" fill="#b33545" stroke="#2a2a33" stroke-width="0.45" stroke-linejoin="round"/>
<path d="M457.35,441.69 L457.35,448.44 A6.75,6.75 0 0 1 457.35,434.94 Z" fill="#f2c43c" stroke="#2a2a33" stroke-width="0.45" stroke-linejoin="round"/>
<circle cx="457.35" cy="441.69" r="6.75" fill="none" stroke="#222228" stroke-width="0.8"/>
<circle cx="485.68" cy="441.69" r="7.75" fill="none" stroke="#ffffff" stroke-width="0.9" stroke-opacity="0.55"/>
<path d="M485.68,441.69 L485.68,434.94 A6.75,6.75 0 0 1 492.43,441.69 Z" fill="#4b689b" stroke="#2a2a33" stroke-width="0.45" stroke-linejoin="round"/>
<path d="M485.68,441.69 L492.43,441.69 A6.75,6.75 0 0 1 492.40,442.28 Z" fill="#66b752" stroke="#2a2a33" stroke-width="0.45" stroke-linejoin="round"/>
<path d="M485.68,441.69 L492.40,442.28 A6.75,6.75 0 0 1 479.34,444.00 Z" fill="#b33545" stroke="#2a2a33" stroke-width="0.45" stroke-linejoin="round"/>
<path d="M485.68,441.69 L479.34,444.00 A6.75,6.75 0 0 1 485.68,434.94 Z" fill="#f2c43c" stroke="#2a2a33" stroke-width="0.45" stroke-linejoin="round"/>
<circle cx="485.68" cy="441.69" r="6.75" fill="none" stroke="#222228" stroke-width="0.8"/>
<text x="75.90" y="464.60" font-size="8.8" fill="#231f20" stroke="#231f20" stroke-width="0.05" text-anchor="middle" textLength="7.50" lengthAdjust="spacingAndGlyphs" >#3</text>
<text x="290.80" y="464.60" font-size="8.8" fill="#231f20" stroke="#231f20" stroke-width="0.05" text-anchor="middle" textLength="7.50" lengthAdjust="spacingAndGlyphs" >#6</text>
<circle cx="106.40" cy="461.90" r="7.75" fill="none" stroke="#ffffff" stroke-width="0.9" stroke-opacity="0.55"/>
<path d="M106.40,461.90 L106.40,455.15 A6.75,6.75 0 0 1 111.93,458.02 Z" fill="#4b689b" stroke="#2a2a33" stroke-width="0.45" stroke-linejoin="round"/>
<path d="M106.40,461.90 L111.93,458.02 A6.75,6.75 0 0 1 106.40,468.65 Z" fill="#b33545" stroke="#2a2a33" stroke-width="0.45" stroke-linejoin="round"/>
<path d="M106.40,461.90 L106.40,468.65 A6.75,6.75 0 0 1 106.40,455.15 Z" fill="#f2c43c" stroke="#2a2a33" stroke-width="0.45" stroke-linejoin="round"/>
<circle cx="106.40" cy="461.90" r="6.75" fill="none" stroke="#222228" stroke-width="0.8"/>
<circle cx="137.20" cy="461.90" r="7.75" fill="none" stroke="#ffffff" stroke-width="0.9" stroke-opacity="0.55"/>
<path d="M137.20,461.90 L137.20,455.15 A6.75,6.75 0 0 1 143.32,459.04 Z" fill="#4b689b" stroke="#2a2a33" stroke-width="0.45" stroke-linejoin="round"/>
<path d="M137.20,461.90 L143.32,459.04 A6.75,6.75 0 0 1 133.83,467.74 Z" fill="#b33545" stroke="#2a2a33" stroke-width="0.45" stroke-linejoin="round"/>
<path d="M137.20,461.90 L133.83,467.74 A6.75,6.75 0 0 1 137.20,455.15 Z" fill="#f2c43c" stroke="#2a2a33" stroke-width="0.45" stroke-linejoin="round"/>
<circle cx="137.20" cy="461.90" r="6.75" fill="none" stroke="#222228" stroke-width="0.8"/>
<circle cx="168.00" cy="461.90" r="7.75" fill="none" stroke="#ffffff" stroke-width="0.9" stroke-opacity="0.55"/>
<path d="M168.00,461.90 L168.00,455.15 A6.75,6.75 0 0 1 174.34,464.20 Z" fill="#4b689b" stroke="#2a2a33" stroke-width="0.45" stroke-linejoin="round"/>
<path d="M168.00,461.90 L174.34,464.20 A6.75,6.75 0 0 1 161.88,464.75 Z" fill="#b33545" stroke="#2a2a33" stroke-width="0.45" stroke-linejoin="round"/>
<path d="M168.00,461.90 L161.88,464.75 A6.75,6.75 0 0 1 168.00,455.15 Z" fill="#f2c43c" stroke="#2a2a33" stroke-width="0.45" stroke-linejoin="round"/>
<circle cx="168.00" cy="461.90" r="6.75" fill="none" stroke="#222228" stroke-width="0.8"/>
<circle cx="198.80" cy="461.90" r="7.75" fill="none" stroke="#ffffff" stroke-width="0.9" stroke-opacity="0.55"/>
<path d="M198.80,461.90 L198.80,455.15 A6.75,6.75 0 0 1 205.52,462.48 Z" fill="#4b689b" stroke="#2a2a33" stroke-width="0.45" stroke-linejoin="round"/>
<path d="M198.80,461.90 L205.52,462.48 A6.75,6.75 0 0 1 192.46,464.20 Z" fill="#b33545" stroke="#2a2a33" stroke-width="0.45" stroke-linejoin="round"/>
<path d="M198.80,461.90 L192.46,464.20 A6.75,6.75 0 0 1 198.80,455.15 Z" fill="#f2c43c" stroke="#2a2a33" stroke-width="0.45" stroke-linejoin="round"/>
<circle cx="198.80" cy="461.90" r="6.75" fill="none" stroke="#222228" stroke-width="0.8"/>
<circle cx="229.60" cy="461.90" r="7.75" fill="none" stroke="#ffffff" stroke-width="0.9" stroke-opacity="0.55"/>
<path d="M229.60,461.90 L229.60,455.15 A6.75,6.75 0 0 1 236.32,461.31 Z" fill="#4b689b" stroke="#2a2a33" stroke-width="0.45" stroke-linejoin="round"/>
<path d="M229.60,461.90 L236.32,461.31 A6.75,6.75 0 0 1 223.48,464.75 Z" fill="#b33545" stroke="#2a2a33" stroke-width="0.45" stroke-linejoin="round"/>
<path d="M229.60,461.90 L223.48,464.75 A6.75,6.75 0 0 1 229.60,455.15 Z" fill="#f2c43c" stroke="#2a2a33" stroke-width="0.45" stroke-linejoin="round"/>
<circle cx="229.60" cy="461.90" r="6.75" fill="none" stroke="#222228" stroke-width="0.8"/>
<circle cx="260.40" cy="461.90" r="7.75" fill="none" stroke="#ffffff" stroke-width="0.9" stroke-opacity="0.55"/>
<path d="M260.40,461.90 L260.40,455.15 A6.75,6.75 0 0 1 267.12,461.31 Z" fill="#4b689b" stroke="#2a2a33" stroke-width="0.45" stroke-linejoin="round"/>
<path d="M260.40,461.90 L267.12,461.31 A6.75,6.75 0 0 1 254.55,465.27 Z" fill="#b33545" stroke="#2a2a33" stroke-width="0.45" stroke-linejoin="round"/>
<path d="M260.40,461.90 L254.55,465.27 A6.75,6.75 0 0 1 260.40,455.15 Z" fill="#f2c43c" stroke="#2a2a33" stroke-width="0.45" stroke-linejoin="round"/>
<circle cx="260.40" cy="461.90" r="6.75" fill="none" stroke="#222228" stroke-width="0.8"/>
<circle cx="315.70" cy="461.90" r="7.75" fill="none" stroke="#ffffff" stroke-width="0.9" stroke-opacity="0.55"/>
<path d="M315.70,461.90 L315.70,455.15 A6.75,6.75 0 0 1 322.04,459.59 Z" fill="#4b689b" stroke="#2a2a33" stroke-width="0.45" stroke-linejoin="round"/>
<path d="M315.70,461.90 L322.04,459.59 A6.75,6.75 0 0 1 322.42,461.31 Z" fill="#66b752" stroke="#2a2a33" stroke-width="0.45" stroke-linejoin="round"/>
<path d="M315.70,461.90 L322.42,461.31 A6.75,6.75 0 0 1 309.58,464.75 Z" fill="#b33545" stroke="#2a2a33" stroke-width="0.45" stroke-linejoin="round"/>
<path d="M315.70,461.90 L309.58,464.75 A6.75,6.75 0 0 1 315.70,455.15 Z" fill="#f2c43c" stroke="#2a2a33" stroke-width="0.45" stroke-linejoin="round"/>
<circle cx="315.70" cy="461.90" r="6.75" fill="none" stroke="#222228" stroke-width="0.8"/>
<circle cx="344.03" cy="461.90" r="7.75" fill="none" stroke="#ffffff" stroke-width="0.9" stroke-opacity="0.55"/>
<path d="M344.03,461.90 L344.03,455.15 A6.75,6.75 0 0 1 349.56,465.77 Z" fill="#4b689b" stroke="#2a2a33" stroke-width="0.45" stroke-linejoin="round"/>
<path d="M344.03,461.90 L349.56,465.77 A6.75,6.75 0 0 1 340.16,467.43 Z" fill="#b33545" stroke="#2a2a33" stroke-width="0.45" stroke-linejoin="round"/>
<path d="M344.03,461.90 L340.16,467.43 A6.75,6.75 0 0 1 344.03,455.15 Z" fill="#f2c43c" stroke="#2a2a33" stroke-width="0.45" stroke-linejoin="round"/>
<circle cx="344.03" cy="461.90" r="6.75" fill="none" stroke="#222228" stroke-width="0.8"/>
<circle cx="372.36" cy="461.90" r="7.75" fill="none" stroke="#ffffff" stroke-width="0.9" stroke-opacity="0.55"/>
<path d="M372.36,461.90 L372.36,455.15 A6.75,6.75 0 0 1 377.89,465.77 Z" fill="#4b689b" stroke="#2a2a33" stroke-width="0.45" stroke-linejoin="round"/>
<path d="M372.36,461.90 L377.89,465.77 A6.75,6.75 0 0 1 365.61,461.90 Z" fill="#b33545" stroke="#2a2a33" stroke-width="0.45" stroke-linejoin="round"/>
<path d="M372.36,461.90 L365.61,461.90 A6.75,6.75 0 0 1 372.36,455.15 Z" fill="#f2c43c" stroke="#2a2a33" stroke-width="0.45" stroke-linejoin="round"/>
<circle cx="372.36" cy="461.90" r="6.75" fill="none" stroke="#222228" stroke-width="0.8"/>
<circle cx="400.69" cy="461.90" r="7.75" fill="none" stroke="#ffffff" stroke-width="0.9" stroke-opacity="0.55"/>
<path d="M400.69,461.90 L400.69,455.15 A6.75,6.75 0 0 1 404.06,467.74 Z" fill="#4b689b" stroke="#2a2a33" stroke-width="0.45" stroke-linejoin="round"/>
<path d="M400.69,461.90 L404.06,467.74 A6.75,6.75 0 0 1 394.84,465.27 Z" fill="#b33545" stroke="#2a2a33" stroke-width="0.45" stroke-linejoin="round"/>
<path d="M400.69,461.90 L394.84,465.27 A6.75,6.75 0 0 1 400.69,455.15 Z" fill="#f2c43c" stroke="#2a2a33" stroke-width="0.45" stroke-linejoin="round"/>
<circle cx="400.69" cy="461.90" r="6.75" fill="none" stroke="#222228" stroke-width="0.8"/>
<circle cx="429.02" cy="461.90" r="7.75" fill="none" stroke="#ffffff" stroke-width="0.9" stroke-opacity="0.55"/>
<path d="M429.02,461.90 L429.02,455.15 A6.75,6.75 0 0 1 433.36,467.07 Z" fill="#4b689b" stroke="#2a2a33" stroke-width="0.45" stroke-linejoin="round"/>
<path d="M429.02,461.90 L433.36,467.07 A6.75,6.75 0 0 1 424.68,467.07 Z" fill="#b33545" stroke="#2a2a33" stroke-width="0.45" stroke-linejoin="round"/>
<path d="M429.02,461.90 L424.68,467.07 A6.75,6.75 0 0 1 429.02,455.15 Z" fill="#f2c43c" stroke="#2a2a33" stroke-width="0.45" stroke-linejoin="round"/>
<circle cx="429.02" cy="461.90" r="6.75" fill="none" stroke="#222228" stroke-width="0.8"/>
<circle cx="457.35" cy="461.90" r="7.75" fill="none" stroke="#ffffff" stroke-width="0.9" stroke-opacity="0.55"/>
<path d="M457.35,461.90 L457.35,455.15 A6.75,6.75 0 0 1 463.20,465.27 Z" fill="#4b689b" stroke="#2a2a33" stroke-width="0.45" stroke-linejoin="round"/>
<path d="M457.35,461.90 L463.20,465.27 A6.75,6.75 0 0 1 453.01,467.07 Z" fill="#b33545" stroke="#2a2a33" stroke-width="0.45" stroke-linejoin="round"/>
<path d="M457.35,461.90 L453.01,467.07 A6.75,6.75 0 0 1 457.35,455.15 Z" fill="#f2c43c" stroke="#2a2a33" stroke-width="0.45" stroke-linejoin="round"/>
<circle cx="457.35" cy="461.90" r="6.75" fill="none" stroke="#222228" stroke-width="0.8"/>
<circle cx="485.68" cy="461.90" r="7.75" fill="none" stroke="#ffffff" stroke-width="0.9" stroke-opacity="0.55"/>
<path d="M485.68,461.90 L485.68,455.15 A6.75,6.75 0 0 1 492.33,460.72 Z" fill="#4b689b" stroke="#2a2a33" stroke-width="0.45" stroke-linejoin="round"/>
<path d="M485.68,461.90 L492.33,460.72 A6.75,6.75 0 0 1 492.40,462.48 Z" fill="#66b752" stroke="#2a2a33" stroke-width="0.45" stroke-linejoin="round"/>
<path d="M485.68,461.90 L492.40,462.48 A6.75,6.75 0 0 1 478.96,461.31 Z" fill="#b33545" stroke="#2a2a33" stroke-width="0.45" stroke-linejoin="round"/>
<path d="M485.68,461.90 L478.96,461.31 A6.75,6.75 0 0 1 485.68,455.15 Z" fill="#f2c43c" stroke="#2a2a33" stroke-width="0.45" stroke-linejoin="round"/>
<circle cx="485.68" cy="461.90" r="6.75" fill="none" stroke="#222228" stroke-width="0.8"/>
<text x="7.00" y="497.80" font-size="11" fill="#231f20" stroke="#231f20" stroke-width="0.05" >C</text>
<text x="22.60" y="511.00" font-size="10" fill="#231f20" stroke="#231f20" stroke-width="0.05" >i</text>
<text x="99.20" y="510.50" font-size="10.2" fill="#231f20" stroke="#231f20" stroke-width="0.05" text-anchor="middle" textLength="47.60" lengthAdjust="spacingAndGlyphs" >Young mice</text>
<text x="198.60" y="510.40" font-size="10" fill="#231f20" stroke="#231f20" stroke-width="0.05" >ii</text>
<text x="278.20" y="510.50" font-size="10.2" fill="#231f20" stroke="#231f20" stroke-width="0.05" text-anchor="middle" textLength="43.50" lengthAdjust="spacingAndGlyphs" >Aged mice</text>
<defs><linearGradient id="cbar" x1="0" x2="1" y1="0" y2="0"><stop offset="0" stop-color="#d6d4d0"/><stop offset="0.25" stop-color="#d9cc7a"/><stop offset="0.5" stop-color="#e0b92a"/><stop offset="0.75" stop-color="#d87a30"/><stop offset="1" stop-color="#c9282e"/></linearGradient></defs>
<rect x="28.80" y="528.80" width="24.37" height="14.58" fill="#e43a33" />
<rect x="52.17" y="528.80" width="24.37" height="14.58" fill="#e54a33" />
<rect x="75.54" y="528.80" width="24.37" height="14.58" fill="#e8622f" />
<rect x="98.91" y="528.80" width="24.37" height="14.58" fill="#ec843a" />
<rect x="122.28" y="528.80" width="24.37" height="14.58" fill="#ec843a" />
<rect x="145.65" y="528.80" width="23.37" height="14.58" fill="#e54a33" />
<rect x="28.80" y="542.38" width="24.37" height="14.58" fill="#e54a33" />
<rect x="52.17" y="542.38" width="24.37" height="14.58" fill="#e43a33" />
<rect x="75.54" y="542.38" width="24.37" height="14.58" fill="#e54a33" />
<rect x="98.91" y="542.38" width="24.37" height="14.58" fill="#e8622f" />
<rect x="122.28" y="542.38" width="24.37" height="14.58" fill="#e8622f" />
<rect x="145.65" y="542.38" width="23.37" height="14.58" fill="#e43a33" />
<rect x="28.80" y="555.96" width="24.37" height="14.58" fill="#e8622f" />
<rect x="52.17" y="555.96" width="24.37" height="14.58" fill="#e54a33" />
<rect x="75.54" y="555.96" width="24.37" height="14.58" fill="#e43a33" />
<rect x="98.91" y="555.96" width="24.37" height="14.58" fill="#e43a33" />
<rect x="122.28" y="555.96" width="24.37" height="14.58" fill="#e54a33" />
<rect x="145.65" y="555.96" width="23.37" height="14.58" fill="#e54a33" />
<rect x="28.80" y="569.54" width="24.37" height="14.58" fill="#ec843a" />
<rect x="52.17" y="569.54" width="24.37" height="14.58" fill="#e8622f" />
<rect x="75.54" y="569.54" width="24.37" height="14.58" fill="#e43a33" />
<rect x="98.91" y="569.54" width="24.37" height="14.58" fill="#e43a33" />
<rect x="122.28" y="569.54" width="24.37" height="14.58" fill="#e54a33" />
<rect x="145.65" y="569.54" width="23.37" height="14.58" fill="#e54a33" />
<rect x="28.80" y="583.12" width="24.37" height="14.58" fill="#ec843a" />
<rect x="52.17" y="583.12" width="24.37" height="14.58" fill="#e8622f" />
<rect x="75.54" y="583.12" width="24.37" height="14.58" fill="#e54a33" />
<rect x="98.91" y="583.12" width="24.37" height="14.58" fill="#e54a33" />
<rect x="122.28" y="583.12" width="24.37" height="14.58" fill="#e43a33" />
<rect x="145.65" y="583.12" width="23.37" height="14.58" fill="#e54a33" />
<rect x="28.80" y="596.70" width="24.37" height="13.58" fill="#e54a33" />
<rect x="52.17" y="596.70" width="24.37" height="13.58" fill="#e43a33" />
<rect x="75.54" y="596.70" width="24.37" height="13.58" fill="#e54a33" />
<rect x="98.91" y="596.70" width="24.37" height="13.58" fill="#e54a33" />
<rect x="122.28" y="596.70" width="24.37" height="13.58" fill="#e54a33" />
<rect x="145.65" y="596.70" width="23.37" height="13.58" fill="#e43a33" />
<text x="40.48" y="525.90" font-size="9.2" fill="#231f20" stroke="#231f20" stroke-width="0.05" text-anchor="middle" textLength="14.00" lengthAdjust="spacingAndGlyphs" >HSC</text>
<text x="63.86" y="525.90" font-size="9.2" fill="#231f20" stroke="#231f20" stroke-width="0.05" text-anchor="middle" textLength="14.00" lengthAdjust="spacingAndGlyphs" >MPP</text>
<text x="87.23" y="525.90" font-size="9.2" fill="#231f20" stroke="#231f20" stroke-width="0.05" text-anchor="middle" textLength="14.00" lengthAdjust="spacingAndGlyphs" >CMP</text>
<text x="110.59" y="525.90" font-size="9.2" fill="#231f20" stroke="#231f20" stroke-width="0.05" text-anchor="middle" textLength="14.00" lengthAdjust="spacingAndGlyphs" >GMP</text>
<text x="133.97" y="525.90" font-size="9.2" fill="#231f20" stroke="#231f20" stroke-width="0.05" text-anchor="middle" textLength="14.00" lengthAdjust="spacingAndGlyphs" >MEP</text>
<text x="157.34" y="525.90" font-size="9.2" fill="#231f20" stroke="#231f20" stroke-width="0.05" text-anchor="middle" textLength="12.00" lengthAdjust="spacingAndGlyphs" >CLP</text>
<text x="25.40" y="538.79" font-size="9.2" fill="#231f20" stroke="#231f20" stroke-width="0.05" text-anchor="end" textLength="14.00" lengthAdjust="spacingAndGlyphs" >HSC</text>
<text x="25.40" y="552.37" font-size="9.2" fill="#231f20" stroke="#231f20" stroke-width="0.05" text-anchor="end" textLength="14.00" lengthAdjust="spacingAndGlyphs" >MPP</text>
<text x="25.40" y="565.95" font-size="9.2" fill="#231f20" stroke="#231f20" stroke-width="0.05" text-anchor="end" textLength="14.00" lengthAdjust="spacingAndGlyphs" >CMP</text>
<text x="25.40" y="579.53" font-size="9.2" fill="#231f20" stroke="#231f20" stroke-width="0.05" text-anchor="end" textLength="14.00" lengthAdjust="spacingAndGlyphs" >GMP</text>
<text x="25.40" y="593.11" font-size="9.2" fill="#231f20" stroke="#231f20" stroke-width="0.05" text-anchor="end" textLength="14.00" lengthAdjust="spacingAndGlyphs" >MEP</text>
<text x="25.40" y="606.69" font-size="9.2" fill="#231f20" stroke="#231f20" stroke-width="0.05" text-anchor="end" textLength="12.00" lengthAdjust="spacingAndGlyphs" >CLP</text>
<rect x="28.80" y="615.8" width="140.22" height="2.1" fill="url(#cbar)"/>
<text x="28.80" y="628.60" font-size="8.6" fill="#231f20" stroke="#231f20" stroke-width="0.05" text-anchor="middle" textLength="10.40" lengthAdjust="spacingAndGlyphs" >0.4</text>
<text x="98.91" y="628.60" font-size="8.6" fill="#231f20" stroke="#231f20" stroke-width="0.05" text-anchor="middle" textLength="10.00" lengthAdjust="spacingAndGlyphs" >0.7</text>
<text x="169.02" y="628.60" font-size="8.6" fill="#231f20" stroke="#231f20" stroke-width="0.05" text-anchor="middle" textLength="13.50" lengthAdjust="spacingAndGlyphs" >1.00</text>
<rect x="208.40" y="528.70" width="24.37" height="14.58" fill="#e43a33" />
<rect x="231.77" y="528.70" width="24.37" height="14.58" fill="#e54a33" />
<rect x="255.14" y="528.70" width="24.37" height="14.58" fill="#f8cf3c" />
<rect x="278.51" y="528.70" width="24.37" height="14.58" fill="#faea8c" />
<rect x="301.88" y="528.70" width="24.37" height="14.58" fill="#f8f4dc" />
<rect x="325.25" y="528.70" width="23.37" height="14.58" fill="#f3ab35" />
<rect x="208.40" y="542.28" width="24.37" height="14.58" fill="#e54a33" />
<rect x="231.77" y="542.28" width="24.37" height="14.58" fill="#e43a33" />
<rect x="255.14" y="542.28" width="24.37" height="14.58" fill="#ec7f36" />
<rect x="278.51" y="542.28" width="24.37" height="14.58" fill="#f4b13a" />
<rect x="301.88" y="542.28" width="24.37" height="14.58" fill="#f9ef9f" />
<rect x="325.25" y="542.28" width="23.37" height="14.58" fill="#e54a33" />
<rect x="208.40" y="555.86" width="24.37" height="14.58" fill="#f8cf3c" />
<rect x="231.77" y="555.86" width="24.37" height="14.58" fill="#ed8038" />
<rect x="255.14" y="555.86" width="24.37" height="14.58" fill="#e43a33" />
<rect x="278.51" y="555.86" width="24.37" height="14.58" fill="#e54a33" />
<rect x="301.88" y="555.86" width="24.37" height="14.58" fill="#ed8038" />
<rect x="325.25" y="555.86" width="23.37" height="14.58" fill="#e8663a" />
<rect x="208.40" y="569.44" width="24.37" height="14.58" fill="#faea8a" />
<rect x="231.77" y="569.44" width="24.37" height="14.58" fill="#f4b13a" />
<rect x="255.14" y="569.44" width="24.37" height="14.58" fill="#e54a33" />
<rect x="278.51" y="569.44" width="24.37" height="14.58" fill="#e43a33" />
<rect x="301.88" y="569.44" width="24.37" height="14.58" fill="#e8663a" />
<rect x="325.25" y="569.44" width="23.37" height="14.58" fill="#ee8f3a" />
<rect x="208.40" y="583.02" width="24.37" height="14.58" fill="#f8f5de" />
<rect x="231.77" y="583.02" width="24.37" height="14.58" fill="#f9efb0" />
<rect x="255.14" y="583.02" width="24.37" height="14.58" fill="#ed8038" />
<rect x="278.51" y="583.02" width="24.37" height="14.58" fill="#e8663a" />
<rect x="301.88" y="583.02" width="24.37" height="14.58" fill="#e43a33" />
<rect x="325.25" y="583.02" width="23.37" height="14.58" fill="#fae970" />
<rect x="208.40" y="596.60" width="24.37" height="13.58" fill="#f3ab35" />
<rect x="231.77" y="596.60" width="24.37" height="13.58" fill="#e54a33" />
<rect x="255.14" y="596.60" width="24.37" height="13.58" fill="#e8663a" />
<rect x="278.51" y="596.60" width="24.37" height="13.58" fill="#ee8f3a" />
<rect x="301.88" y="596.60" width="24.37" height="13.58" fill="#fae970" />
<rect x="325.25" y="596.60" width="23.37" height="13.58" fill="#e43a33" />
<text x="220.09" y="525.90" font-size="9.2" fill="#231f20" stroke="#231f20" stroke-width="0.05" text-anchor="middle" textLength="14.00" lengthAdjust="spacingAndGlyphs" >HSC</text>
<text x="243.46" y="525.90" font-size="9.2" fill="#231f20" stroke="#231f20" stroke-width="0.05" text-anchor="middle" textLength="14.00" lengthAdjust="spacingAndGlyphs" >MPP</text>
<text x="266.82" y="525.90" font-size="9.2" fill="#231f20" stroke="#231f20" stroke-width="0.05" text-anchor="middle" textLength="14.00" lengthAdjust="spacingAndGlyphs" >CMP</text>
<text x="290.19" y="525.90" font-size="9.2" fill="#231f20" stroke="#231f20" stroke-width="0.05" text-anchor="middle" textLength="14.00" lengthAdjust="spacingAndGlyphs" >GMP</text>
<text x="313.56" y="525.90" font-size="9.2" fill="#231f20" stroke="#231f20" stroke-width="0.05" text-anchor="middle" textLength="14.00" lengthAdjust="spacingAndGlyphs" >MEP</text>
<text x="336.94" y="525.90" font-size="9.2" fill="#231f20" stroke="#231f20" stroke-width="0.05" text-anchor="middle" textLength="12.00" lengthAdjust="spacingAndGlyphs" >CLP</text>
<text x="205.00" y="538.69" font-size="9.2" fill="#231f20" stroke="#231f20" stroke-width="0.05" text-anchor="end" textLength="14.00" lengthAdjust="spacingAndGlyphs" >HSC</text>
<text x="205.00" y="552.27" font-size="9.2" fill="#231f20" stroke="#231f20" stroke-width="0.05" text-anchor="end" textLength="14.00" lengthAdjust="spacingAndGlyphs" >MPP</text>
<text x="205.00" y="565.85" font-size="9.2" fill="#231f20" stroke="#231f20" stroke-width="0.05" text-anchor="end" textLength="14.00" lengthAdjust="spacingAndGlyphs" >CMP</text>
<text x="205.00" y="579.43" font-size="9.2" fill="#231f20" stroke="#231f20" stroke-width="0.05" text-anchor="end" textLength="14.00" lengthAdjust="spacingAndGlyphs" >GMP</text>
<text x="205.00" y="593.01" font-size="9.2" fill="#231f20" stroke="#231f20" stroke-width="0.05" text-anchor="end" textLength="14.00" lengthAdjust="spacingAndGlyphs" >MEP</text>
<text x="205.00" y="606.59" font-size="9.2" fill="#231f20" stroke="#231f20" stroke-width="0.05" text-anchor="end" textLength="12.00" lengthAdjust="spacingAndGlyphs" >CLP</text>
<rect x="208.40" y="615.8" width="140.22" height="2.1" fill="url(#cbar)"/>
<text x="208.40" y="628.60" font-size="8.6" fill="#231f20" stroke="#231f20" stroke-width="0.05" text-anchor="middle" textLength="10.40" lengthAdjust="spacingAndGlyphs" >0.4</text>
<text x="278.51" y="628.60" font-size="8.6" fill="#231f20" stroke="#231f20" stroke-width="0.05" text-anchor="middle" textLength="10.00" lengthAdjust="spacingAndGlyphs" >0.7</text>
<text x="348.62" y="628.60" font-size="8.6" fill="#231f20" stroke="#231f20" stroke-width="0.05" text-anchor="middle" textLength="13.50" lengthAdjust="spacingAndGlyphs" >1.00</text>
<text x="368.30" y="510.60" font-size="10" fill="#231f20" stroke="#231f20" stroke-width="0.05" >iii</text>
<text x="454.80" y="510.80" font-size="10" fill="#231f20" stroke="#231f20" stroke-width="0.05" text-anchor="middle" textLength="16.40" lengthAdjust="spacingAndGlyphs" >HSC</text>
<rect x="408.20" y="517.30" width="5.30" height="5.40" fill="#44618e" />
<text x="416.80" y="522.60" font-size="8" fill="#231f20" stroke="#231f20" stroke-width="0.05" textLength="29.40" lengthAdjust="spacingAndGlyphs" >2 months</text>
<rect x="457.40" y="517.30" width="5.40" height="5.40" fill="#a72b40" />
<text x="465.80" y="522.60" font-size="8" fill="#231f20" stroke="#231f20" stroke-width="0.05" textLength="33.70" lengthAdjust="spacingAndGlyphs" >26 months</text>
<line x1="396.90" y1="526.50" x2="396.90" y2="613.30" stroke="#231f20" stroke-width="1.1" />
<line x1="396.40" y1="612.80" x2="512.30" y2="612.80" stroke="#231f20" stroke-width="1.1" />
<line x1="393.90" y1="529.20" x2="396.90" y2="529.20" stroke="#231f20" stroke-width="0.9" />
<text x="391.60" y="532.00" font-size="8" fill="#231f20" stroke="#231f20" stroke-width="0.05" text-anchor="end" textLength="4.20" lengthAdjust="spacingAndGlyphs" >1</text>
<line x1="393.90" y1="545.92" x2="396.90" y2="545.92" stroke="#231f20" stroke-width="0.9" />
<text x="391.60" y="548.72" font-size="8" fill="#231f20" stroke="#231f20" stroke-width="0.05" text-anchor="end" textLength="10.50" lengthAdjust="spacingAndGlyphs" >0.8</text>
<line x1="393.90" y1="562.64" x2="396.90" y2="562.64" stroke="#231f20" stroke-width="0.9" />
<text x="391.60" y="565.44" font-size="8" fill="#231f20" stroke="#231f20" stroke-width="0.05" text-anchor="end" textLength="10.50" lengthAdjust="spacingAndGlyphs" >0.6</text>
<line x1="393.90" y1="579.36" x2="396.90" y2="579.36" stroke="#231f20" stroke-width="0.9" />
<text x="391.60" y="582.16" font-size="8" fill="#231f20" stroke="#231f20" stroke-width="0.05" text-anchor="end" textLength="10.50" lengthAdjust="spacingAndGlyphs" >0.4</text>
<line x1="393.90" y1="596.08" x2="396.90" y2="596.08" stroke="#231f20" stroke-width="0.9" />
<text x="391.60" y="598.88" font-size="8" fill="#231f20" stroke="#231f20" stroke-width="0.05" text-anchor="end" textLength="10.50" lengthAdjust="spacingAndGlyphs" >0.2</text>
<line x1="393.90" y1="612.80" x2="396.90" y2="612.80" stroke="#231f20" stroke-width="0.9" />
<text x="391.60" y="615.60" font-size="8" fill="#231f20" stroke="#231f20" stroke-width="0.05" text-anchor="end" textLength="4.20" lengthAdjust="spacingAndGlyphs" >0</text>
<rect x="400.80" y="533.80" width="4.50" height="79.00" fill="#44618e" />
<rect x="412.10" y="535.80" width="4.60" height="77.00" fill="#a72b40" />
<line x1="400.80" y1="616.30" x2="416.60" y2="616.30" stroke="#231f20" stroke-width="0.9" />
<text x="408.70" y="626.20" font-size="9.0" fill="#231f20" stroke="#231f20" stroke-width="0.05" text-anchor="middle" textLength="14.00" lengthAdjust="spacingAndGlyphs" >MPP</text>
<rect x="423.85" y="540.40" width="4.50" height="72.40" fill="#44618e" />
<rect x="435.15" y="551.60" width="4.60" height="61.20" fill="#a72b40" />
<line x1="423.85" y1="616.30" x2="439.65" y2="616.30" stroke="#231f20" stroke-width="0.9" />
<text x="431.75" y="626.20" font-size="9.0" fill="#231f20" stroke="#231f20" stroke-width="0.05" text-anchor="middle" textLength="14.00" lengthAdjust="spacingAndGlyphs" >CMP</text>
<rect x="446.90" y="541.57" width="4.50" height="71.23" fill="#44618e" />
<rect x="458.20" y="562.22" width="4.60" height="50.58" fill="#a72b40" />
<line x1="446.90" y1="616.30" x2="462.70" y2="616.30" stroke="#231f20" stroke-width="0.9" />
<text x="454.80" y="626.20" font-size="9.0" fill="#231f20" stroke="#231f20" stroke-width="0.05" text-anchor="middle" textLength="14.00" lengthAdjust="spacingAndGlyphs" >GMP</text>
<rect x="469.95" y="542.99" width="4.50" height="69.81" fill="#44618e" />
<rect x="481.25" y="573.51" width="4.60" height="39.29" fill="#a72b40" />
<line x1="469.95" y1="616.30" x2="485.75" y2="616.30" stroke="#231f20" stroke-width="0.9" />
<text x="477.85" y="626.20" font-size="9.0" fill="#231f20" stroke="#231f20" stroke-width="0.05" text-anchor="middle" textLength="14.00" lengthAdjust="spacingAndGlyphs" >MEP</text>
<rect x="493.00" y="535.30" width="4.50" height="77.50" fill="#44618e" />
<rect x="504.30" y="548.01" width="4.60" height="64.79" fill="#a72b40" />
<line x1="493.00" y1="616.30" x2="508.80" y2="616.30" stroke="#231f20" stroke-width="0.9" />
<text x="500.90" y="626.20" font-size="9.0" fill="#231f20" stroke="#231f20" stroke-width="0.05" text-anchor="middle" textLength="12.00" lengthAdjust="spacingAndGlyphs" >CLP</text>
<text x="375.20" y="570.00" font-size="8.8" fill="#231f20" stroke="#231f20" stroke-width="0.05" text-anchor="middle" textLength="89.00" lengthAdjust="spacingAndGlyphs" transform="rotate(-90 375.20 570.00)" >Correlation coefficient</text>
<g shape-rendering="crispEdges">
<rect x="0" y="0" width="520" height="1" fill="#4a4a4a"/>
<rect x="1" y="1" width="518" height="1" fill="#a8a8a8"/>
<rect x="0" y="636" width="520" height="1" fill="#4a4a4a"/>
<rect x="1" y="635" width="518" height="1" fill="#a8a8a8"/>
<rect x="519" y="0" width="1" height="637" fill="#4a4a4a"/>
<rect x="518" y="1" width="1" height="635" fill="#a8a8a8"/>
<rect x="0" y="0" width="1" height="637" fill="#060606"/>
<rect x="1" y="1" width="1" height="635" fill="#8a8a8a"/>
</g>
</svg>
</body></html>
